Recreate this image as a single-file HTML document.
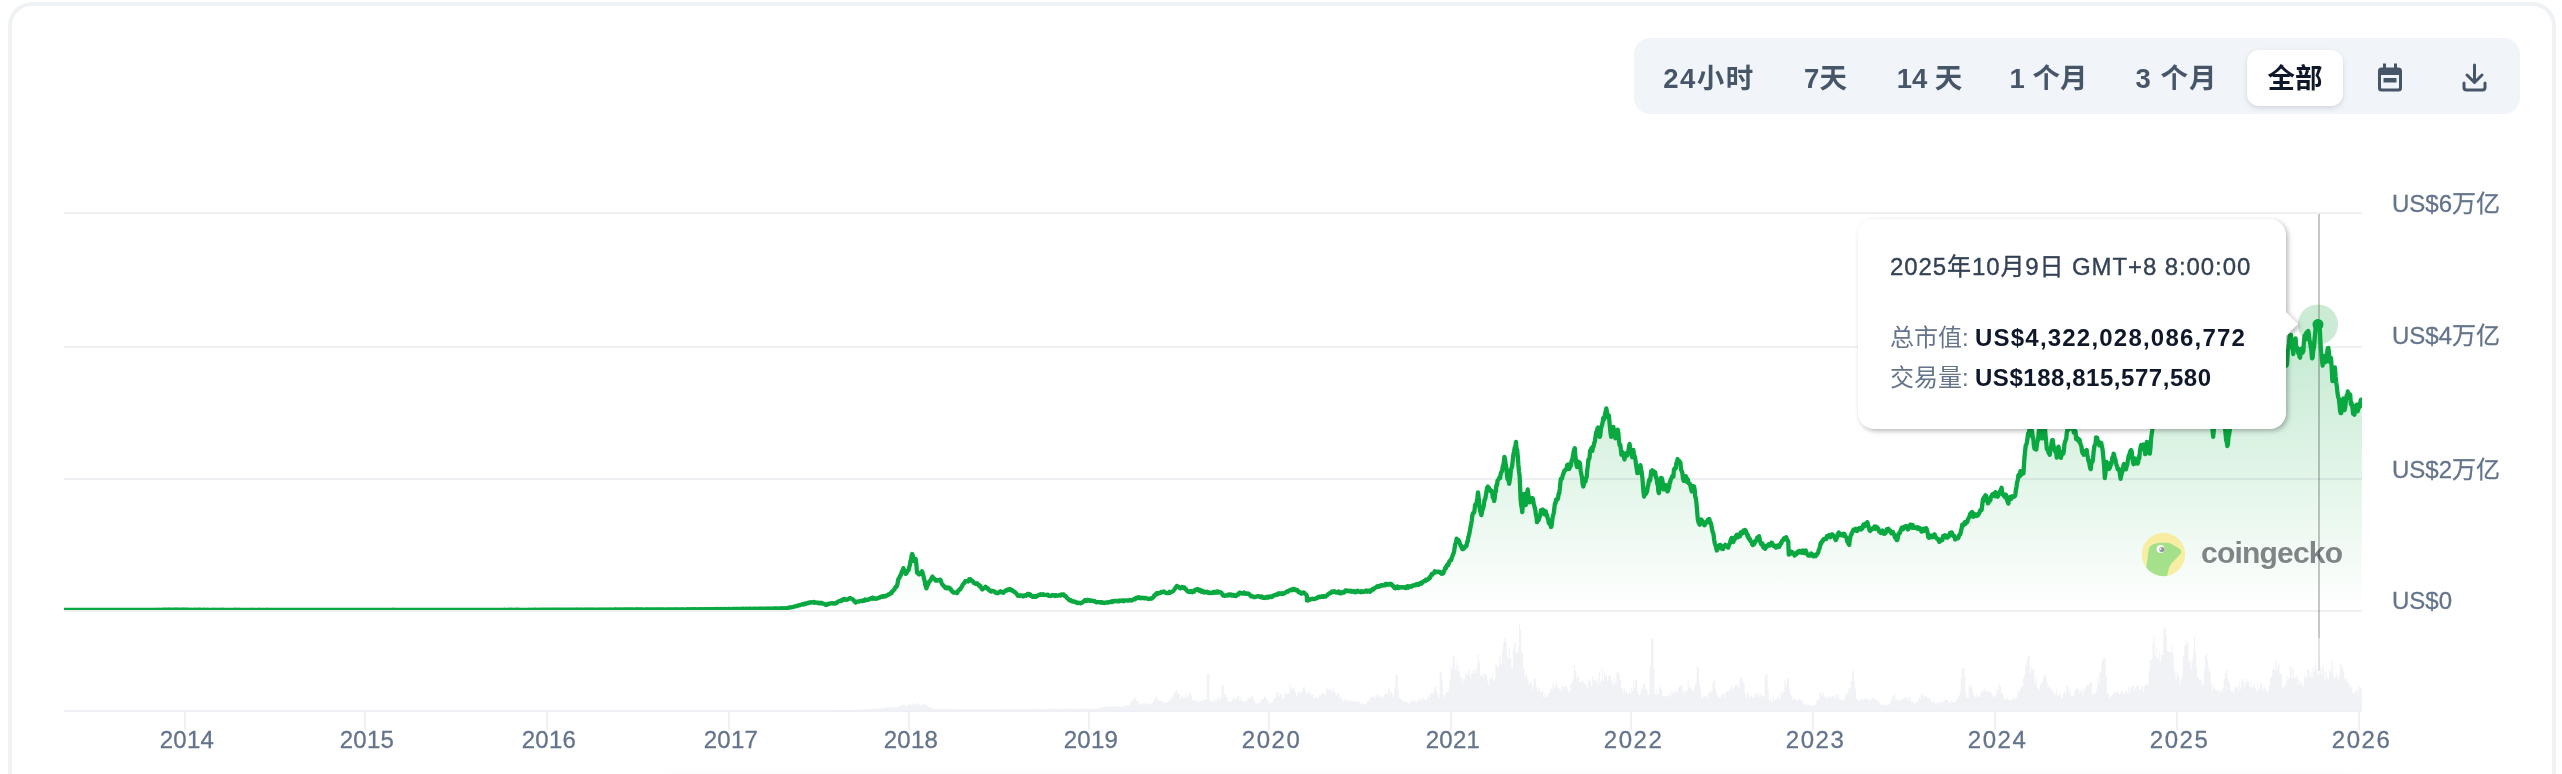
<!DOCTYPE html>
<html lang="zh-CN">
<head>
<meta charset="utf-8">
<title>加密货币总市值图表</title>
<style>
html,body{margin:0;padding:0;background:#fff;}
body{width:2562px;height:774px;overflow:hidden;position:relative;font-family:"Liberation Sans","Noto Sans CJK SC",sans-serif;color:#0f172a;}
.card{position:absolute;left:8px;top:2px;width:2540px;height:900px;border:4px solid #eff2f5;border-radius:24px;background:#fff;}
.tabs{position:absolute;left:1634px;top:38px;width:886px;height:76px;background:#f1f5f9;border-radius:16px;}
.tab{position:absolute;top:50px;height:56px;line-height:57px;font-size:27.500px;font-weight:700;color:#475569;white-space:nowrap;transform:translateX(-50%);text-align:center;}
.tab.on{color:#0f172a;}
.pill{position:absolute;left:2247px;top:50px;width:96px;height:56px;background:#fff;border-radius:12px;box-shadow:0 2px 6px rgba(15,23,42,.10),0 2px 4px -2px rgba(15,23,42,.10);}
#root{position:absolute;left:0;top:0;width:2562px;height:774px;overflow:hidden;will-change:transform;}
svg{position:absolute;left:0;top:0;}
.bshadow{position:absolute;left:660px;top:786px;width:1700px;height:40px;border-radius:10px;box-shadow:0 0 26px rgba(15,23,42,.07);}
.ylab{position:absolute;left:2392px;font-size:24px;line-height:28px;color:#64748b;white-space:nowrap;-webkit-text-stroke:.3px #64748b;}
.xlab{position:absolute;top:726px;font-size:24px;line-height:28px;color:#64748b;transform:translateX(-50%);white-space:nowrap;-webkit-text-stroke:.3px #64748b;}
.tip{position:absolute;left:1858px;top:219px;width:428px;height:210px;background:#fff;border-radius:16px;filter:drop-shadow(2px 2px 2.5px rgba(0,0,0,.28));}
.tip:after{content:"";position:absolute;left:427.5px;top:93px;border-left:12.5px solid #fff;border-top:12px solid transparent;border-bottom:12px solid transparent;}
.t1{position:absolute;left:32px;top:34px;font-size:24px;line-height:28px;color:#334155;white-space:nowrap;letter-spacing:.9px;-webkit-text-stroke:.35px #334155;}
.t2,.t3{position:absolute;left:32px;font-size:24px;line-height:28px;color:#64748b;white-space:nowrap;}
.t2{top:105px;} .t3{top:145px;}
.t2 b,.t3 b{color:#0f172a;font-weight:700;letter-spacing:1.21px;position:absolute;left:85px;top:0;}
.t3 b{letter-spacing:.54px;}
.wm{position:absolute;left:2201px;top:533px;font-size:30px;line-height:40px;font-weight:700;color:#7f8587;letter-spacing:-.8px;white-space:nowrap;}
</style>
</head>
<body>
<div id="root">
<div class="card"></div>
<div class="bshadow"></div>
<div class="tabs"></div>
<div class="pill"></div>
<div class="tab" style="left:1709px;letter-spacing:1.5px">24小时</div>
<div class="tab" style="left:1825.5px">7天</div>
<div class="tab" style="left:1929.5px">14 天</div>
<div class="tab" style="left:2048.5px">1 个月</div>
<div class="tab" style="left:2176.5px;letter-spacing:1px">3 个月</div>
<div class="tab on" style="left:2295px">全部</div>
<svg width="2562" height="774" viewBox="0 0 2562 774">
<defs>
<linearGradient id="ga" x1="0" y1="324" x2="0" y2="611" gradientUnits="userSpaceOnUse">
<stop offset="0" stop-color="#0aa840" stop-opacity=".25"/>
<stop offset="1" stop-color="#0aa840" stop-opacity="0"/>
</linearGradient>
<clipPath id="plot"><rect x="64" y="200" width="2298" height="410"/></clipPath>
</defs>
<!-- toolbar icons -->
<g fill="#475569">
<path d="M2383 63.5h3v4h8v-4h3v4h1.5a3.5 3.5 0 0 1 3.500 3.500v17a3.500 3.500 0 0 1 -3.500 3.500h-17a3.500 3.500 0 0 1 -3.500 -3.500v-17a3.500 3.500 0 0 1 3.500 -3.500h1.500zM2381 75v12.500a1 1 0 0 0 1 1h16a1 1 0 0 0 1 -1v-12.500zM2383.500 78h13v4.500h-13z" fill-rule="evenodd"/>
</g>
<g fill="none" stroke="#475569" stroke-width="3" stroke-linecap="round" stroke-linejoin="round">
<path d="M2474.500 65v17M2467 75l7.500 7.500l7.500 -7.500M2464 83v4.500a2.500 2.500 0 0 0 2.500 2.500h16a2.500 2.500 0 0 0 2.500 -2.500v-4.500"/>
</g>
<!-- grid -->
<rect x="64" y="212" width="2298" height="2" fill="#edeff3"/><rect x="64" y="346" width="2298" height="2" fill="#edeff3"/><rect x="64" y="478" width="2298" height="2" fill="#edeff3"/><rect x="64" y="610" width="2298" height="2" fill="#edeff3"/>
<!-- volume -->
<path d="M64 711 L64 710.5 L64 710.5 L64 710.5 L65 710.5 L65 710.5 L66 710.5 L66 710.5 L67 710.5 L67 710.5 L68 710.5 L68 710.5 L69 710.5 L69 710.5 L70 710.5 L70 710.5 L71 710.5 L71 710.5 L72 710.5 L72 710.5 L73 710.5 L73 710.5 L74 710.5 L74 710.5 L75 710.5 L75 710.5 L76 710.5 L76 710.5 L77 710.5 L77 710.5 L78 710.5 L78 710.5 L79 710.5 L79 710.5 L80 710.5 L80 710.5 L81 710.5 L81 710.5 L82 710.5 L82 710.5 L83 710.5 L83 710.5 L84 710.5 L84 710.5 L85 710.5 L85 710.5 L86 710.5 L86 710.5 L87 710.5 L87 710.5 L88 710.5 L88 710.5 L89 710.5 L89 710.5 L90 710.5 L90 710.5 L91 710.5 L91 710.5 L92 710.5 L92 710.5 L93 710.5 L93 710.5 L94 710.5 L94 710.5 L95 710.5 L95 710.5 L96 710.5 L96 710.5 L97 710.5 L97 710.5 L98 710.5 L98 710.5 L99 710.5 L99 710.5 L100 710.5 L100 710.5 L101 710.5 L101 710.5 L102 710.5 L102 710.5 L103 710.5 L103 710.5 L104 710.5 L104 710.5 L105 710.5 L105 710.5 L106 710.5 L106 710.5 L107 710.5 L107 710.5 L108 710.5 L108 710.5 L109 710.5 L109 710.5 L110 710.5 L110 710.5 L111 710.5 L111 710.5 L112 710.5 L112 710.5 L113 710.5 L113 710.5 L114 710.5 L114 710.5 L115 710.5 L115 710.5 L116 710.5 L116 710.5 L117 710.5 L117 710.5 L118 710.5 L118 710.5 L119 710.5 L119 710.5 L120 710.5 L120 710.5 L121 710.5 L121 710.5 L122 710.5 L122 710.5 L123 710.5 L123 710.5 L124 710.5 L124 710.5 L125 710.5 L125 710.5 L126 710.5 L126 710.5 L127 710.5 L127 710.5 L128 710.5 L128 710.5 L129 710.5 L129 710.5 L130 710.5 L130 710.5 L131 710.5 L131 710.5 L132 710.5 L132 710.5 L133 710.5 L133 710.5 L134 710.5 L134 710.5 L135 710.5 L135 710.5 L136 710.5 L136 710.5 L137 710.5 L137 710.5 L138 710.5 L138 710.5 L139 710.5 L139 710.5 L140 710.5 L140 710.5 L141 710.5 L141 710.5 L142 710.5 L142 710.5 L143 710.5 L143 710.5 L144 710.5 L144 710.5 L145 710.5 L145 710.5 L146 710.5 L146 710.5 L147 710.5 L147 710.5 L148 710.5 L148 710.5 L149 710.5 L149 710.5 L150 710.5 L150 710.5 L151 710.5 L151 710.5 L152 710.5 L152 710.5 L153 710.5 L153 710.5 L154 710.5 L154 710.5 L155 710.5 L155 710.5 L156 710.5 L156 710.5 L157 710.5 L157 710.5 L158 710.5 L158 710.5 L159 710.5 L159 710.5 L160 710.5 L160 710.5 L161 710.5 L161 710.5 L162 710.5 L162 710.5 L163 710.5 L163 710.5 L164 710.5 L164 710.5 L165 710.5 L165 710.5 L166 710.5 L166 710.5 L167 710.5 L167 710.5 L168 710.5 L168 710.5 L169 710.5 L169 710.5 L170 710.5 L170 710.5 L171 710.5 L171 710.5 L172 710.5 L172 710.5 L173 710.5 L173 710.5 L174 710.5 L174 710.5 L175 710.5 L175 710.5 L176 710.5 L176 710.5 L177 710.5 L177 710.5 L178 710.5 L178 710.5 L179 710.5 L179 710.5 L180 710.5 L180 710.5 L181 710.5 L181 710.5 L182 710.5 L182 710.5 L183 710.5 L183 710.5 L184 710.5 L184 710.5 L185 710.5 L185 710.5 L186 710.5 L186 710.5 L187 710.5 L187 710.5 L188 710.5 L188 710.5 L189 710.5 L189 710.5 L190 710.5 L190 710.5 L191 710.5 L191 710.5 L192 710.5 L192 710.5 L193 710.5 L193 710.5 L194 710.5 L194 710.5 L195 710.5 L195 710.5 L196 710.5 L196 710.5 L197 710.5 L197 710.5 L198 710.5 L198 710.5 L199 710.5 L199 710.5 L200 710.5 L200 710.5 L201 710.5 L201 710.5 L202 710.5 L202 710.5 L203 710.5 L203 710.5 L204 710.5 L204 710.5 L205 710.5 L205 710.5 L206 710.5 L206 710.5 L207 710.5 L207 710.5 L208 710.5 L208 710.5 L209 710.5 L209 710.5 L210 710.5 L210 710.5 L211 710.5 L211 710.5 L212 710.5 L212 710.5 L213 710.5 L213 710.5 L214 710.5 L214 710.5 L215 710.5 L215 710.5 L216 710.5 L216 710.5 L217 710.5 L217 710.5 L218 710.5 L218 710.4 L219 710.4 L219 710.5 L220 710.5 L220 710.4 L221 710.4 L221 710.5 L222 710.5 L222 710.5 L223 710.5 L223 710.4 L224 710.4 L224 710.4 L225 710.4 L225 710.5 L226 710.5 L226 710.5 L227 710.5 L227 710.5 L228 710.5 L228 710.5 L229 710.5 L229 710.5 L230 710.5 L230 710.4 L231 710.4 L231 710.4 L232 710.4 L232 710.5 L233 710.5 L233 710.5 L234 710.5 L234 710.4 L235 710.4 L235 710.4 L236 710.4 L236 710.4 L237 710.4 L237 710.5 L238 710.5 L238 710.5 L239 710.5 L239 710.5 L240 710.5 L240 710.4 L241 710.4 L241 710.5 L242 710.5 L242 710.5 L243 710.5 L243 710.4 L244 710.4 L244 710.4 L245 710.4 L245 710.4 L246 710.4 L246 710.4 L247 710.4 L247 710.5 L248 710.5 L248 710.5 L249 710.5 L249 710.4 L250 710.4 L250 710.4 L251 710.4 L251 710.4 L252 710.4 L252 710.4 L253 710.4 L253 710.4 L254 710.4 L254 710.4 L255 710.4 L255 710.4 L256 710.4 L256 710.4 L257 710.4 L257 710.4 L258 710.4 L258 710.4 L259 710.4 L259 710.4 L260 710.4 L260 710.4 L261 710.4 L261 710.4 L262 710.4 L262 710.4 L263 710.4 L263 710.5 L264 710.5 L264 710.4 L265 710.4 L265 710.4 L266 710.4 L266 710.4 L267 710.4 L267 710.5 L268 710.5 L268 710.4 L269 710.4 L269 710.4 L270 710.4 L270 710.4 L271 710.4 L271 710.4 L272 710.4 L272 710.4 L273 710.4 L273 710.4 L274 710.4 L274 710.5 L275 710.5 L275 710.4 L276 710.4 L276 710.4 L277 710.4 L277 710.4 L278 710.4 L278 710.4 L279 710.4 L279 710.4 L280 710.4 L280 710.4 L281 710.4 L281 710.4 L282 710.4 L282 710.4 L283 710.4 L283 710.4 L284 710.4 L284 710.4 L285 710.4 L285 710.4 L286 710.4 L286 710.4 L287 710.4 L287 710.4 L288 710.4 L288 710.4 L289 710.4 L289 710.4 L290 710.4 L290 710.4 L291 710.4 L291 710.4 L292 710.4 L292 710.4 L293 710.4 L293 710.4 L294 710.4 L294 710.4 L295 710.4 L295 710.4 L296 710.4 L296 710.4 L297 710.4 L297 710.4 L298 710.4 L298 710.4 L299 710.4 L299 710.4 L300 710.4 L300 710.4 L301 710.4 L301 710.4 L302 710.4 L302 710.4 L303 710.4 L303 710.4 L304 710.4 L304 710.4 L305 710.4 L305 710.4 L306 710.4 L306 710.4 L307 710.4 L307 710.4 L308 710.4 L308 710.4 L309 710.4 L309 710.4 L310 710.4 L310 710.4 L311 710.4 L311 710.4 L312 710.4 L312 710.4 L313 710.4 L313 710.4 L314 710.4 L314 710.4 L315 710.4 L315 710.4 L316 710.4 L316 710.4 L317 710.4 L317 710.4 L318 710.4 L318 710.4 L319 710.4 L319 710.4 L320 710.4 L320 710.4 L321 710.4 L321 710.4 L322 710.4 L322 710.4 L323 710.4 L323 710.4 L324 710.4 L324 710.4 L325 710.4 L325 710.4 L326 710.4 L326 710.4 L327 710.4 L327 710.4 L328 710.4 L328 710.4 L329 710.4 L329 710.4 L330 710.4 L330 710.4 L331 710.4 L331 710.4 L332 710.4 L332 710.4 L333 710.4 L333 710.4 L334 710.4 L334 710.4 L335 710.4 L335 710.4 L336 710.4 L336 710.4 L337 710.4 L337 710.4 L338 710.4 L338 710.4 L339 710.4 L339 710.4 L340 710.4 L340 710.4 L341 710.4 L341 710.4 L342 710.4 L342 710.4 L343 710.4 L343 710.4 L344 710.4 L344 710.4 L345 710.4 L345 710.4 L346 710.4 L346 710.4 L347 710.4 L347 710.4 L348 710.4 L348 710.4 L349 710.4 L349 710.4 L350 710.4 L350 710.4 L351 710.4 L351 710.4 L352 710.4 L352 710.4 L353 710.4 L353 710.4 L354 710.4 L354 710.4 L355 710.4 L355 710.4 L356 710.4 L356 710.4 L357 710.4 L357 710.4 L358 710.4 L358 710.4 L359 710.4 L359 710.4 L360 710.4 L360 710.4 L361 710.4 L361 710.4 L362 710.4 L362 710.4 L363 710.4 L363 710.4 L364 710.4 L364 710.4 L365 710.4 L365 710.4 L366 710.4 L366 710.4 L367 710.4 L367 710.4 L368 710.4 L368 710.4 L369 710.4 L369 710.4 L370 710.4 L370 710.4 L371 710.4 L371 710.4 L372 710.4 L372 710.4 L373 710.4 L373 710.4 L374 710.4 L374 710.4 L375 710.4 L375 710.4 L376 710.4 L376 710.4 L377 710.4 L377 710.4 L378 710.4 L378 710.4 L379 710.4 L379 710.4 L380 710.4 L380 710.4 L381 710.4 L381 710.4 L382 710.4 L382 710.4 L383 710.4 L383 710.4 L384 710.4 L384 710.4 L385 710.4 L385 710.4 L386 710.4 L386 710.4 L387 710.4 L387 710.4 L388 710.4 L388 710.4 L389 710.4 L389 710.4 L390 710.4 L390 710.4 L391 710.4 L391 710.4 L392 710.4 L392 710.4 L393 710.4 L393 710.4 L394 710.4 L394 710.4 L395 710.4 L395 710.4 L396 710.4 L396 710.4 L397 710.4 L397 710.4 L398 710.4 L398 710.4 L399 710.4 L399 710.4 L400 710.4 L400 710.4 L401 710.4 L401 710.4 L402 710.4 L402 710.4 L403 710.4 L403 710.4 L404 710.4 L404 710.4 L405 710.4 L405 710.4 L406 710.4 L406 710.4 L407 710.4 L407 710.4 L408 710.4 L408 710.4 L409 710.4 L409 710.4 L410 710.4 L410 710.4 L411 710.4 L411 710.4 L412 710.4 L412 710.4 L413 710.4 L413 710.4 L414 710.4 L414 710.4 L415 710.4 L415 710.4 L416 710.4 L416 710.4 L417 710.4 L417 710.4 L418 710.4 L418 710.4 L419 710.4 L419 710.4 L420 710.4 L420 710.4 L421 710.4 L421 710.4 L422 710.4 L422 710.4 L423 710.4 L423 710.4 L424 710.4 L424 710.4 L425 710.4 L425 710.4 L426 710.4 L426 710.4 L427 710.4 L427 710.4 L428 710.4 L428 710.4 L429 710.4 L429 710.4 L430 710.4 L430 710.4 L431 710.4 L431 710.4 L432 710.4 L432 710.4 L433 710.4 L433 710.4 L434 710.4 L434 710.4 L435 710.4 L435 710.4 L436 710.4 L436 710.4 L437 710.4 L437 710.4 L438 710.4 L438 710.4 L439 710.4 L439 710.4 L440 710.4 L440 710.4 L441 710.4 L441 710.4 L442 710.4 L442 710.4 L443 710.4 L443 710.4 L444 710.4 L444 710.4 L445 710.4 L445 710.4 L446 710.4 L446 710.4 L447 710.4 L447 710.4 L448 710.4 L448 710.4 L449 710.4 L449 710.4 L450 710.4 L450 710.4 L451 710.4 L451 710.4 L452 710.4 L452 710.4 L453 710.4 L453 710.4 L454 710.4 L454 710.4 L455 710.4 L455 710.4 L456 710.4 L456 710.4 L457 710.4 L457 710.4 L458 710.4 L458 710.4 L459 710.4 L459 710.4 L460 710.4 L460 710.4 L461 710.4 L461 710.4 L462 710.4 L462 710.4 L463 710.4 L463 710.4 L464 710.4 L464 710.4 L465 710.4 L465 710.4 L466 710.4 L466 710.4 L467 710.4 L467 710.4 L468 710.4 L468 710.4 L469 710.4 L469 710.4 L470 710.4 L470 710.4 L471 710.4 L471 710.4 L472 710.4 L472 710.4 L473 710.4 L473 710.4 L474 710.4 L474 710.4 L475 710.4 L475 710.4 L476 710.4 L476 710.4 L477 710.4 L477 710.4 L478 710.4 L478 710.4 L479 710.4 L479 710.4 L480 710.4 L480 710.4 L481 710.4 L481 710.4 L482 710.4 L482 710.4 L483 710.4 L483 710.4 L484 710.4 L484 710.4 L485 710.4 L485 710.4 L486 710.4 L486 710.4 L487 710.4 L487 710.4 L488 710.4 L488 710.4 L489 710.4 L489 710.4 L490 710.4 L490 710.4 L491 710.4 L491 710.4 L492 710.4 L492 710.3 L493 710.3 L493 710.4 L494 710.4 L494 710.4 L495 710.4 L495 710.4 L496 710.4 L496 710.4 L497 710.4 L497 710.4 L498 710.4 L498 710.4 L499 710.4 L499 710.3 L500 710.3 L500 710.3 L501 710.3 L501 710.4 L502 710.4 L502 710.3 L503 710.3 L503 710.4 L504 710.4 L504 710.4 L505 710.4 L505 710.4 L506 710.4 L506 710.4 L507 710.4 L507 710.4 L508 710.4 L508 710.4 L509 710.4 L509 710.4 L510 710.4 L510 710.4 L511 710.4 L511 710.4 L512 710.4 L512 710.3 L513 710.3 L513 710.4 L514 710.4 L514 710.4 L515 710.4 L515 710.4 L516 710.4 L516 710.4 L517 710.4 L517 710.4 L518 710.4 L518 710.4 L519 710.4 L519 710.4 L520 710.4 L520 710.4 L521 710.4 L521 710.4 L522 710.4 L522 710.4 L523 710.4 L523 710.4 L524 710.4 L524 710.4 L525 710.4 L525 710.3 L526 710.3 L526 710.4 L527 710.4 L527 710.4 L528 710.4 L528 710.3 L529 710.3 L529 710.4 L530 710.4 L530 710.4 L531 710.4 L531 710.3 L532 710.3 L532 710.4 L533 710.4 L533 710.4 L534 710.4 L534 710.4 L535 710.4 L535 710.4 L536 710.4 L536 710.4 L537 710.4 L537 710.4 L538 710.4 L538 710.4 L539 710.4 L539 710.3 L540 710.3 L540 710.3 L541 710.3 L541 710.4 L542 710.4 L542 710.3 L543 710.3 L543 710.4 L544 710.4 L544 710.4 L545 710.4 L545 710.4 L546 710.4 L546 710.3 L547 710.3 L547 710.4 L548 710.4 L548 710.4 L549 710.4 L549 710.4 L550 710.4 L550 710.3 L551 710.3 L551 710.4 L552 710.4 L552 710.4 L553 710.4 L553 710.4 L554 710.4 L554 710.4 L555 710.4 L555 710.3 L556 710.3 L556 710.4 L557 710.4 L557 710.3 L558 710.3 L558 710.4 L559 710.4 L559 710.4 L560 710.4 L560 710.4 L561 710.4 L561 710.4 L562 710.4 L562 710.3 L563 710.3 L563 710.3 L564 710.3 L564 710.4 L565 710.4 L565 710.4 L566 710.4 L566 710.4 L567 710.4 L567 710.3 L568 710.3 L568 710.3 L569 710.3 L569 710.3 L570 710.3 L570 710.3 L571 710.3 L571 710.4 L572 710.4 L572 710.4 L573 710.4 L573 710.4 L574 710.4 L574 710.3 L575 710.3 L575 710.3 L576 710.3 L576 710.4 L577 710.4 L577 710.4 L578 710.4 L578 710.3 L579 710.3 L579 710.4 L580 710.4 L580 710.3 L581 710.3 L581 710.3 L582 710.3 L582 710.3 L583 710.3 L583 710.4 L584 710.4 L584 710.3 L585 710.3 L585 710.3 L586 710.3 L586 710.3 L587 710.3 L587 710.3 L588 710.3 L588 710.3 L589 710.3 L589 710.4 L590 710.4 L590 710.3 L591 710.3 L591 710.3 L592 710.3 L592 710.3 L593 710.3 L593 710.3 L594 710.3 L594 710.4 L595 710.4 L595 710.3 L596 710.3 L596 710.3 L597 710.3 L597 710.3 L598 710.3 L598 710.3 L599 710.3 L599 710.3 L600 710.3 L600 710.4 L601 710.4 L601 710.3 L602 710.3 L602 710.4 L603 710.4 L603 710.3 L604 710.3 L604 710.3 L605 710.3 L605 710.3 L606 710.3 L606 710.3 L607 710.3 L607 710.3 L608 710.3 L608 710.3 L609 710.3 L609 710.4 L610 710.4 L610 710.3 L611 710.3 L611 710.3 L612 710.3 L612 710.4 L613 710.4 L613 710.3 L614 710.3 L614 710.4 L615 710.4 L615 710.4 L616 710.4 L616 710.3 L617 710.3 L617 710.3 L618 710.3 L618 710.3 L619 710.3 L619 710.3 L620 710.3 L620 710.3 L621 710.3 L621 710.4 L622 710.4 L622 710.3 L623 710.3 L623 710.3 L624 710.3 L624 710.3 L625 710.3 L625 710.3 L626 710.3 L626 710.3 L627 710.3 L627 710.3 L628 710.3 L628 710.3 L629 710.3 L629 710.3 L630 710.3 L630 710.3 L631 710.3 L631 710.3 L632 710.3 L632 710.3 L633 710.3 L633 710.3 L634 710.3 L634 710.4 L635 710.4 L635 710.4 L636 710.4 L636 710.4 L637 710.4 L637 710.4 L638 710.4 L638 710.4 L639 710.4 L639 710.3 L640 710.3 L640 710.3 L641 710.3 L641 710.3 L642 710.3 L642 710.3 L643 710.3 L643 710.3 L644 710.3 L644 710.3 L645 710.3 L645 710.3 L646 710.3 L646 710.3 L647 710.3 L647 710.3 L648 710.3 L648 710.4 L649 710.4 L649 710.3 L650 710.3 L650 710.3 L651 710.3 L651 710.3 L652 710.3 L652 710.3 L653 710.3 L653 710.3 L654 710.3 L654 710.3 L655 710.3 L655 710.3 L656 710.3 L656 710.4 L657 710.4 L657 710.3 L658 710.3 L658 710.3 L659 710.3 L659 710.4 L660 710.4 L660 710.3 L661 710.3 L661 710.3 L662 710.3 L662 710.3 L663 710.3 L663 710.3 L664 710.3 L664 710.3 L665 710.3 L665 710.3 L666 710.3 L666 710.4 L667 710.4 L667 710.4 L668 710.4 L668 710.3 L669 710.3 L669 710.3 L670 710.3 L670 710.4 L671 710.4 L671 710.4 L672 710.4 L672 710.3 L673 710.3 L673 710.3 L674 710.3 L674 710.3 L675 710.3 L675 710.4 L676 710.4 L676 710.3 L677 710.3 L677 710.3 L678 710.3 L678 710.4 L679 710.4 L679 710.3 L680 710.3 L680 710.3 L681 710.3 L681 710.3 L682 710.3 L682 710.3 L683 710.3 L683 710.3 L684 710.3 L684 710.3 L685 710.3 L685 710.3 L686 710.3 L686 710.3 L687 710.3 L687 710.4 L688 710.4 L688 710.3 L689 710.3 L689 710.3 L690 710.3 L690 710.3 L691 710.3 L691 710.3 L692 710.3 L692 710.3 L693 710.3 L693 710.3 L694 710.3 L694 710.3 L695 710.3 L695 710.3 L696 710.3 L696 710.3 L697 710.3 L697 710.3 L698 710.3 L698 710.3 L699 710.3 L699 710.3 L700 710.3 L700 710.3 L701 710.3 L701 710.3 L702 710.3 L702 710.3 L703 710.3 L703 710.3 L704 710.3 L704 710.3 L705 710.3 L705 710.3 L706 710.3 L706 710.3 L707 710.3 L707 710.3 L708 710.3 L708 710.3 L709 710.3 L709 710.3 L710 710.3 L710 710.3 L711 710.3 L711 710.2 L712 710.2 L712 710.3 L713 710.3 L713 710.2 L714 710.2 L714 710.3 L715 710.3 L715 710.2 L716 710.2 L716 710.2 L717 710.2 L717 710.2 L718 710.2 L718 710.3 L719 710.3 L719 710.3 L720 710.3 L720 710.2 L721 710.2 L721 710.2 L722 710.2 L722 710.3 L723 710.3 L723 710.3 L724 710.3 L724 710.2 L725 710.2 L725 710.3 L726 710.3 L726 710.2 L727 710.2 L727 710.2 L728 710.2 L728 710.2 L729 710.2 L729 710.2 L730 710.2 L730 710.3 L731 710.3 L731 710.2 L732 710.2 L732 710.2 L733 710.2 L733 710.2 L734 710.2 L734 710.2 L735 710.2 L735 710.2 L736 710.2 L736 710.2 L737 710.2 L737 710.2 L738 710.2 L738 710.2 L739 710.2 L739 710.2 L740 710.2 L740 710.2 L741 710.2 L741 710.2 L742 710.2 L742 710.2 L743 710.2 L743 710.2 L744 710.2 L744 710.2 L745 710.2 L745 710.1 L746 710.1 L746 710.2 L747 710.2 L747 710.2 L748 710.2 L748 710.2 L749 710.2 L749 710.1 L750 710.1 L750 710.2 L751 710.2 L751 710.2 L752 710.2 L752 710.1 L753 710.1 L753 710.1 L754 710.1 L754 710.2 L755 710.2 L755 710.2 L756 710.2 L756 710.1 L757 710.1 L757 710.1 L758 710.1 L758 710.1 L759 710.1 L759 710.1 L760 710.1 L760 710.1 L761 710.1 L761 710.1 L762 710.1 L762 710.1 L763 710.1 L763 710.2 L764 710.2 L764 710.1 L765 710.1 L765 710.2 L766 710.2 L766 710.1 L767 710.1 L767 710 L768 710 L768 710.2 L769 710.2 L769 710.1 L770 710.1 L770 710.2 L771 710.2 L771 710.2 L772 710.2 L772 710.1 L773 710.1 L773 710.1 L774 710.1 L774 710.2 L775 710.2 L775 710.1 L776 710.1 L776 710.1 L777 710.1 L777 710.1 L778 710.1 L778 710.2 L779 710.2 L779 710.1 L780 710.1 L780 710 L781 710 L781 710.1 L782 710.1 L782 710.1 L783 710.1 L783 710.1 L784 710.1 L784 710 L785 710 L785 710 L786 710 L786 710 L787 710 L787 710 L788 710 L788 710.1 L789 710.1 L789 710.1 L790 710.1 L790 710.1 L791 710.1 L791 710 L792 710 L792 710.1 L793 710.1 L793 710.1 L794 710.1 L794 709.9 L795 709.9 L795 710.1 L796 710.1 L796 709.9 L797 709.9 L797 710.1 L798 710.1 L798 710 L799 710 L799 710.1 L800 710.1 L800 709.9 L801 709.9 L801 710 L802 710 L802 710 L803 710 L803 710 L804 710 L804 709.9 L805 709.9 L805 710 L806 710 L806 710 L807 710 L807 710 L808 710 L808 710.1 L809 710.1 L809 709.9 L810 709.9 L810 710 L811 710 L811 709.9 L812 709.9 L812 710 L813 710 L813 710 L814 710 L814 710 L815 710 L815 709.9 L816 709.9 L816 710.1 L817 710.1 L817 710 L818 710 L818 710 L819 710 L819 710.1 L820 710.1 L820 709.9 L821 709.9 L821 709.9 L822 709.9 L822 710 L823 710 L823 709.9 L824 709.9 L824 709.9 L825 709.9 L825 710 L826 710 L826 710 L827 710 L827 709.8 L828 709.8 L828 710 L829 710 L829 709.9 L830 709.9 L830 710 L831 710 L831 710 L832 710 L832 710 L833 710 L833 709.8 L834 709.8 L834 709.9 L835 709.9 L835 709.8 L836 709.8 L836 709.8 L837 709.8 L837 709.9 L838 709.9 L838 709.8 L839 709.8 L839 709.9 L840 709.9 L840 709.9 L841 709.9 L841 709.8 L842 709.8 L842 709.8 L843 709.8 L843 709.8 L844 709.8 L844 709.9 L845 709.9 L845 709.8 L846 709.8 L846 709.9 L847 709.9 L847 709.7 L848 709.7 L848 709.8 L849 709.8 L849 709.9 L850 709.9 L850 709.8 L851 709.8 L851 710 L852 710 L852 710 L853 710 L853 709.8 L854 709.8 L854 709.9 L855 709.9 L855 709.8 L856 709.8 L856 709.8 L857 709.8 L857 710 L858 710 L858 709.8 L859 709.8 L859 709.8 L860 709.8 L860 709.8 L861 709.8 L861 709.7 L862 709.7 L862 709.7 L863 709.7 L863 709.4 L864 709.4 L864 709.3 L865 709.3 L865 709.5 L866 709.5 L866 709.5 L867 709.5 L867 709.3 L868 709.3 L868 709.2 L869 709.2 L869 709.3 L870 709.3 L870 709.2 L871 709.2 L871 708.7 L872 708.7 L872 708.7 L873 708.7 L873 708.4 L874 708.4 L874 708.3 L875 708.3 L875 708.3 L876 708.3 L876 708.6 L877 708.6 L877 708.7 L878 708.7 L878 708.5 L879 708.5 L879 708.3 L880.1 708.3 L880.1 708.2 L881.1 708.2 L881.1 708.1 L882.1 708.1 L882.1 708.2 L883.1 708.2 L883.1 707.6 L884.1 707.6 L884.1 708.1 L885.1 708.1 L885.1 707.8 L886.1 707.8 L886.1 707.2 L887.1 707.2 L887.1 707.2 L888.1 707.2 L888.1 707.8 L889.1 707.8 L889.1 707.8 L890.1 707.8 L890.1 707 L891.1 707 L891.1 708 L892.1 708 L892.1 707.7 L893.1 707.7 L893.1 707.1 L894.1 707.1 L894.1 707 L895.1 707 L895.1 707.5 L896.1 707.5 L896.1 707.6 L897.1 707.6 L897.1 706.6 L898.1 706.6 L898.1 707.1 L899.2 707.1 L899.2 705.9 L900.2 705.9 L900.2 706.2 L901.3 706.2 L901.3 704.9 L902.4 704.9 L902.4 705 L903.4 705 L903.4 704.3 L904.5 704.3 L904.5 706.2 L905.5 706.2 L905.5 705.6 L906.6 705.6 L906.6 705.8 L907.7 705.8 L907.7 704.5 L908.7 704.5 L908.7 703.7 L909.8 703.7 L909.8 704.5 L910.8 704.5 L910.8 705.2 L911.9 705.2 L911.9 703.7 L912.9 703.7 L912.9 704.9 L914 704.9 L914 704.2 L915 704.2 L915 704.4 L916.1 704.4 L916.1 703.1 L917.1 703.1 L917.1 702.9 L918.1 702.9 L918.1 704.1 L919.1 704.1 L919.1 704.8 L920.2 704.8 L920.2 705.5 L921.2 705.5 L921.2 704.7 L922.2 704.7 L922.2 704.4 L923.2 704.4 L923.2 704.4 L924.2 704.4 L924.2 704.1 L925.3 704.1 L925.3 704.5 L926.3 704.5 L926.3 705.1 L927.3 705.1 L927.3 706.6 L928.5 706.6 L928.5 707.4 L929.7 707.4 L929.7 707.2 L930.8 707.2 L930.8 708 L932 708 L932 708.9 L933.2 708.9 L933.2 709 L934.2 709 L934.2 708.8 L935.2 708.8 L935.2 709 L936.3 709 L936.3 709.2 L937.3 709.2 L937.3 709.2 L938.3 709.2 L938.3 709.3 L939.3 709.3 L939.3 709 L940.3 709 L940.3 708.8 L941.4 708.8 L941.4 708.8 L942.4 708.8 L942.4 709.1 L943.4 709.1 L943.4 709 L944.4 709 L944.4 708.8 L945.5 708.8 L945.5 708.9 L946.5 708.9 L946.5 709 L947.5 709 L947.5 709.1 L948.5 709.1 L948.5 709.1 L949.5 709.1 L949.5 709.3 L950.6 709.3 L950.6 709.3 L951.6 709.3 L951.6 709 L952.6 709 L952.6 708.8 L953.6 708.8 L953.6 709.1 L954.6 709.1 L954.6 709.2 L955.7 709.2 L955.7 709.2 L956.7 709.2 L956.7 709.2 L957.7 709.2 L957.7 709 L958.7 709 L958.7 709.2 L959.7 709.2 L959.7 708.9 L960.8 708.9 L960.8 709.4 L961.8 709.4 L961.8 709.3 L962.8 709.3 L962.8 709.2 L963.8 709.2 L963.8 709.2 L964.8 709.2 L964.8 709 L965.9 709 L965.9 709 L966.9 709 L966.9 709 L967.9 709 L967.9 709.2 L968.9 709.2 L968.9 709.5 L970 709.5 L970 709.2 L971 709.2 L971 709.2 L972 709.2 L972 709.3 L973 709.3 L973 709.4 L974 709.4 L974 709.2 L975.1 709.2 L975.1 709.1 L976.1 709.1 L976.1 709.2 L977.1 709.2 L977.1 709.5 L978.1 709.5 L978.1 709.2 L979.1 709.2 L979.1 709.3 L980.1 709.3 L980.1 709.3 L981.1 709.3 L981.1 709 L982.1 709 L982.1 709 L983.2 709 L983.2 709.2 L984.2 709.2 L984.2 709.4 L985.2 709.4 L985.2 709 L986.2 709 L986.2 709.4 L987.2 709.4 L987.2 709.3 L988.2 709.3 L988.2 709 L989.2 709 L989.2 709.3 L990.2 709.3 L990.2 709.3 L991.2 709.3 L991.2 709 L992.2 709 L992.2 709 L993.2 709 L993.2 709.3 L994.2 709.3 L994.2 709.3 L995.3 709.3 L995.3 709.3 L996.3 709.3 L996.3 709.4 L997.3 709.4 L997.3 709.3 L998.3 709.3 L998.3 708.9 L999.3 708.9 L999.3 709.4 L1000.3 709.4 L1000.3 709.3 L1001.3 709.3 L1001.3 709.3 L1002.3 709.3 L1002.3 709.4 L1003.3 709.4 L1003.3 709.1 L1004.3 709.1 L1004.3 709 L1005.3 709 L1005.3 708.9 L1006.3 708.9 L1006.3 709.1 L1007.4 709.1 L1007.4 708.9 L1008.4 708.9 L1008.4 709.4 L1009.4 709.4 L1009.4 709.2 L1010.4 709.2 L1010.4 708.8 L1011.4 708.8 L1011.4 709.4 L1012.4 709.4 L1012.4 709.2 L1013.4 709.2 L1013.4 709.1 L1014.4 709.1 L1014.4 709.2 L1015.4 709.2 L1015.4 709.1 L1016.4 709.1 L1016.4 709.4 L1017.4 709.4 L1017.4 709.2 L1018.5 709.2 L1018.5 708.8 L1019.5 708.8 L1019.5 709.3 L1020.5 709.3 L1020.5 708.8 L1021.5 708.8 L1021.5 709.3 L1022.5 709.3 L1022.5 708.8 L1023.5 708.8 L1023.5 708.9 L1024.5 708.9 L1024.5 709 L1025.5 709 L1025.5 709.3 L1026.5 709.3 L1026.5 709.3 L1027.5 709.3 L1027.5 708.9 L1028.5 708.9 L1028.5 709.2 L1029.5 709.2 L1029.5 709.2 L1030.6 709.2 L1030.6 708.8 L1031.6 708.8 L1031.6 708.8 L1032.6 708.8 L1032.6 709.3 L1033.6 709.3 L1033.6 708.7 L1034.6 708.7 L1034.6 708.9 L1035.6 708.9 L1035.6 709 L1036.6 709 L1036.6 709.1 L1037.6 709.1 L1037.6 709.2 L1038.6 709.2 L1038.6 709.1 L1039.6 709.1 L1039.6 708.7 L1040.7 708.7 L1040.7 709.1 L1041.7 709.1 L1041.7 709.2 L1042.7 709.2 L1042.7 709.2 L1043.7 709.2 L1043.7 709.2 L1044.7 709.2 L1044.7 709.1 L1045.7 709.1 L1045.7 708.7 L1046.7 708.7 L1046.7 709.2 L1047.7 709.2 L1047.7 709.2 L1048.7 709.2 L1048.7 708.7 L1049.7 708.7 L1049.7 708.6 L1050.8 708.6 L1050.8 708.6 L1051.8 708.6 L1051.8 709.1 L1052.8 709.1 L1052.8 709 L1053.8 709 L1053.8 708.6 L1054.8 708.6 L1054.8 708.9 L1055.8 708.9 L1055.8 708.8 L1056.8 708.8 L1056.8 709 L1057.8 709 L1057.8 709.2 L1058.8 709.2 L1058.8 709 L1059.8 709 L1059.8 708.7 L1060.9 708.7 L1060.9 708.7 L1061.9 708.7 L1061.9 708.9 L1062.9 708.9 L1062.9 708.9 L1063.9 708.9 L1063.9 708.9 L1064.9 708.9 L1064.9 708.9 L1065.9 708.9 L1065.9 708.9 L1066.9 708.9 L1066.9 708.7 L1067.9 708.7 L1067.9 709.1 L1068.9 709.1 L1068.9 708.8 L1070 708.8 L1070 708.6 L1071 708.6 L1071 708.6 L1072 708.6 L1072 709.1 L1073 709.1 L1073 708.6 L1074 708.6 L1074 708.6 L1075 708.6 L1075 709.1 L1076 709.1 L1076 709 L1077 709 L1077 709.1 L1078 709.1 L1078 709.2 L1079 709.2 L1079 708.5 L1080.1 708.5 L1080.1 708.9 L1081.1 708.9 L1081.1 708.6 L1082.1 708.6 L1082.1 709.1 L1083.1 709.1 L1083.1 709.2 L1084.1 709.2 L1084.1 708.6 L1085.1 708.6 L1085.1 708.6 L1086.1 708.6 L1086.1 708.5 L1087.1 708.5 L1087.1 708.7 L1088.1 708.7 L1088.1 708.8 L1089.1 708.8 L1089.1 708.6 L1090.2 708.6 L1090.2 709.1 L1091.2 709.1 L1091.2 708.8 L1092.2 708.8 L1092.2 708.9 L1093.2 708.9 L1093.2 708.7 L1094.2 708.7 L1094.2 708.9 L1095.2 708.9 L1095.2 708.4 L1096.3 708.4 L1096.3 708.5 L1097.3 708.5 L1097.3 708.2 L1098.3 708.2 L1098.3 708.2 L1099.4 708.2 L1099.4 708.1 L1100.4 708.1 L1100.4 707.9 L1101.4 707.9 L1101.4 707.5 L1102.5 707.5 L1102.5 706.8 L1103.5 706.8 L1103.5 706.7 L1104.6 706.7 L1104.6 706.7 L1105.6 706.7 L1105.6 706.5 L1106.6 706.5 L1106.6 707.2 L1107.7 707.2 L1107.7 706 L1108.7 706 L1108.7 707 L1109.7 707 L1109.7 707.1 L1110.8 707.1 L1110.8 706 L1111.8 706 L1111.8 706.3 L1112.9 706.3 L1112.9 706 L1113.9 706 L1113.9 706.7 L1115 706.7 L1115 706.2 L1116.1 706.2 L1116.1 706.9 L1117.1 706.9 L1117.1 705.8 L1118.2 705.8 L1118.2 706.7 L1119.2 706.7 L1119.2 706.7 L1120.3 706.7 L1120.3 706.7 L1121.4 706.7 L1121.4 706.2 L1122.4 706.2 L1122.4 706.6 L1123.5 706.6 L1123.5 705.6 L1124.5 705.6 L1124.5 706 L1125.6 706 L1125.6 705.8 L1126.6 705.8 L1126.6 705 L1127.7 705 L1127.7 705.9 L1128.7 705.9 L1128.7 704.7 L1129.8 704.7 L1129.8 703.7 L1130.8 703.7 L1130.8 701.4 L1131.9 701.4 L1131.9 699.9 L1133 699.9 L1133 701.6 L1134.1 701.6 L1134.1 697.2 L1135.2 697.2 L1135.2 697.9 L1136.3 697.9 L1136.3 701.5 L1137.4 701.5 L1137.4 701 L1138.5 701 L1138.5 703.7 L1139.6 703.7 L1139.6 704.4 L1140.6 704.4 L1140.6 704.8 L1141.6 704.8 L1141.6 703.8 L1142.6 703.8 L1142.6 702.9 L1143.6 702.9 L1143.6 704.1 L1144.6 704.1 L1144.6 702.8 L1145.6 702.8 L1145.6 703.2 L1146.7 703.2 L1146.7 704.2 L1147.7 704.2 L1147.7 704.3 L1148.7 704.3 L1148.7 703.7 L1149.7 703.7 L1149.7 703.9 L1150.7 703.9 L1150.7 704 L1151.7 704 L1151.7 703.1 L1152.7 703.1 L1152.7 701.4 L1153.8 701.4 L1153.8 698.8 L1154.9 698.8 L1154.9 698.4 L1156 698.4 L1156 696.4 L1157.1 696.4 L1157.1 700.1 L1158.2 700.1 L1158.2 700.6 L1159.3 700.6 L1159.3 700.8 L1160.4 700.8 L1160.4 700.7 L1161.5 700.7 L1161.5 700.8 L1162.6 700.8 L1162.6 702.7 L1163.7 702.7 L1163.7 702.9 L1164.8 702.9 L1164.8 702 L1165.9 702 L1165.9 702.1 L1167 702.1 L1167 703.1 L1168.1 703.1 L1168.1 701.1 L1169.2 701.1 L1169.2 700.7 L1170.3 700.7 L1170.3 698 L1171.3 698 L1171.3 698.4 L1172.4 698.4 L1172.4 695.8 L1173.4 695.8 L1173.4 693.8 L1174.5 693.8 L1174.5 692.1 L1175.5 692.1 L1175.5 690 L1176.6 690 L1176.6 690.5 L1177.6 690.5 L1177.6 693.8 L1178.7 693.8 L1178.7 693.9 L1179.8 693.9 L1179.8 699.1 L1180.9 699.1 L1180.9 697.8 L1182 697.8 L1182 696 L1183.1 696 L1183.1 698.2 L1184.2 698.2 L1184.2 697.2 L1185.3 697.2 L1185.3 694.2 L1186.4 694.2 L1186.4 697.3 L1187.5 697.3 L1187.5 697.4 L1188.6 697.4 L1188.6 692.8 L1189.7 692.8 L1189.7 693.4 L1190.8 693.4 L1190.8 695.1 L1192 695.1 L1192 699.4 L1193.2 699.4 L1193.2 700.7 L1194.3 700.7 L1194.3 700.2 L1195.5 700.2 L1195.5 700.2 L1196.7 700.2 L1196.7 702.8 L1197.7 702.8 L1197.7 699.3 L1198.7 699.3 L1198.7 701.9 L1199.8 701.9 L1199.8 701.4 L1200.8 701.4 L1200.8 700.9 L1201.8 700.9 L1201.8 700.3 L1202.8 700.3 L1202.8 700.5 L1203.8 700.5 L1203.8 699.6 L1204.9 699.6 L1204.9 699.3 L1205.9 699.3 L1205.9 699.3 L1206.9 699.3 L1206.9 673.8 L1208.4 673.8 L1208.4 673.8 L1209.5 673.8 L1209.5 700.7 L1211.3 700.7 L1211.3 701.3 L1212.3 701.3 L1212.3 702.4 L1213.3 702.4 L1213.3 698.4 L1214.4 698.4 L1214.4 699.4 L1215.4 699.4 L1215.4 701.8 L1216.4 701.8 L1216.4 699.9 L1217.4 699.9 L1217.4 698.2 L1218.4 698.2 L1218.4 696.7 L1219.5 696.7 L1219.5 701 L1220.5 701 L1220.5 697.8 L1221.5 697.8 L1221.5 685.5 L1222.4 685.5 L1222.4 685.5 L1223.6 685.5 L1223.6 694.4 L1224.7 694.4 L1224.7 693.4 L1225.7 693.4 L1225.7 696.9 L1226.8 696.9 L1226.8 697.7 L1227.8 697.7 L1227.8 702.2 L1228.9 702.2 L1228.9 700.7 L1229.9 700.7 L1229.9 701.8 L1231 701.8 L1231 700.8 L1232 700.8 L1232 699.3 L1233 699.3 L1233 697 L1234.1 697 L1234.1 699.7 L1235.1 699.7 L1235.1 698 L1236.1 698 L1236.1 699 L1237.2 699 L1237.2 694.9 L1238.2 694.9 L1238.2 696.2 L1239.3 696.2 L1239.3 700.7 L1240.3 700.7 L1240.3 697.4 L1241.4 697.4 L1241.4 700.5 L1242.4 700.5 L1242.4 701.3 L1243.5 701.3 L1243.5 701 L1244.5 701 L1244.5 702.4 L1245.5 702.4 L1245.5 701.3 L1246.6 701.3 L1246.6 699.7 L1247.6 699.7 L1247.6 697.2 L1248.6 697.2 L1248.6 698.2 L1249.7 698.2 L1249.7 699 L1250.7 699 L1250.7 696.4 L1251.7 696.4 L1251.7 695.9 L1252.8 695.9 L1252.8 698.8 L1253.8 698.8 L1253.8 700.6 L1254.9 700.6 L1254.9 702.9 L1256 702.9 L1256 703.6 L1257 703.6 L1257 703.7 L1258.1 703.7 L1258.1 701.7 L1259.2 701.7 L1259.2 703.2 L1260.4 703.2 L1260.4 700.5 L1261.5 700.5 L1261.5 699 L1262.6 699 L1262.6 699.1 L1263.8 699.1 L1263.8 696.4 L1264.9 696.4 L1264.9 697.6 L1266.1 697.6 L1266.1 699 L1267.3 699 L1267.3 701.2 L1268.6 701.2 L1268.6 703.7 L1269.8 703.7 L1269.8 701.9 L1270.9 701.9 L1270.9 702.5 L1272 702.5 L1272 702 L1273.1 702 L1273.1 698.9 L1274.2 698.9 L1274.2 698.3 L1275.3 698.3 L1275.3 697.8 L1276.4 697.8 L1276.4 692 L1277.5 692 L1277.5 692 L1278.6 692 L1278.6 696.4 L1279.7 696.4 L1279.7 693.8 L1280.8 693.8 L1280.8 694.7 L1281.9 694.7 L1281.9 697.8 L1283 697.8 L1283 699.1 L1284.1 699.1 L1284.1 692.6 L1285.3 692.6 L1285.3 694.3 L1286.4 694.3 L1286.4 694.2 L1287.5 694.2 L1287.5 693 L1288.6 693 L1288.6 692.9 L1289.8 692.9 L1289.8 685.5 L1290.9 685.5 L1290.9 688.2 L1292 688.2 L1292 690.5 L1293 690.5 L1293 687.7 L1294.1 687.7 L1294.1 689.3 L1295.1 689.3 L1295.1 692 L1296.2 692 L1296.2 695.9 L1297.3 695.9 L1297.3 692.6 L1298.4 692.6 L1298.4 692.1 L1299.5 692.1 L1299.5 693.3 L1300.6 693.3 L1300.6 692.2 L1301.7 692.2 L1301.7 691.5 L1302.8 691.5 L1302.8 687 L1303.9 687 L1303.9 686.7 L1305 686.7 L1305 690.5 L1306 690.5 L1306 693.3 L1307.1 693.3 L1307.1 693.2 L1308.1 693.2 L1308.1 692.2 L1309.2 692.2 L1309.2 692.1 L1310.2 692.1 L1310.2 695.4 L1311.3 695.4 L1311.3 693.4 L1312.3 693.4 L1312.3 694.2 L1313.4 694.2 L1313.4 698.2 L1314.5 698.2 L1314.5 696.6 L1315.6 696.6 L1315.6 697.8 L1316.7 697.8 L1316.7 697.3 L1317.7 697.3 L1317.7 699 L1318.7 699 L1318.7 695.1 L1319.7 695.1 L1319.7 696.5 L1320.7 696.5 L1320.7 694.9 L1321.7 694.9 L1321.7 693.9 L1322.7 693.9 L1322.7 692.9 L1323.8 692.9 L1323.8 693.6 L1324.8 693.6 L1324.8 695.9 L1325.8 695.9 L1325.8 689.6 L1326.8 689.6 L1326.8 688.2 L1327.8 688.2 L1327.8 690.6 L1328.8 690.6 L1328.8 688.5 L1329.8 688.5 L1329.8 689.8 L1331 689.8 L1331 693 L1332.2 693 L1332.2 688.6 L1333.3 688.6 L1333.3 691 L1334.5 691 L1334.5 692 L1335.7 692 L1335.7 696 L1336.7 696 L1336.7 693 L1337.8 693 L1337.8 693.1 L1338.8 693.1 L1338.8 697.9 L1339.9 697.9 L1339.9 695.4 L1340.9 695.4 L1340.9 699.1 L1342 699.1 L1342 699.3 L1343 699.3 L1343 701.5 L1344 701.5 L1344 699.3 L1345.1 699.3 L1345.1 701.1 L1346.2 701.1 L1346.2 699.5 L1347.2 699.5 L1347.2 700.3 L1348.2 700.3 L1348.2 702.4 L1349.3 702.4 L1349.3 700.8 L1350.3 700.8 L1350.3 699.6 L1351.4 699.6 L1351.4 701.3 L1352.5 701.3 L1352.5 701.2 L1353.5 701.2 L1353.5 700.1 L1354.5 700.1 L1354.5 701.8 L1355.6 701.8 L1355.6 701.7 L1356.7 701.7 L1356.7 701.3 L1357.7 701.3 L1357.7 701.8 L1358.8 701.8 L1358.8 701.3 L1359.9 701.3 L1359.9 703.7 L1361 703.7 L1361 704.3 L1362.1 704.3 L1362.1 702.5 L1363.1 702.5 L1363.1 703.4 L1364.2 703.4 L1364.2 704.4 L1365.3 704.4 L1365.3 703.7 L1366.4 703.7 L1366.4 701.8 L1367.5 701.8 L1367.5 700.7 L1368.6 700.7 L1368.6 700.8 L1369.7 700.8 L1369.7 697.8 L1370.8 697.8 L1370.8 697.3 L1371.9 697.3 L1371.9 696.6 L1373 696.6 L1373 698.1 L1374.1 698.1 L1374.1 694.9 L1375.2 694.9 L1375.2 699 L1376.3 699 L1376.3 695.1 L1377.4 695.1 L1377.4 695 L1378.5 695 L1378.5 697.4 L1379.6 697.4 L1379.6 696.8 L1380.7 696.8 L1380.7 696.5 L1381.8 696.5 L1381.8 698.5 L1382.9 698.5 L1382.9 696.4 L1384 696.4 L1384 694.5 L1385.1 694.5 L1385.1 693.8 L1386.1 693.8 L1386.1 693.7 L1387.2 693.7 L1387.2 694.5 L1388.2 694.5 L1388.2 688.5 L1389.3 688.5 L1389.3 690.6 L1390.3 690.6 L1390.3 693.6 L1391.3 693.6 L1391.3 691.8 L1392.3 691.8 L1392.3 696.8 L1393.3 696.8 L1393.3 694.9 L1394.3 694.9 L1394.3 687.6 L1395.4 687.6 L1395.4 675 L1396.6 675 L1396.6 675 L1397.8 675 L1397.8 690.8 L1398.9 690.8 L1398.9 697.8 L1400.1 697.8 L1400.1 699.4 L1401.1 699.4 L1401.1 699 L1402.2 699 L1402.2 701.6 L1403.2 701.6 L1403.2 702.2 L1404.2 702.2 L1404.2 700.7 L1405.2 700.7 L1405.2 702.2 L1406.3 702.2 L1406.3 701.4 L1407.3 701.4 L1407.3 703.1 L1408.3 703.1 L1408.3 703.7 L1409.4 703.7 L1409.4 702.2 L1410.4 702.2 L1410.4 702.2 L1411.5 702.2 L1411.5 700.5 L1412.6 700.5 L1412.6 700.3 L1413.7 700.3 L1413.7 701.3 L1414.8 701.3 L1414.8 701.4 L1415.8 701.4 L1415.8 702.5 L1416.9 702.5 L1416.9 701.3 L1418 701.3 L1418 699.3 L1419.1 699.3 L1419.1 700.6 L1420.2 700.6 L1420.2 697.6 L1421.3 697.6 L1421.3 701.2 L1422.4 701.2 L1422.4 697.1 L1423.5 697.1 L1423.5 699.2 L1424.6 699.2 L1424.6 699.2 L1425.7 699.2 L1425.7 699.9 L1426.8 699.9 L1426.8 697.8 L1427.9 697.8 L1427.9 694.4 L1428.9 694.4 L1428.9 697.6 L1430 697.6 L1430 693.6 L1431 693.6 L1431 692.5 L1432.1 692.5 L1432.1 693.6 L1433.1 693.6 L1433.1 692.1 L1434.2 692.1 L1434.2 686.7 L1435.2 686.7 L1435.2 686.7 L1436.3 686.7 L1436.3 691.2 L1437.4 691.2 L1437.4 694.5 L1438.5 694.5 L1438.5 697.8 L1439.6 697.8 L1439.6 672.1 L1440.5 672.1 L1440.5 672.1 L1441.7 672.1 L1441.7 680.8 L1442.8 680.8 L1442.8 694.9 L1444 694.9 L1444 697.8 L1445.1 697.8 L1445.1 693.1 L1446.2 693.1 L1446.2 692 L1447.3 692 L1447.3 692 L1448.4 692 L1448.4 689.2 L1449.5 689.2 L1449.5 680.2 L1450.5 680.2 L1450.5 665.4 L1451.6 665.4 L1451.6 669.5 L1452.6 669.5 L1452.6 656.3 L1453.7 656.3 L1453.7 655.8 L1454.7 655.8 L1454.7 669.8 L1455.7 669.8 L1455.7 661.5 L1456.7 661.5 L1456.7 670.9 L1457.7 670.9 L1457.7 665.6 L1458.7 665.6 L1458.7 672.3 L1459.8 672.3 L1459.8 678.4 L1460.8 678.4 L1460.8 676 L1461.9 676 L1461.9 683.2 L1463 683.2 L1463 679.1 L1464.1 679.1 L1464.1 679.3 L1465.2 679.3 L1465.2 673.9 L1466.3 673.9 L1466.3 671.5 L1467.4 671.5 L1467.4 675.2 L1468.6 675.2 L1468.6 669.7 L1469.8 669.7 L1469.8 678.3 L1470.9 678.3 L1470.9 674.2 L1472.1 674.2 L1472.1 672.9 L1473.3 672.9 L1473.3 670.2 L1474.4 670.2 L1474.4 670 L1475.4 670 L1475.4 673.3 L1476.5 673.3 L1476.5 667.8 L1477.5 667.8 L1477.5 653.9 L1478.6 653.9 L1478.6 661.4 L1479.8 661.4 L1479.8 675.9 L1480.9 675.9 L1480.9 675.9 L1482.1 675.9 L1482.1 674.7 L1483.1 674.7 L1483.1 678.5 L1484.1 678.5 L1484.1 672.7 L1485.2 672.7 L1485.2 674.4 L1486.2 674.4 L1486.2 676.3 L1487.2 676.3 L1487.2 681.3 L1488.2 681.3 L1488.2 685.8 L1489.2 685.8 L1489.2 679.4 L1490.3 679.4 L1490.3 677.3 L1491.3 677.3 L1491.3 678.8 L1492.3 678.8 L1492.3 672.8 L1493.3 672.8 L1493.3 680.7 L1494.4 680.7 L1494.4 679.5 L1495.4 679.5 L1495.4 664.2 L1496.5 664.2 L1496.5 665.8 L1497.5 665.8 L1497.5 668 L1498.6 668 L1498.6 662.7 L1499.6 662.7 L1499.6 655.9 L1500.8 655.9 L1500.8 664.3 L1502 664.3 L1502 650.4 L1503.1 650.4 L1503.1 642.3 L1504.3 642.3 L1504.3 637.8 L1505.5 637.8 L1505.5 641.7 L1506.6 641.7 L1506.6 656.2 L1507.7 656.2 L1507.7 658.9 L1508.8 658.9 L1508.8 648.1 L1509.9 648.1 L1509.9 658.8 L1511.3 658.8 L1511.3 668.5 L1512.8 668.5 L1512.8 650.2 L1514.2 650.2 L1514.2 642.2 L1515.7 642.2 L1515.7 652.6 L1516.8 652.6 L1516.8 653 L1517.9 653 L1517.9 647.2 L1519 647.2 L1519 624.1 L1520.1 624.1 L1520.1 629.9 L1521.1 629.9 L1521.1 650.9 L1522.1 650.9 L1522.1 653.9 L1523.1 653.9 L1523.1 668.4 L1524.5 668.4 L1524.5 675.9 L1526 675.9 L1526 672.8 L1527.2 672.8 L1527.2 679.3 L1528.3 679.3 L1528.3 685 L1529.5 685 L1529.5 681.2 L1530.6 681.2 L1530.6 683.2 L1531.8 683.2 L1531.8 689.5 L1532.9 689.5 L1532.9 685.3 L1534 685.3 L1534 679.3 L1535.1 679.3 L1535.1 678.8 L1536.2 678.8 L1536.2 687 L1537.4 687 L1537.4 690.6 L1538.6 690.6 L1538.6 688 L1539.7 688 L1539.7 692.1 L1540.9 692.1 L1540.9 692 L1542.1 692 L1542.1 690.6 L1543.3 690.6 L1543.3 697.4 L1544.4 697.4 L1544.4 693.7 L1545.6 693.7 L1545.6 697.1 L1546.7 697.1 L1546.7 696.4 L1547.9 696.4 L1547.9 692.7 L1549.1 692.7 L1549.1 692.7 L1550.3 692.7 L1550.3 688.3 L1551.4 688.3 L1551.4 689 L1552.6 689 L1552.6 683.2 L1553.8 683.2 L1553.8 688.1 L1554.9 688.1 L1554.9 686 L1556 686 L1556 682.7 L1557.1 682.7 L1557.1 687.8 L1558.2 687.8 L1558.2 689.3 L1559.3 689.3 L1559.3 687.7 L1560.4 687.7 L1560.4 691.2 L1561.5 691.2 L1561.5 686.1 L1562.6 686.1 L1562.6 689.2 L1563.7 689.2 L1563.7 686.5 L1564.8 686.5 L1564.8 686.6 L1565.9 686.6 L1565.9 685.9 L1567 685.9 L1567 688.8 L1568.1 688.8 L1568.1 691.4 L1569.2 691.4 L1569.2 691.2 L1570.3 691.2 L1570.3 684.6 L1571.4 684.6 L1571.4 682.1 L1572.7 682.1 L1572.7 678.6 L1573.9 678.6 L1573.9 665 L1575.2 665 L1575.2 670.5 L1576.4 670.5 L1576.4 679.1 L1577.7 679.1 L1577.7 676 L1578.9 676 L1578.9 681.7 L1580.1 681.7 L1580.1 682.1 L1581.2 682.1 L1581.2 681.2 L1582.3 681.2 L1582.3 680.2 L1583.4 680.2 L1583.4 682.5 L1584.5 682.5 L1584.5 683.5 L1585.6 683.5 L1585.6 684.7 L1586.7 684.7 L1586.7 687.5 L1587.8 687.5 L1587.8 680.3 L1588.9 680.3 L1588.9 678.4 L1590 678.4 L1590 681.8 L1591.1 681.8 L1591.1 686.5 L1592.2 686.5 L1592.2 676.1 L1593.3 676.1 L1593.3 680.2 L1594.4 680.2 L1594.4 679.5 L1595.5 679.5 L1595.5 681.7 L1596.6 681.7 L1596.6 678.8 L1597.7 678.8 L1597.7 684.7 L1598.7 684.7 L1598.7 672.2 L1599.8 672.2 L1599.8 682.6 L1600.8 682.6 L1600.8 679 L1601.9 679 L1601.9 668.9 L1602.9 668.9 L1602.9 681 L1604 681 L1604 672.1 L1605 672.1 L1605 675.3 L1606.1 675.3 L1606.1 676.5 L1607.2 676.5 L1607.2 680.7 L1608.3 680.7 L1608.3 675.9 L1609.4 675.9 L1609.4 674.7 L1610.7 674.7 L1610.7 680.6 L1612 680.6 L1612 682.1 L1613.1 682.1 L1613.1 686 L1614.2 686 L1614.2 678.5 L1615.3 678.5 L1615.3 683.9 L1616.4 683.9 L1616.4 672.2 L1617.5 672.2 L1617.5 671.6 L1618.6 671.6 L1618.6 674.2 L1619.9 674.2 L1619.9 679.7 L1621.2 679.7 L1621.2 688.1 L1622.5 688.1 L1622.5 693.8 L1623.6 693.8 L1623.6 688.8 L1624.7 688.8 L1624.7 692.3 L1625.8 692.3 L1625.8 691.3 L1626.8 691.3 L1626.8 693.1 L1627.9 693.1 L1627.9 693.5 L1629 693.5 L1629 691.2 L1630.1 691.2 L1630.1 693.7 L1631.1 693.7 L1631.1 687.6 L1632.1 687.6 L1632.1 691.1 L1633.1 691.1 L1633.1 680.1 L1634.1 680.1 L1634.1 688.6 L1635.1 688.6 L1635.1 679.7 L1636.1 679.7 L1636.1 679.9 L1637.2 679.9 L1637.2 691.3 L1638.3 691.3 L1638.3 695.1 L1639.5 695.1 L1639.5 694.2 L1640.6 694.2 L1640.6 689.9 L1641.9 689.9 L1641.9 688.2 L1643.2 688.2 L1643.2 683.6 L1644.5 683.6 L1644.5 684.5 L1645.5 684.5 L1645.5 689.1 L1646.5 689.1 L1646.5 690.1 L1647.6 690.1 L1647.6 696.3 L1648.6 696.3 L1648.6 694.2 L1649.6 694.2 L1649.6 666 L1650.9 666 L1650.9 638.6 L1652.3 638.6 L1652.3 638.6 L1653.5 638.6 L1653.5 668.8 L1654.5 668.8 L1654.5 694.2 L1655.6 694.2 L1655.6 689.6 L1656.7 689.6 L1656.7 695 L1657.8 695 L1657.8 692.8 L1659 692.8 L1659 685.1 L1660.1 685.1 L1660.1 687.9 L1661.2 687.9 L1661.2 689 L1662.3 689 L1662.3 695.7 L1663.5 695.7 L1663.5 697.2 L1664.6 697.2 L1664.6 696 L1665.7 696 L1665.7 696 L1666.7 696 L1666.7 696.3 L1667.8 696.3 L1667.8 695 L1668.9 695 L1668.9 693.3 L1670 693.3 L1670 696.6 L1671 696.6 L1671 691.2 L1672.1 691.2 L1672.1 693.4 L1673.1 693.4 L1673.1 689.5 L1674.1 689.5 L1674.1 692.9 L1675.1 692.9 L1675.1 690.7 L1676.1 690.7 L1676.1 692.1 L1677.2 692.1 L1677.2 690.7 L1678.2 690.7 L1678.2 687.6 L1679.2 687.6 L1679.2 686.2 L1680.2 686.2 L1680.2 686.6 L1681.2 686.6 L1681.2 685 L1682.3 685 L1682.3 690.4 L1683.5 690.4 L1683.5 693.7 L1684.6 693.7 L1684.6 691.2 L1685.7 691.2 L1685.7 690.5 L1686.7 690.5 L1686.7 690.4 L1687.7 690.4 L1687.7 680.6 L1688.7 680.6 L1688.7 687.7 L1689.8 687.7 L1689.8 686.5 L1691 686.5 L1691 688.9 L1692.1 688.9 L1692.1 691.2 L1693.2 691.2 L1693.2 689.3 L1694.3 689.3 L1694.3 685 L1695.5 685 L1695.5 681.4 L1696.6 681.4 L1696.6 667.1 L1697.7 667.1 L1697.7 667.1 L1698.9 667.1 L1698.9 683.4 L1700 683.4 L1700 688.6 L1701.1 688.6 L1701.1 697.2 L1702.2 697.2 L1702.2 698.9 L1703.2 698.9 L1703.2 694.9 L1704.2 694.9 L1704.2 696.2 L1705.2 696.2 L1705.2 697.1 L1706.2 697.1 L1706.2 696.1 L1707.2 696.1 L1707.2 698.2 L1708.2 698.2 L1708.2 693.1 L1709.2 693.1 L1709.2 692.5 L1710.2 692.5 L1710.2 692.7 L1711.2 692.7 L1711.2 690.7 L1712.4 690.7 L1712.4 682.8 L1713.6 682.8 L1713.6 679.1 L1714.8 679.1 L1714.8 688.5 L1716.1 688.5 L1716.1 693.7 L1717.4 693.7 L1717.4 695.7 L1718.7 695.7 L1718.7 697.8 L1719.8 697.8 L1719.8 697.7 L1720.8 697.7 L1720.8 694.7 L1721.9 694.7 L1721.9 694 L1723 694 L1723 693 L1724.1 693 L1724.1 696.9 L1725.1 696.9 L1725.1 692.7 L1726.2 692.7 L1726.2 690.5 L1727.2 690.5 L1727.2 691.6 L1728.2 691.6 L1728.2 691.2 L1729.2 691.2 L1729.2 689 L1730.3 689 L1730.3 688.5 L1731.3 688.5 L1731.3 685.1 L1732.3 685.1 L1732.3 689.9 L1733.3 689.9 L1733.3 688.1 L1734.3 688.1 L1734.3 685.9 L1735.3 685.9 L1735.3 685.5 L1736.3 685.5 L1736.3 683.8 L1737.3 683.8 L1737.3 686.6 L1738.3 686.6 L1738.3 689.1 L1739.4 689.1 L1739.4 679.4 L1740.5 679.4 L1740.5 678 L1741.7 678 L1741.7 677.6 L1742.8 677.6 L1742.8 681.9 L1743.8 681.9 L1743.8 684.7 L1744.8 684.7 L1744.8 692.7 L1745.8 692.7 L1745.8 696.9 L1746.9 696.9 L1746.9 693.1 L1747.9 693.1 L1747.9 693 L1749 693 L1749 698.5 L1750.1 698.5 L1750.1 696.2 L1751.2 696.2 L1751.2 694.9 L1752.2 694.9 L1752.2 697.2 L1753.3 697.2 L1753.3 698.5 L1754.3 698.5 L1754.3 694.5 L1755.3 694.5 L1755.3 693.4 L1756.3 693.4 L1756.3 695.6 L1757.3 695.6 L1757.3 696.9 L1758.3 696.9 L1758.3 692.7 L1759.3 692.7 L1759.3 696.3 L1760.4 696.3 L1760.4 692.7 L1761.5 692.7 L1761.5 696 L1762.5 696 L1762.5 697.2 L1763.6 697.2 L1763.6 695.7 L1764.7 695.7 L1764.7 674.6 L1766.5 674.6 L1766.5 674.6 L1767.7 674.6 L1767.7 689.3 L1768.8 689.3 L1768.8 700.2 L1769.8 700.2 L1769.8 698.8 L1770.9 698.8 L1770.9 701.5 L1771.9 701.5 L1771.9 702.3 L1773 702.3 L1773 698 L1774.1 698 L1774.1 700.6 L1775.2 700.6 L1775.2 700.1 L1776.2 700.1 L1776.2 698.7 L1777.3 698.7 L1777.3 695.7 L1778.3 695.7 L1778.3 698.3 L1779.3 698.3 L1779.3 698.5 L1780.3 698.5 L1780.3 692.1 L1781.3 692.1 L1781.3 695.4 L1782.3 695.4 L1782.3 691.2 L1783.3 691.2 L1783.3 691.5 L1784.5 691.5 L1784.5 680.9 L1785.6 680.9 L1785.6 685.4 L1786.8 685.4 L1786.8 676.7 L1787.9 676.7 L1787.9 678.9 L1789 678.9 L1789 689.9 L1790.2 689.9 L1790.2 694.6 L1791.3 694.6 L1791.3 697.2 L1792.4 697.2 L1792.4 699.8 L1793.4 699.8 L1793.4 698.4 L1794.4 698.4 L1794.4 698.6 L1795.4 698.6 L1795.4 699.7 L1796.4 699.7 L1796.4 699.5 L1797.4 699.5 L1797.4 700.8 L1798.4 700.8 L1798.4 698.7 L1799.4 698.7 L1799.4 698.7 L1800.4 698.7 L1800.4 700.2 L1801.4 700.2 L1801.4 700.5 L1802.4 700.5 L1802.4 700.9 L1803.4 700.9 L1803.4 704.1 L1804.4 704.1 L1804.4 704.1 L1805.4 704.1 L1805.4 704.8 L1806.4 704.8 L1806.4 705.4 L1807.4 705.4 L1807.4 704.1 L1808.4 704.1 L1808.4 705 L1809.4 705 L1809.4 706.2 L1810.4 706.2 L1810.4 705.2 L1811.4 705.2 L1811.4 705.4 L1812.4 705.4 L1812.4 705.9 L1813.4 705.9 L1813.4 704.8 L1814.4 704.8 L1814.4 705.3 L1815.4 705.3 L1815.4 703.2 L1816.4 703.2 L1816.4 700.1 L1817.5 700.1 L1817.5 700.8 L1818.6 700.8 L1818.6 698.9 L1819.6 698.9 L1819.6 692.9 L1820.7 692.9 L1820.7 692.7 L1821.8 692.7 L1821.8 696.5 L1822.9 696.5 L1822.9 692.4 L1824 692.4 L1824 697.1 L1825.1 697.1 L1825.1 695.6 L1826.2 695.6 L1826.2 699.5 L1827.3 699.5 L1827.3 697.2 L1828.4 697.2 L1828.4 695.5 L1829.4 695.5 L1829.4 697.9 L1830.4 697.9 L1830.4 697.9 L1831.4 697.9 L1831.4 695.8 L1832.4 695.8 L1832.4 695.9 L1833.5 695.9 L1833.5 697.6 L1834.5 697.6 L1834.5 698.2 L1835.5 698.2 L1835.5 695 L1836.5 695 L1836.5 694.2 L1837.5 694.2 L1837.5 699 L1838.5 699 L1838.5 694.9 L1839.5 694.9 L1839.5 698.8 L1840.5 698.8 L1840.5 700.6 L1841.5 700.6 L1841.5 700.7 L1842.5 700.7 L1842.5 700.2 L1843.5 700.2 L1843.5 700.8 L1844.5 700.8 L1844.5 698.1 L1845.5 698.1 L1845.5 694.8 L1846.5 694.8 L1846.5 693.9 L1847.5 693.9 L1847.5 692.7 L1848.5 692.7 L1848.5 688.1 L1849.5 688.1 L1849.5 687.5 L1850.6 687.5 L1850.6 681.2 L1851.8 681.2 L1851.8 672.8 L1852.9 672.8 L1852.9 670.1 L1854 670.1 L1854 682.3 L1855 682.3 L1855 688.2 L1856 688.2 L1856 698.7 L1857 698.7 L1857 699.5 L1858.1 699.5 L1858.1 701.2 L1859.1 701.2 L1859.1 701 L1860.2 701 L1860.2 697.8 L1861.3 697.8 L1861.3 699.5 L1862.4 699.5 L1862.4 700 L1863.4 700 L1863.4 698.7 L1864.5 698.7 L1864.5 699.2 L1865.5 699.2 L1865.5 697.5 L1866.6 697.5 L1866.6 699.6 L1867.7 699.6 L1867.7 699.5 L1868.7 699.5 L1868.7 699.4 L1869.8 699.4 L1869.8 701 L1870.8 701 L1870.8 698.2 L1871.8 698.2 L1871.8 698.4 L1872.9 698.4 L1872.9 698.2 L1874 698.2 L1874 697.2 L1875 697.2 L1875 699.2 L1876.1 699.2 L1876.1 700.1 L1877.1 700.1 L1877.1 700.2 L1878.2 700.2 L1878.2 703.2 L1879.3 703.2 L1879.3 701.5 L1880.4 701.5 L1880.4 705.1 L1881.4 705.1 L1881.4 704.7 L1882.5 704.7 L1882.5 704.1 L1883.6 704.1 L1883.6 705.6 L1884.7 705.6 L1884.7 704 L1885.8 704 L1885.8 705.2 L1886.8 705.2 L1886.8 705.5 L1887.9 705.5 L1887.9 704.2 L1889 704.2 L1889 703.8 L1890.1 703.8 L1890.1 701.1 L1891.2 701.1 L1891.2 698.9 L1892.3 698.9 L1892.3 696.6 L1893.5 696.6 L1893.5 695.7 L1894.6 695.7 L1894.6 694.6 L1895.6 694.6 L1895.6 700.4 L1896.6 700.4 L1896.6 699.3 L1897.6 699.3 L1897.6 701.3 L1898.6 701.3 L1898.6 699 L1899.6 699 L1899.6 700.2 L1900.6 700.2 L1900.6 700.7 L1901.6 700.7 L1901.6 699.1 L1902.6 699.1 L1902.6 698.5 L1903.6 698.5 L1903.6 697.2 L1904.6 697.2 L1904.6 698.4 L1905.6 698.4 L1905.6 697.1 L1906.6 697.1 L1906.6 698.4 L1907.6 698.4 L1907.6 700.5 L1908.6 700.5 L1908.6 697.2 L1909.6 697.2 L1909.6 697 L1910.6 697 L1910.6 701.7 L1911.6 701.7 L1911.6 702.5 L1912.6 702.5 L1912.6 700.5 L1913.6 700.5 L1913.6 703.4 L1914.6 703.4 L1914.6 703.2 L1915.6 703.2 L1915.6 701.7 L1916.6 701.7 L1916.6 702.8 L1917.6 702.8 L1917.6 700.8 L1918.6 700.8 L1918.6 696.9 L1919.6 696.9 L1919.6 699.3 L1920.6 699.3 L1920.6 694.2 L1921.6 694.2 L1921.6 695.6 L1922.6 695.6 L1922.6 693.4 L1923.6 693.4 L1923.6 698.3 L1924.6 698.3 L1924.6 695.9 L1925.6 695.9 L1925.6 696.2 L1926.6 696.2 L1926.6 697.2 L1927.6 697.2 L1927.6 698 L1928.6 698 L1928.6 698 L1929.6 698 L1929.6 699 L1930.6 699 L1930.6 702.6 L1931.6 702.6 L1931.6 702.4 L1932.6 702.4 L1932.6 701.6 L1933.6 701.6 L1933.6 700.8 L1934.6 700.8 L1934.6 703.9 L1935.6 703.9 L1935.6 703.2 L1936.6 703.2 L1936.6 703.1 L1937.6 703.1 L1937.6 704.2 L1938.6 704.2 L1938.6 701.5 L1939.6 701.5 L1939.6 702.6 L1940.6 702.6 L1940.6 702 L1941.7 702 L1941.7 701.1 L1942.7 701.1 L1942.7 702.8 L1943.7 702.8 L1943.7 700.2 L1944.7 700.2 L1944.7 700.2 L1945.7 700.2 L1945.7 699.7 L1946.8 699.7 L1946.8 699.7 L1947.8 699.7 L1947.8 702.1 L1948.9 702.1 L1948.9 702.4 L1949.9 702.4 L1949.9 702.8 L1951 702.8 L1951 700.2 L1952 700.2 L1952 702 L1953 702 L1953 702.3 L1954.1 702.3 L1954.1 702 L1955.2 702 L1955.2 701.7 L1956.2 701.7 L1956.2 698.9 L1957.3 698.9 L1957.3 698.3 L1958.5 698.3 L1958.5 695.9 L1959.6 695.9 L1959.6 691.2 L1960.7 691.2 L1960.7 678.5 L1961.9 678.5 L1961.9 668.6 L1963.1 668.6 L1963.1 668.6 L1964.3 668.6 L1964.3 676.5 L1965.3 676.5 L1965.3 690.9 L1966.3 690.9 L1966.3 697.2 L1967.3 697.2 L1967.3 697.2 L1968.6 697.2 L1968.6 686.8 L1969.9 686.8 L1969.9 685.1 L1971.2 685.1 L1971.2 687.4 L1972.3 687.4 L1972.3 691.6 L1973.5 691.6 L1973.5 695.8 L1974.6 695.8 L1974.6 697.2 L1975.7 697.2 L1975.7 694.4 L1976.8 694.4 L1976.8 696.4 L1977.8 696.4 L1977.8 696.8 L1978.9 696.8 L1978.9 696.8 L1980 696.8 L1980 694.1 L1981.1 694.1 L1981.1 691.2 L1982.1 691.2 L1982.1 689.7 L1983.2 689.7 L1983.2 692.3 L1984.3 692.3 L1984.3 687.7 L1985.3 687.7 L1985.3 690.3 L1986.4 690.3 L1986.4 692.1 L1987.5 692.1 L1987.5 690.7 L1988.6 690.7 L1988.6 691.4 L1989.6 691.4 L1989.6 691.2 L1990.7 691.2 L1990.7 692.9 L1991.8 692.9 L1991.8 695.2 L1993 695.2 L1993 696.5 L1994.2 696.5 L1994.2 697.2 L1995.3 697.2 L1995.3 694.9 L1996.4 694.9 L1996.4 688.9 L1997.5 688.9 L1997.5 691.3 L1998.7 691.3 L1998.7 683.6 L1999.8 683.6 L1999.8 685.7 L2000.9 685.7 L2000.9 693.2 L2002 693.2 L2002 692.5 L2003.2 692.5 L2003.2 697.2 L2004.3 697.2 L2004.3 700.4 L2005.3 700.4 L2005.3 698.4 L2006.3 698.4 L2006.3 698.8 L2007.3 698.8 L2007.3 697.6 L2008.3 697.6 L2008.3 700.3 L2009.3 700.3 L2009.3 700.1 L2010.3 700.1 L2010.3 700.9 L2011.3 700.9 L2011.3 699 L2012.3 699 L2012.3 698.7 L2013.3 698.7 L2013.3 697.8 L2014.4 697.8 L2014.4 699.9 L2015.4 699.9 L2015.4 697.8 L2016.5 697.8 L2016.5 696.6 L2017.6 696.6 L2017.6 690 L2018.7 690 L2018.7 692.5 L2019.7 692.5 L2019.7 689.7 L2020.8 689.7 L2020.8 686.8 L2021.9 686.8 L2021.9 686.2 L2023 686.2 L2023 678.3 L2024.2 678.3 L2024.2 674.6 L2025.3 674.6 L2025.3 665.5 L2026.4 665.5 L2026.4 661.6 L2027.5 661.6 L2027.5 655.7 L2028.6 655.7 L2028.6 655.7 L2029.8 655.7 L2029.8 672.6 L2030.9 672.6 L2030.9 666.9 L2032 666.9 L2032 669.3 L2033.2 669.3 L2033.2 670.1 L2034.3 670.1 L2034.3 683.3 L2035.4 683.3 L2035.4 677.3 L2036.5 677.3 L2036.5 687.2 L2037.7 687.2 L2037.7 688.1 L2038.8 688.1 L2038.8 689.5 L2039.9 689.5 L2039.9 684.2 L2040.9 684.2 L2040.9 682.7 L2042 682.7 L2042 681.8 L2043.1 681.8 L2043.1 675.1 L2044.2 675.1 L2044.2 677.6 L2045.2 677.6 L2045.2 673.7 L2046.3 673.7 L2046.3 681.4 L2047.5 681.4 L2047.5 687.8 L2048.6 687.8 L2048.6 685.5 L2049.8 685.5 L2049.8 688.1 L2050.9 688.1 L2050.9 690.9 L2051.9 690.9 L2051.9 689.6 L2052.9 689.6 L2052.9 691.5 L2053.9 691.5 L2053.9 694.7 L2054.9 694.7 L2054.9 694.6 L2055.9 694.6 L2055.9 689.7 L2056.9 689.7 L2056.9 694.8 L2057.9 694.8 L2057.9 696.3 L2058.9 696.3 L2058.9 692.1 L2059.9 692.1 L2059.9 695.1 L2060.9 695.1 L2060.9 698.3 L2061.9 698.3 L2061.9 697.2 L2062.9 697.2 L2062.9 693.8 L2064 693.8 L2064 691.3 L2065.2 691.3 L2065.2 693.4 L2066.3 693.4 L2066.3 685.1 L2067.4 685.1 L2067.4 685.9 L2068.4 685.9 L2068.4 692.3 L2069.4 692.3 L2069.4 687.6 L2070.4 687.6 L2070.4 695.9 L2071.4 695.9 L2071.4 696.3 L2072.4 696.3 L2072.4 695.7 L2073.4 695.7 L2073.4 696.5 L2074.5 696.5 L2074.5 690.3 L2075.7 690.3 L2075.7 688.6 L2076.8 688.6 L2076.8 688.1 L2077.9 688.1 L2077.9 689.2 L2079 689.2 L2079 693.3 L2080 693.3 L2080 691.3 L2081.1 691.3 L2081.1 689.4 L2082.2 689.4 L2082.2 695.1 L2083.3 695.1 L2083.3 688.6 L2084.3 688.6 L2084.3 691.2 L2085.4 691.2 L2085.4 687.8 L2086.4 687.8 L2086.4 685 L2087.4 685 L2087.4 685.3 L2088.5 685.3 L2088.5 684.3 L2089.5 684.3 L2089.5 682.1 L2090.5 682.1 L2090.5 683 L2091.8 683 L2091.8 693.3 L2093.1 693.3 L2093.1 694.2 L2094.4 694.2 L2094.4 693.3 L2095.4 693.3 L2095.4 691.9 L2096.4 691.9 L2096.4 688.5 L2097.4 688.5 L2097.4 677.9 L2098.4 677.9 L2098.4 683.8 L2099.4 683.8 L2099.4 671.1 L2100.4 671.1 L2100.4 673.1 L2101.4 673.1 L2101.4 661.2 L2102.4 661.2 L2102.4 659.6 L2103.4 659.6 L2103.4 658.1 L2104.4 658.1 L2104.4 658.1 L2105.6 658.1 L2105.6 675.6 L2106.8 675.6 L2106.8 694.2 L2108 694.2 L2108 692.7 L2109 692.7 L2109 697.9 L2110 697.9 L2110 696.3 L2111 696.3 L2111 695.4 L2112 695.4 L2112 694.9 L2113 694.9 L2113 693.1 L2114 693.1 L2114 691.4 L2115 691.4 L2115 692.2 L2116 692.2 L2116 692.7 L2117 692.7 L2117 690.5 L2118 690.5 L2118 692 L2119 692 L2119 694.3 L2120 694.3 L2120 693.1 L2121 693.1 L2121 691.1 L2122 691.1 L2122 690.5 L2123 690.5 L2123 693.7 L2124 693.7 L2124 693.6 L2125 693.6 L2125 691.2 L2126 691.2 L2126 690.6 L2127.1 690.6 L2127.1 693 L2128.1 693 L2128.1 686.5 L2129.2 686.5 L2129.2 693.6 L2130.3 693.6 L2130.3 686.9 L2131.4 686.9 L2131.4 687.6 L2132.4 687.6 L2132.4 685.1 L2133.5 685.1 L2133.5 690.3 L2134.6 690.3 L2134.6 687.2 L2135.6 687.2 L2135.6 688.7 L2136.7 688.7 L2136.7 684.9 L2137.8 684.9 L2137.8 686.3 L2138.9 686.3 L2138.9 689.6 L2139.9 689.6 L2139.9 689.7 L2141 689.7 L2141 687.1 L2142.1 687.1 L2142.1 686.3 L2143.1 686.3 L2143.1 692.1 L2144.2 692.1 L2144.2 685.4 L2145.3 685.4 L2145.3 684.6 L2146.4 684.6 L2146.4 682.4 L2147.4 682.4 L2147.4 685.1 L2148.5 685.1 L2148.5 670.7 L2149.6 670.7 L2149.6 659.6 L2150.6 659.6 L2150.6 659.8 L2151.6 659.8 L2151.6 659.4 L2152.6 659.4 L2152.6 642.6 L2153.6 642.6 L2153.6 637.1 L2154.6 637.1 L2154.6 655.8 L2155.6 655.8 L2155.6 648.6 L2156.6 648.6 L2156.6 658.1 L2157.6 658.1 L2157.6 659 L2158.7 659 L2158.7 652.8 L2159.8 652.8 L2159.8 662.3 L2161 662.3 L2161 655.1 L2162.1 655.1 L2162.1 654.8 L2163.3 654.8 L2163.3 629.1 L2164.5 629.1 L2164.5 627.4 L2165.7 627.4 L2165.7 635.3 L2167 635.3 L2167 651.1 L2168.3 651.1 L2168.3 652.1 L2169.6 652.1 L2169.6 651.8 L2170.6 651.8 L2170.6 652.5 L2171.6 652.5 L2171.6 644.6 L2172.6 644.6 L2172.6 654.3 L2173.6 654.3 L2173.6 666.1 L2174.6 666.1 L2174.6 673.1 L2175.6 673.1 L2175.6 679.6 L2176.6 679.6 L2176.6 671 L2177.6 671 L2177.6 673.7 L2178.6 673.7 L2178.6 676.7 L2179.6 676.7 L2179.6 684 L2180.6 684 L2180.6 680.6 L2181.6 680.6 L2181.6 676.6 L2182.9 676.6 L2182.9 655.9 L2184.2 655.9 L2184.2 646.1 L2185.5 646.1 L2185.5 640.6 L2186.5 640.6 L2186.5 644 L2187.5 644 L2187.5 643.1 L2188.5 643.1 L2188.5 662.3 L2189.5 662.3 L2189.5 659.7 L2190.5 659.7 L2190.5 670.1 L2191.5 670.1 L2191.5 661.7 L2192.7 661.7 L2192.7 655 L2193.9 655 L2193.9 637.1 L2195.1 637.1 L2195.1 651.6 L2196.1 651.6 L2196.1 666.9 L2197.1 666.9 L2197.1 676.1 L2198.1 676.1 L2198.1 678.4 L2199.2 678.4 L2199.2 679.4 L2200.3 679.4 L2200.3 679.2 L2201.5 679.2 L2201.5 685.1 L2202.6 685.1 L2202.6 684.4 L2203.8 684.4 L2203.8 670.6 L2204.9 670.6 L2204.9 655.7 L2206 655.7 L2206 653.6 L2207.2 653.6 L2207.2 660.6 L2208.3 660.6 L2208.3 669.1 L2209.4 669.1 L2209.4 672.1 L2210.6 672.1 L2210.6 682.1 L2211.7 682.1 L2211.7 690.6 L2212.8 690.6 L2212.8 684.5 L2213.9 684.5 L2213.9 688 L2215.1 688 L2215.1 689.7 L2216.2 689.7 L2216.2 690 L2217.3 690 L2217.3 692.1 L2218.3 692.1 L2218.3 689.3 L2219.4 689.3 L2219.4 693.3 L2220.5 693.3 L2220.5 689.6 L2221.6 689.6 L2221.6 691.8 L2222.6 691.8 L2222.6 688.1 L2223.7 688.1 L2223.7 678.9 L2224.9 678.9 L2224.9 674 L2226.1 674 L2226.1 670.1 L2227.3 670.1 L2227.3 679 L2228.6 679 L2228.6 682 L2229.9 682 L2229.9 689.7 L2231.2 689.7 L2231.2 691.7 L2232.2 691.7 L2232.2 690.2 L2233.2 690.2 L2233.2 693.1 L2234.2 693.1 L2234.2 686.8 L2235.2 686.8 L2235.2 687.4 L2236.2 687.4 L2236.2 688.1 L2237.2 688.1 L2237.2 685.5 L2238.2 685.5 L2238.2 690.9 L2239.2 690.9 L2239.2 681.8 L2240.2 681.8 L2240.2 689.3 L2241.2 689.3 L2241.2 681.6 L2242.2 681.6 L2242.2 679.1 L2243.2 679.1 L2243.2 681.6 L2244.2 681.6 L2244.2 687.3 L2245.2 687.3 L2245.2 683.3 L2246.2 683.3 L2246.2 678.3 L2247.2 678.3 L2247.2 681.9 L2248.2 681.9 L2248.2 682.1 L2249.2 682.1 L2249.2 686.9 L2250.3 686.9 L2250.3 682.6 L2251.4 682.6 L2251.4 688.4 L2252.6 688.4 L2252.6 686.6 L2253.7 686.6 L2253.7 683.8 L2254.8 683.8 L2254.8 688.2 L2255.9 688.2 L2255.9 691.1 L2257 691.1 L2257 681.6 L2258 681.6 L2258 690.5 L2259.1 690.5 L2259.1 688.2 L2260.2 688.2 L2260.2 683.6 L2261.3 683.6 L2261.3 683.4 L2262.4 683.4 L2262.4 691.1 L2263.4 691.1 L2263.4 687.9 L2264.5 687.9 L2264.5 686.1 L2265.6 686.1 L2265.6 689.5 L2266.7 689.5 L2266.7 692.6 L2267.7 692.6 L2267.7 691.2 L2268.8 691.2 L2268.8 684.9 L2269.9 684.9 L2269.9 678.6 L2271.1 678.6 L2271.1 676.4 L2272.2 676.4 L2272.2 670.1 L2273.3 670.1 L2273.3 667.5 L2274.5 667.5 L2274.5 670.2 L2275.7 670.2 L2275.7 661.1 L2276.9 661.1 L2276.9 670 L2278.2 670 L2278.2 664.6 L2279.5 664.6 L2279.5 674.6 L2280.8 674.6 L2280.8 672.9 L2281.9 672.9 L2281.9 687.8 L2283.1 687.8 L2283.1 687.6 L2284.2 687.6 L2284.2 685.1 L2285.3 685.1 L2285.3 686.3 L2286.4 686.3 L2286.4 675.8 L2287.5 675.8 L2287.5 680.5 L2288.5 680.5 L2288.5 678 L2289.6 678 L2289.6 666.5 L2290.7 666.5 L2290.7 666.8 L2291.7 666.8 L2291.7 678.6 L2292.7 678.6 L2292.7 668.3 L2293.8 668.3 L2293.8 678.1 L2294.8 678.1 L2294.8 677.6 L2295.8 677.6 L2295.8 675.2 L2296.8 675.2 L2296.8 677 L2297.8 677 L2297.8 685.3 L2298.8 685.3 L2298.8 679 L2299.8 679 L2299.8 684.1 L2300.8 684.1 L2300.8 682.1 L2301.8 682.1 L2301.8 685.5 L2302.9 685.5 L2302.9 686.4 L2303.9 686.4 L2303.9 676.2 L2305 676.2 L2305 676.5 L2306.1 676.5 L2306.1 678.7 L2307.2 678.7 L2307.2 669 L2308.2 669 L2308.2 670.1 L2309.3 670.1 L2309.3 676.8 L2310.5 676.8 L2310.5 672 L2311.6 672 L2311.6 677.5 L2312.8 677.5 L2312.8 667.1 L2313.9 667.1 L2313.9 672 L2314.9 672 L2314.9 662.4 L2315.9 662.4 L2315.9 668.9 L2317 668.9 L2317 674.8 L2318 674.8 L2318 665.6 L2319 665.6 L2319 673.8 L2320.1 673.8 L2320.1 667.5 L2321.2 667.5 L2321.2 674.6 L2322.2 674.6 L2322.2 665.3 L2323.3 665.3 L2323.3 670.1 L2324.4 670.1 L2324.4 681.3 L2325.5 681.3 L2325.5 671.5 L2326.7 671.5 L2326.7 677.2 L2327.8 677.2 L2327.8 679.1 L2328.9 679.1 L2328.9 670.5 L2330.2 670.5 L2330.2 672.2 L2331.5 672.2 L2331.5 661.1 L2332.8 661.1 L2332.8 676.4 L2334 676.4 L2334 678.6 L2335.2 678.6 L2335.2 676.1 L2336.4 676.1 L2336.4 673.3 L2337.5 673.3 L2337.5 680 L2338.7 680 L2338.7 676.1 L2339.8 676.1 L2339.8 663.5 L2340.9 663.5 L2340.9 665.1 L2342 665.1 L2342 667.7 L2343.2 667.7 L2343.2 672.3 L2344.3 672.3 L2344.3 679.1 L2345.4 679.1 L2345.4 678.1 L2346.4 678.1 L2346.4 682.7 L2347.4 682.7 L2347.4 680.4 L2348.4 680.4 L2348.4 683.6 L2349.4 683.6 L2349.4 686.3 L2350.4 686.3 L2350.4 686.6 L2351.4 686.6 L2351.4 689.2 L2352.4 689.2 L2352.4 693.4 L2353.4 693.4 L2353.4 693.2 L2354.4 693.2 L2354.4 692.2 L2355.4 692.2 L2355.4 690.8 L2356.4 690.8 L2356.4 689.7 L2357.4 689.7 L2357.4 693.8 L2358.5 693.8 L2358.5 686.1 L2359.7 686.1 L2359.7 689.1 L2360.8 689.1 L2360.8 688.1 L2361.9 688.1 L2362 711 Z" fill="#f0f2f6"/>
<rect x="64" y="710" width="2298" height="2" fill="#eef0f5"/>
<rect x="184" y="711" width="2" height="19" fill="#eef0f5"/><rect x="364" y="711" width="2" height="19" fill="#eef0f5"/><rect x="546" y="711" width="2" height="19" fill="#eef0f5"/><rect x="728" y="711" width="2" height="19" fill="#eef0f5"/><rect x="908" y="711" width="2" height="19" fill="#eef0f5"/><rect x="1088" y="711" width="2" height="19" fill="#eef0f5"/><rect x="1268" y="711" width="2" height="19" fill="#eef0f5"/><rect x="1450" y="711" width="2" height="19" fill="#eef0f5"/><rect x="1630" y="711" width="2" height="19" fill="#eef0f5"/><rect x="1812" y="711" width="2" height="19" fill="#eef0f5"/><rect x="1994" y="711" width="2" height="19" fill="#eef0f5"/><rect x="2176" y="711" width="2" height="19" fill="#eef0f5"/><rect x="2358" y="711" width="2" height="19" fill="#eef0f5"/>
<!-- area + line -->
<path d="M64 609.95 L64.6 609.9 L65.1 609.9 L65.7 609.9 L66.2 609.9 L66.8 609.9 L67.3 609.9 L67.9 609.9 L68.4 609.9 L69 609.9 L69.5 609.9 L70.1 609.9 L70.6 609.9 L71.2 609.9 L71.7 609.9 L72.3 609.9 L72.8 609.9 L73.4 609.9 L73.9 609.9 L74.5 609.9 L75 609.9 L75.6 609.9 L76.1 609.9 L76.7 609.9 L77.2 609.9 L77.8 609.9 L78.3 609.9 L78.9 609.9 L79.4 609.9 L80 609.9 L80.5 609.9 L81.1 609.9 L81.6 609.9 L82.2 609.9 L82.7 609.9 L83.3 609.9 L83.8 609.9 L84.4 609.9 L84.9 609.9 L85.5 609.9 L86.1 609.9 L86.6 609.8 L87.2 609.9 L87.7 609.8 L88.3 609.9 L88.8 609.9 L89.4 609.9 L89.9 609.9 L90.5 609.9 L91 609.9 L91.6 609.9 L92.1 609.9 L92.7 609.9 L93.2 609.9 L93.8 609.9 L94.3 609.9 L94.9 609.9 L95.4 609.9 L96 609.9 L96.5 609.9 L97.1 609.9 L97.6 609.9 L98.2 609.9 L98.7 609.8 L99.3 609.8 L99.8 609.8 L100.4 609.8 L100.9 609.8 L101.5 609.9 L102 609.8 L102.6 609.9 L103.1 609.8 L103.7 609.9 L104.2 609.9 L104.8 609.8 L105.3 609.9 L105.9 609.9 L106.4 609.9 L107 609.9 L107.6 609.8 L108.1 609.9 L108.7 609.9 L109.2 609.9 L109.8 609.9 L110.3 609.9 L110.9 609.9 L111.4 609.9 L112 609.9 L112.5 609.9 L113.1 609.9 L113.6 609.8 L114.2 609.9 L114.7 609.9 L115.3 609.9 L115.8 609.9 L116.4 609.9 L116.9 609.9 L117.5 609.9 L118 609.9 L118.6 609.9 L119.1 609.9 L119.7 609.9 L120.2 609.9 L120.8 609.9 L121.3 609.9 L121.9 609.9 L122.4 609.9 L123 609.9 L123.5 609.9 L124.1 609.9 L124.6 609.9 L125.2 609.9 L125.7 609.9 L126.3 609.9 L126.8 609.8 L127.4 609.9 L127.9 609.9 L128.5 609.9 L129.1 609.9 L129.6 609.9 L130.2 609.9 L130.7 609.9 L131.3 609.9 L131.8 609.9 L132.4 609.9 L132.9 609.9 L133.5 609.9 L134 609.9 L134.6 609.9 L135.1 609.9 L135.7 609.9 L136.2 609.9 L136.8 609.9 L137.3 609.9 L137.9 609.9 L138.4 609.9 L139 609.9 L139.5 609.9 L140.1 609.9 L140.6 609.9 L141.2 609.9 L141.7 609.9 L142.3 609.9 L142.8 609.9 L143.4 609.9 L143.9 609.9 L144.5 609.9 L145 609.9 L145.6 609.9 L146.1 609.9 L146.7 609.9 L147.2 609.9 L147.8 609.9 L148.3 609.9 L148.9 609.9 L149.4 609.9 L150 609.95 L150.6 609.9 L151.1 609.9 L151.7 609.9 L152.2 609.9 L152.8 609.8 L153.3 609.9 L153.8 609.8 L154.4 609.9 L154.9 609.9 L155.5 609.9 L156.1 609.8 L156.6 609.8 L157.2 609.7 L157.7 609.9 L158.2 609.8 L158.8 609.9 L159.3 609.8 L159.9 609.7 L160.4 609.8 L161 609.8 L161.6 609.8 L162.1 609.8 L162.7 609.7 L163.2 609.7 L163.8 609.8 L164.3 609.6 L164.8 609.6 L165.4 609.6 L165.9 609.6 L166.5 609.6 L167.1 609.6 L167.6 609.6 L168.2 609.6 L168.7 609.5 L169.2 609.7 L169.8 609.6 L170.3 609.6 L170.9 609.6 L171.4 609.7 L172 609.6 L172.6 609.6 L173.1 609.7 L173.7 609.7 L174.2 609.6 L174.8 609.6 L175.4 609.5 L175.9 609.6 L176.5 609.5 L177 609.7 L177.6 609.7 L178.2 609.6 L178.7 609.6 L179.3 609.6 L179.8 609.7 L180.4 609.7 L181 609.7 L181.5 609.6 L182.1 609.6 L182.6 609.6 L183.2 609.6 L183.8 609.5 L184.3 609.6 L184.9 609.5 L185.4 609.6 L186 609.7 L186.6 609.7 L187.1 609.8 L187.7 609.7 L188.2 609.7 L188.8 609.8 L189.4 609.8 L189.9 609.8 L190.5 609.8 L191 609.7 L191.6 609.8 L192.2 609.8 L192.7 609.8 L193.3 609.8 L193.8 609.7 L194.4 609.7 L195 609.8 L195.5 609.8 L196.1 609.8 L196.6 609.7 L197.2 609.8 L197.8 609.8 L198.3 609.7 L198.9 609.7 L199.4 609.7 L200 609.8 L200.6 609.7 L201.1 609.9 L201.7 609.8 L202.2 609.8 L202.8 609.8 L203.3 609.7 L203.9 609.8 L204.4 609.8 L205 609.7 L205.5 609.8 L206.1 609.8 L206.6 609.8 L207.2 609.8 L207.7 609.7 L208.3 609.8 L208.8 609.9 L209.4 609.8 L209.9 609.9 L210.5 609.8 L211 609.9 L211.6 609.8 L212.2 609.8 L212.7 609.7 L213.3 609.8 L213.8 609.9 L214.4 609.9 L214.9 609.7 L215.5 609.8 L216 609.8 L216.6 609.8 L217.1 609.9 L217.7 609.8 L218.2 609.7 L218.8 609.9 L219.3 609.8 L219.9 609.8 L220.4 609.9 L221 609.8 L221.5 609.7 L222.1 609.9 L222.7 609.9 L223.2 609.7 L223.8 609.7 L224.3 609.9 L224.9 609.9 L225.4 609.9 L226 609.9 L226.5 609.8 L227.1 609.9 L227.6 609.9 L228.2 609.8 L228.7 609.8 L229.3 609.8 L229.8 609.9 L230.4 609.8 L230.9 609.8 L231.5 609.8 L232 609.8 L232.6 609.9 L233.1 609.8 L233.7 609.9 L234.3 609.8 L234.8 609.7 L235.4 609.7 L235.9 609.7 L236.5 609.9 L237 609.8 L237.6 609.8 L238.1 609.8 L238.7 609.7 L239.2 609.8 L239.8 609.9 L240.3 609.8 L240.9 609.8 L241.4 609.8 L242 609.9 L242.5 609.8 L243.1 609.9 L243.6 609.9 L244.2 609.8 L244.8 609.9 L245.3 609.9 L245.9 609.9 L246.4 609.8 L247 609.9 L247.5 609.9 L248.1 609.9 L248.6 609.9 L249.2 609.9 L249.7 609.9 L250.3 609.8 L250.8 609.8 L251.4 609.9 L251.9 609.7 L252.5 609.8 L253 609.8 L253.6 609.8 L254.1 609.8 L254.7 609.9 L255.2 609.9 L255.8 609.8 L256.4 609.9 L256.9 609.8 L257.5 609.9 L258 609.8 L258.6 609.9 L259.1 609.7 L259.7 609.8 L260.2 609.8 L260.8 609.9 L261.3 609.8 L261.9 609.9 L262.4 609.9 L263 609.9 L263.5 609.9 L264.1 609.8 L264.6 609.8 L265.2 609.9 L265.7 609.8 L266.3 609.9 L266.9 609.7 L267.4 609.8 L268 609.9 L268.5 609.9 L269.1 609.9 L269.6 609.9 L270.2 609.8 L270.7 609.9 L271.3 609.8 L271.8 609.8 L272.4 609.8 L272.9 609.8 L273.5 609.9 L274 609.9 L274.6 609.9 L275.1 609.9 L275.7 609.9 L276.2 609.8 L276.8 609.8 L277.3 609.9 L277.9 609.8 L278.5 609.8 L279 609.8 L279.6 609.9 L280.1 609.8 L280.7 609.9 L281.2 609.9 L281.8 609.8 L282.3 609.9 L282.9 609.9 L283.4 609.8 L284 609.9 L284.5 609.9 L285.1 609.8 L285.6 609.9 L286.2 609.8 L286.7 609.9 L287.3 609.9 L287.8 609.9 L288.4 609.9 L289 609.8 L289.5 609.9 L290.1 609.8 L290.6 609.9 L291.2 609.9 L291.7 609.9 L292.3 609.8 L292.8 609.9 L293.4 609.9 L293.9 609.9 L294.5 609.9 L295 609.9 L295.6 609.8 L296.1 609.9 L296.7 609.9 L297.2 609.8 L297.8 609.8 L298.3 609.9 L298.9 609.9 L299.4 609.9 L300 609.9 L300.6 609.8 L301.1 609.9 L301.7 609.8 L302.2 609.9 L302.8 609.9 L303.3 609.9 L303.9 609.8 L304.4 609.9 L305 609.9 L305.5 609.9 L306.1 609.9 L306.6 609.8 L307.2 609.9 L307.7 609.9 L308.3 609.8 L308.8 609.9 L309.4 609.8 L309.9 609.9 L310.5 609.8 L311 609.8 L311.6 609.9 L312.1 609.8 L312.7 609.9 L313.2 609.8 L313.8 609.9 L314.3 609.9 L314.9 609.9 L315.4 609.9 L316 609.9 L316.5 609.9 L317.1 609.8 L317.6 609.8 L318.2 609.9 L318.7 609.9 L319.3 609.9 L319.8 609.8 L320.4 609.9 L320.9 609.9 L321.5 609.9 L322 609.9 L322.6 609.8 L323.1 609.9 L323.7 609.9 L324.2 609.9 L324.8 609.8 L325.3 609.9 L325.9 609.8 L326.4 609.9 L327 609.9 L327.5 609.9 L328.1 609.9 L328.6 609.9 L329.2 609.9 L329.7 609.9 L330.3 609.9 L330.8 609.8 L331.4 609.9 L331.9 609.9 L332.5 609.8 L333 609.8 L333.6 609.9 L334.1 609.9 L334.7 609.9 L335.2 609.9 L335.8 609.9 L336.3 609.9 L336.9 609.8 L337.4 609.9 L338 609.8 L338.5 609.8 L339.1 609.9 L339.6 609.8 L340.2 609.8 L340.7 609.8 L341.3 609.9 L341.8 609.8 L342.4 609.9 L342.9 609.9 L343.5 609.9 L344 609.9 L344.6 609.9 L345.1 609.9 L345.7 609.9 L346.2 609.9 L346.8 609.9 L347.3 609.8 L347.9 609.9 L348.4 609.9 L349 609.9 L349.5 609.8 L350.1 609.9 L350.6 609.8 L351.2 609.9 L351.7 609.9 L352.3 609.9 L352.8 609.8 L353.4 609.9 L353.9 609.9 L354.5 609.9 L355 609.9 L355.6 609.9 L356.1 609.9 L356.7 609.9 L357.2 609.9 L357.8 609.8 L358.3 609.8 L358.9 609.9 L359.4 609.9 L360 609.9 L360.6 609.8 L361.1 609.8 L361.7 609.9 L362.2 609.9 L362.8 609.8 L363.3 609.8 L363.9 609.8 L364.4 609.8 L365 609.8 L365.5 609.8 L366.1 609.9 L366.6 609.9 L367.2 609.8 L367.7 609.9 L368.3 609.9 L368.8 609.8 L369.4 609.9 L369.9 609.8 L370.5 609.9 L371 609.9 L371.6 609.9 L372.1 609.9 L372.7 609.8 L373.2 609.9 L373.8 609.8 L374.3 609.8 L374.9 609.9 L375.4 609.9 L376 609.9 L376.5 609.9 L377.1 609.9 L377.6 609.9 L378.2 609.9 L378.7 609.9 L379.3 609.9 L379.8 609.8 L380.4 609.8 L380.9 609.9 L381.5 609.9 L382 609.9 L382.6 609.9 L383.1 609.9 L383.7 609.9 L384.2 609.9 L384.8 609.9 L385.3 609.9 L385.9 609.9 L386.4 609.9 L387 609.9 L387.5 609.9 L388.1 609.9 L388.6 609.9 L389.2 609.9 L389.7 609.9 L390.3 609.9 L390.8 609.9 L391.4 609.9 L391.9 609.9 L392.5 609.7 L393 609.9 L393.6 609.8 L394.1 609.7 L394.7 609.9 L395.2 609.9 L395.8 609.9 L396.3 609.9 L396.9 609.9 L397.4 609.9 L398 609.9 L398.5 609.8 L399.1 609.8 L399.6 609.9 L400.2 609.9 L400.7 609.9 L401.3 609.8 L401.8 609.9 L402.4 609.9 L402.9 609.8 L403.5 609.9 L404 609.8 L404.6 609.9 L405.1 609.9 L405.7 609.9 L406.2 609.9 L406.8 609.9 L407.3 609.8 L407.9 609.9 L408.4 609.9 L409 609.8 L409.5 609.9 L410.1 609.9 L410.6 609.9 L411.2 609.9 L411.7 609.9 L412.3 609.9 L412.8 609.8 L413.4 609.9 L413.9 609.9 L414.5 609.9 L415 609.9 L415.6 609.9 L416.1 609.9 L416.7 609.9 L417.2 609.9 L417.8 609.9 L418.3 609.9 L418.9 609.9 L419.4 609.9 L420 609.9 L420.6 609.9 L421.1 609.9 L421.7 609.9 L422.2 609.9 L422.8 609.9 L423.3 609.9 L423.9 609.9 L424.4 609.9 L425 609.8 L425.5 609.9 L426.1 609.8 L426.6 609.8 L427.2 609.8 L427.7 609.8 L428.3 609.9 L428.8 609.9 L429.4 609.8 L429.9 609.9 L430.5 609.9 L431 609.9 L431.6 609.8 L432.1 609.8 L432.7 609.9 L433.2 609.9 L433.8 609.9 L434.3 609.9 L434.9 609.9 L435.4 609.9 L436 609.9 L436.5 609.9 L437.1 609.9 L437.6 609.9 L438.2 609.9 L438.7 609.9 L439.3 609.9 L439.8 609.9 L440.4 609.9 L440.9 609.9 L441.5 609.9 L442 609.9 L442.6 609.9 L443.1 609.9 L443.7 609.9 L444.2 609.9 L444.8 609.9 L445.3 609.9 L445.9 609.9 L446.4 609.9 L447 609.9 L447.5 609.9 L448.1 609.9 L448.6 609.9 L449.2 609.9 L449.7 609.9 L450.3 609.9 L450.8 609.8 L451.4 609.9 L451.9 609.8 L452.5 609.9 L453 609.8 L453.6 609.9 L454.1 609.9 L454.7 609.9 L455.2 609.8 L455.8 609.9 L456.3 609.9 L456.9 609.9 L457.4 609.9 L458 609.9 L458.5 609.9 L459.1 609.9 L459.6 609.8 L460.2 609.9 L460.7 609.9 L461.3 609.9 L461.8 609.8 L462.4 609.9 L462.9 609.8 L463.5 609.9 L464 609.9 L464.6 609.9 L465.1 609.9 L465.7 609.9 L466.2 609.9 L466.8 609.9 L467.3 609.8 L467.9 609.9 L468.4 609.8 L469 609.8 L469.5 609.9 L470.1 609.8 L470.6 609.9 L471.2 609.9 L471.7 609.9 L472.3 609.9 L472.8 609.9 L473.4 609.9 L473.9 609.9 L474.5 609.9 L475 609.9 L475.6 609.8 L476.1 609.8 L476.7 609.8 L477.2 609.9 L477.8 609.9 L478.3 609.9 L478.9 609.9 L479.4 609.9 L480 609.9 L480.6 609.9 L481.1 609.8 L481.7 609.9 L482.2 609.9 L482.8 609.9 L483.3 609.9 L483.9 609.9 L484.4 609.8 L485 609.9 L485.5 609.9 L486.1 609.9 L486.6 609.9 L487.2 609.9 L487.7 609.9 L488.3 609.8 L488.8 609.9 L489.4 609.8 L489.9 609.9 L490.5 609.9 L491 609.8 L491.6 609.9 L492.1 609.9 L492.7 609.9 L493.2 609.9 L493.8 609.8 L494.3 609.8 L494.9 609.9 L495.4 609.9 L496 609.9 L496.5 609.9 L497.1 609.9 L497.6 609.8 L498.2 609.9 L498.8 609.8 L499.3 609.8 L499.9 609.9 L500.4 609.8 L501 609.9 L501.5 609.8 L502.1 609.8 L502.6 609.8 L503.2 609.9 L503.7 609.8 L504.3 609.7 L504.8 609.8 L505.4 609.8 L505.9 609.8 L506.5 609.9 L507 609.8 L507.6 609.8 L508.1 609.8 L508.7 609.7 L509.2 609.8 L509.8 609.9 L510.3 609.8 L510.9 609.7 L511.4 609.7 L512 609.8 L512.5 609.8 L513.1 609.9 L513.6 609.7 L514.2 609.9 L514.7 609.9 L515.3 609.9 L515.8 609.7 L516.4 609.8 L516.9 609.7 L517.5 609.8 L518.1 609.8 L518.6 609.7 L519.2 609.8 L519.7 609.8 L520.3 609.8 L520.8 609.8 L521.4 609.8 L521.9 609.8 L522.5 609.9 L523 609.8 L523.6 609.9 L524.1 609.8 L524.7 609.8 L525.2 609.9 L525.8 609.8 L526.3 609.9 L526.9 609.8 L527.4 609.9 L528 609.8 L528.5 609.7 L529.1 609.8 L529.6 609.9 L530.2 609.8 L530.7 609.8 L531.3 609.7 L531.8 609.9 L532.4 609.9 L532.9 609.7 L533.5 609.8 L534 609.8 L534.6 609.7 L535.1 609.8 L535.7 609.7 L536.2 609.8 L536.8 609.8 L537.4 609.8 L537.9 609.7 L538.5 609.8 L539 609.8 L539.6 609.8 L540.1 609.7 L540.7 609.7 L541.2 609.7 L541.8 609.7 L542.3 609.6 L542.9 609.7 L543.4 609.7 L544 609.7 L544.5 609.7 L545.1 609.6 L545.6 609.8 L546.2 609.7 L546.7 609.7 L547.3 609.7 L547.8 609.8 L548.4 609.9 L548.9 609.6 L549.5 609.6 L550 609.6 L550.6 609.8 L551.1 609.8 L551.7 609.7 L552.2 609.7 L552.8 609.8 L553.3 609.7 L553.9 609.8 L554.4 609.7 L555 609.6 L555.6 609.8 L556.1 609.6 L556.7 609.6 L557.2 609.8 L557.8 609.7 L558.3 609.8 L558.9 609.8 L559.4 609.6 L560 609.8 L560.5 609.7 L561.1 609.8 L561.6 609.6 L562.2 609.6 L562.7 609.6 L563.3 609.6 L563.8 609.6 L564.4 609.6 L564.9 609.7 L565.5 609.7 L566 609.8 L566.6 609.6 L567.1 609.7 L567.7 609.7 L568.2 609.6 L568.8 609.7 L569.3 609.6 L569.9 609.6 L570.4 609.7 L571 609.7 L571.5 609.6 L572.1 609.5 L572.6 609.6 L573.2 609.6 L573.8 609.7 L574.3 609.7 L574.9 609.6 L575.4 609.6 L576 609.6 L576.5 609.5 L577.1 609.7 L577.6 609.8 L578.2 609.6 L578.7 609.6 L579.3 609.6 L579.8 609.6 L580.4 609.7 L580.9 609.5 L581.5 609.7 L582 609.6 L582.6 609.6 L583.1 609.6 L583.7 609.7 L584.2 609.6 L584.8 609.5 L585.3 609.6 L585.9 609.5 L586.4 609.7 L587 609.7 L587.5 609.5 L588.1 609.6 L588.6 609.5 L589.2 609.6 L589.7 609.7 L590.3 609.5 L590.8 609.7 L591.4 609.6 L591.9 609.7 L592.5 609.5 L593.1 609.6 L593.6 609.6 L594.2 609.6 L594.7 609.6 L595.3 609.7 L595.8 609.6 L596.4 609.6 L596.9 609.6 L597.5 609.6 L598 609.6 L598.6 609.5 L599.1 609.6 L599.7 609.5 L600.2 609.6 L600.8 609.5 L601.3 609.5 L601.9 609.6 L602.4 609.6 L603 609.5 L603.5 609.6 L604.1 609.5 L604.6 609.6 L605.2 609.5 L605.7 609.5 L606.3 609.6 L606.8 609.6 L607.4 609.5 L607.9 609.7 L608.5 609.5 L609 609.6 L609.6 609.7 L610.1 609.5 L610.7 609.5 L611.2 609.6 L611.8 609.6 L612.4 609.6 L612.9 609.5 L613.5 609.6 L614 609.5 L614.6 609.5 L615.1 609.5 L615.7 609.5 L616.2 609.4 L616.8 609.6 L617.3 609.6 L617.9 609.6 L618.4 609.5 L619 609.5 L619.5 609.5 L620.1 609.6 L620.6 609.5 L621.2 609.5 L621.7 609.5 L622.3 609.6 L622.8 609.5 L623.4 609.5 L623.9 609.5 L624.5 609.4 L625 609.4 L625.6 609.5 L626.1 609.5 L626.7 609.5 L627.2 609.5 L627.8 609.5 L628.3 609.5 L628.9 609.5 L629.4 609.5 L630 609.5 L630.6 609.4 L631.1 609.5 L631.7 609.5 L632.2 609.5 L632.8 609.4 L633.3 609.5 L633.9 609.6 L634.4 609.5 L635 609.4 L635.5 609.5 L636.1 609.4 L636.6 609.5 L637.2 609.4 L637.7 609.5 L638.3 609.4 L638.8 609.5 L639.4 609.5 L639.9 609.5 L640.5 609.5 L641 609.5 L641.6 609.5 L642.1 609.4 L642.7 609.4 L643.2 609.5 L643.8 609.6 L644.3 609.5 L644.9 609.6 L645.4 609.5 L646 609.5 L646.5 609.4 L647.1 609.5 L647.6 609.4 L648.2 609.5 L648.7 609.4 L649.3 609.4 L649.8 609.4 L650.4 609.3 L650.9 609.4 L651.5 609.6 L652 609.5 L652.6 609.6 L653.1 609.3 L653.7 609.4 L654.3 609.5 L654.8 609.6 L655.4 609.4 L655.9 609.4 L656.5 609.4 L657 609.5 L657.6 609.4 L658.1 609.4 L658.7 609.4 L659.2 609.5 L659.8 609.5 L660.3 609.5 L660.9 609.4 L661.4 609.5 L662 609.4 L662.5 609.5 L663.1 609.4 L663.6 609.5 L664.2 609.6 L664.7 609.5 L665.3 609.4 L665.8 609.4 L666.4 609.3 L666.9 609.4 L667.5 609.5 L668 609.3 L668.6 609.4 L669.1 609.4 L669.7 609.3 L670.2 609.4 L670.8 609.3 L671.3 609.4 L671.9 609.4 L672.4 609.5 L673 609.4 L673.5 609.3 L674.1 609.3 L674.6 609.3 L675.2 609.4 L675.7 609.4 L676.3 609.2 L676.9 609.3 L677.4 609.4 L678 609.3 L678.5 609.4 L679.1 609.3 L679.6 609.3 L680.2 609.4 L680.7 609.4 L681.3 609.4 L681.8 609.2 L682.4 609.4 L682.9 609.4 L683.5 609.3 L684 609.5 L684.6 609.5 L685.1 609.3 L685.7 609.3 L686.2 609.4 L686.8 609.4 L687.3 609.2 L687.9 609.2 L688.4 609.3 L689 609.3 L689.5 609.3 L690.1 609.2 L690.6 609.4 L691.2 609.3 L691.7 609.3 L692.3 609.2 L692.8 609.3 L693.4 609.3 L693.9 609.2 L694.5 609.2 L695 609.4 L695.6 609.2 L696.1 609.4 L696.7 609.4 L697.2 609.4 L697.8 609.2 L698.3 609.2 L698.9 609.3 L699.4 609.3 L700 609.3 L700.6 609.2 L701.1 609.2 L701.7 609.2 L702.2 609.3 L702.8 609.3 L703.3 609.3 L703.9 609.2 L704.4 609.2 L705 609.3 L705.5 609.3 L706.1 609.2 L706.6 609.2 L707.2 609.1 L707.7 609.1 L708.3 609.2 L708.8 609.2 L709.4 609.3 L709.9 609.3 L710.5 609.1 L711 609.2 L711.6 609.1 L712.1 609.2 L712.7 609.1 L713.2 609.2 L713.8 609.1 L714.3 609.2 L714.9 609.2 L715.4 609 L716 609 L716.5 609.1 L717.1 609 L717.6 609 L718.2 609.1 L718.7 609.1 L719.3 609.2 L719.8 609 L720.4 609.2 L720.9 609 L721.5 609.1 L722 609 L722.6 609.1 L723.1 609.1 L723.7 609 L724.2 609 L724.8 609.2 L725.3 609 L725.9 609.1 L726.4 609.2 L727 609.2 L727.5 609.1 L728.1 609 L728.6 609 L729.2 609 L729.7 609 L730.3 609.1 L730.8 609 L731.4 609.1 L731.9 609 L732.5 608.9 L733 608.9 L733.6 608.8 L734.1 609 L734.7 608.9 L735.2 608.9 L735.8 609 L736.3 609 L736.9 608.9 L737.4 609 L738 609 L738.5 608.9 L739.1 608.9 L739.6 609 L740.2 608.8 L740.7 608.8 L741.3 608.8 L741.8 608.9 L742.4 608.7 L742.9 608.8 L743.5 608.8 L744 608.7 L744.6 608.9 L745.1 608.9 L745.7 608.9 L746.2 608.8 L746.8 608.7 L747.3 608.7 L747.9 608.9 L748.4 608.9 L749 608.8 L749.5 608.7 L750.1 608.8 L750.6 608.7 L751.2 608.8 L751.7 608.9 L752.3 608.8 L752.8 608.8 L753.4 608.7 L753.9 608.7 L754.5 608.8 L755 608.8 L755.6 608.6 L756.1 608.8 L756.7 608.8 L757.2 608.8 L757.8 608.7 L758.3 608.7 L758.9 608.6 L759.4 608.6 L760 608.7 L760.6 608.8 L761.1 608.6 L761.7 608.6 L762.2 608.6 L762.8 608.8 L763.3 608.7 L763.9 608.7 L764.4 608.6 L765 608.6 L765.5 608.7 L766.1 608.6 L766.6 608.6 L767.2 608.6 L767.7 608.5 L768.3 608.5 L768.9 608.7 L769.4 608.7 L770 608.7 L770.5 608.5 L771.1 608.6 L771.6 608.6 L772.2 608.6 L772.7 608.5 L773.3 608.6 L773.8 608.4 L774.4 608.5 L774.9 608.4 L775.5 608.4 L776 608.4 L776.6 608.4 L777.1 608.3 L777.7 608.5 L778.3 608.5 L778.8 608.3 L779.4 608.3 L779.9 608.4 L780.5 608.4 L781 608.3 L781.6 608.2 L782.1 608.2 L782.7 608.4 L783.2 608.4 L783.8 608.2 L784.3 608.4 L784.9 608.4 L785.4 608.2 L786 608.3 L786.6 608.2 L787.1 608 L787.7 607.9 L788.2 607.8 L788.8 607.7 L789.3 607.5 L789.9 607.5 L790.5 607.5 L791 607.4 L791.6 607.4 L792.1 607.1 L792.7 607 L793.2 606.9 L793.8 606.7 L794.3 606.7 L794.9 606.5 L795.5 606.2 L796.1 606.1 L796.6 606.1 L797.2 605.9 L797.8 605.6 L798.4 605.4 L799 605.4 L799.6 605 L800.1 605.1 L800.7 604.8 L801.3 604.7 L801.9 604.7 L802.4 604.1 L803 604.4 L803.6 604.5 L804.1 603.8 L804.7 603.7 L805.3 604 L805.8 603.4 L806.4 603.6 L807 603.2 L807.6 602.9 L808.1 603 L808.7 603.1 L809.3 602.5 L809.8 602.8 L810.4 602.4 L811 602.1 L811.6 602.3 L812.1 602.5 L812.7 602.3 L813.3 602.3 L813.9 601.9 L814.4 602.8 L815 602.2 L815.6 602.6 L816.2 602.5 L816.8 602.6 L817.3 602.7 L817.9 603 L818.5 602.6 L819.1 603.2 L819.7 603.3 L820.3 603.2 L820.8 602.8 L821.4 603.3 L822 603 L822.6 603.5 L823.1 603.7 L823.7 603.8 L824.2 604 L824.8 604.2 L825.4 604.2 L825.9 605 L826.5 604.9 L827.2 604.5 L827.8 604.1 L828.5 603.7 L829.1 604 L829.8 603.6 L830.4 603.5 L830.9 603.4 L831.5 603.1 L832.1 603.2 L832.6 603.5 L833.2 603.5 L833.8 603.7 L834.3 603.2 L834.9 603.4 L835.5 603.5 L836.1 603.1 L836.6 602.9 L837.2 602.1 L837.8 602 L838.4 601.4 L838.9 601.3 L839.5 601.1 L840.1 601.1 L840.7 600.5 L841.2 600.9 L841.8 600.1 L842.3 600.5 L842.9 599.4 L843.4 599.8 L844 599.1 L844.6 598.9 L845.3 599.3 L846 599.8 L846.6 599.8 L847.2 599.3 L847.9 599.4 L848.5 598.8 L849.2 598.4 L849.8 598.1 L850.4 598.2 L851.1 598.5 L851.7 598.8 L852.4 599.2 L853 599.8 L853.6 599.9 L854.2 601.2 L854.7 601.4 L855.3 602.4 L855.9 602.6 L856.5 602 L857.1 601.6 L857.7 601.5 L858.3 601.7 L858.9 601.5 L859.5 601.1 L860.1 601.1 L860.6 600.8 L861.2 600.7 L861.7 601.1 L862.3 600.6 L862.8 601 L863.4 600.4 L864 600.1 L864.5 600.7 L865.1 599.6 L865.7 600.1 L866.2 600 L866.8 600 L867.4 599.8 L867.9 599.5 L868.5 599.8 L869.2 599.3 L869.8 598.7 L870.5 598.8 L871.1 598.1 L871.8 598.1 L872.4 598.6 L872.9 597.7 L873.5 598.1 L874.1 598.6 L874.6 598.4 L875.2 598.6 L875.8 598.9 L876.3 598.6 L876.9 598.5 L877.5 598.3 L878 598.3 L878.6 597.6 L879.1 597.8 L879.7 597.6 L880.3 596.9 L880.8 596.9 L881.4 596.8 L882 596.3 L882.5 596.8 L883.1 596.9 L883.7 596.2 L884.3 596.3 L884.9 595.9 L885.4 596.4 L886 595.9 L886.6 595.4 L887.1 595.6 L887.7 594.9 L888.2 594.5 L888.8 594.7 L889.4 594.2 L889.9 593.9 L890.5 593.3 L891.1 592.5 L891.6 593.1 L892.2 591.2 L892.7 591.4 L893.3 590.7 L893.8 590 L894.4 589.4 L895 587.8 L895.7 586.9 L896.4 587 L897 585.6 L897.6 583.4 L898.2 579.7 L898.9 578.1 L899.5 578 L900.1 575.7 L900.8 575.2 L901.4 572.9 L902.1 570.9 L902.8 570.4 L903.4 568.1 L904 570.1 L904.5 570.5 L905.1 571.8 L905.7 573.9 L906.3 573.3 L906.9 572.3 L907.4 570.6 L908 570.6 L908.6 570.1 L909.2 567.2 L909.9 565 L910.5 561 L911.1 559.6 L911.6 555.5 L912.2 553.9 L913 556.1 L913.7 561 L914.4 559.9 L915 559.5 L915.7 559.1 L916.4 564.7 L917 572.6 L917.6 573.2 L918.3 573.4 L918.9 574.5 L919.6 574.3 L920.2 573.9 L920.8 572.6 L921.5 572.9 L922.1 571.3 L922.8 573.6 L923.4 575.8 L924.1 579.1 L924.7 581 L925.2 584.7 L925.8 586.2 L926.4 588.4 L927 586.6 L927.5 584.9 L928 584.8 L928.6 583 L929.2 581.5 L929.7 581.2 L930.3 580.6 L930.8 580.1 L931.4 578.4 L931.9 577.5 L932.5 576.5 L933.1 578.2 L933.8 578.2 L934.4 578.9 L935.1 579.8 L935.7 580.6 L936.3 580.7 L936.8 580.2 L937.4 580.5 L938 580.2 L938.5 580.4 L939.1 580.1 L939.6 579.7 L940.2 579.7 L940.9 580.5 L941.5 583 L942.2 584.3 L942.8 585 L943.5 585.4 L944.1 586.5 L944.7 586.9 L945.4 588.1 L946 588.1 L946.6 587.5 L947.3 588.3 L948 587.4 L948.6 587.5 L949.2 587.7 L949.8 588.2 L950.3 589.2 L950.9 589.2 L951.5 590.9 L952.1 591 L952.6 591.9 L953.2 591.8 L953.8 592.7 L954.4 592.7 L955.1 592.6 L955.7 592.7 L956.4 592.3 L957 593 L957.6 592.3 L958.1 590.9 L958.7 590.5 L959.2 589.7 L959.8 589.1 L960.3 589.3 L960.9 588.1 L961.5 587 L962 586.5 L962.6 584.8 L963.1 584.3 L963.7 583.5 L964.3 583 L964.8 581.8 L965.4 581 L966.1 581.2 L966.7 581.1 L967.4 581.4 L968 581.5 L968.6 580.9 L969.1 579.3 L969.7 579.5 L970.3 579.1 L970.9 579.7 L971.5 580.9 L972.1 580.7 L972.7 581.1 L973.3 581.9 L973.9 583.1 L974.5 583 L975.1 583.2 L975.8 583.9 L976.4 584.1 L977 583.2 L977.7 584.2 L978.3 584.3 L978.9 585.5 L979.4 585.2 L980 586.5 L980.5 586.1 L981.1 587.9 L981.6 588.7 L982.2 589.4 L982.9 588.9 L983.5 588.4 L984.2 587.8 L984.8 587.9 L985.5 586.8 L986.1 587 L986.6 587.9 L987.2 588.7 L987.8 588.2 L988.3 588.8 L988.9 590.1 L989.4 590.4 L990 591 L990.6 590.7 L991.1 591.5 L991.7 591.2 L992.2 590.7 L992.8 591.1 L993.3 591.3 L993.9 591.4 L994.5 591.6 L995.1 591.9 L995.7 592.8 L996.3 592.4 L996.9 592.9 L997.5 593.3 L998.1 592.7 L998.6 592.8 L999.2 592.2 L999.7 591.9 L1000.3 591.4 L1000.9 592.2 L1001.6 592.3 L1002.2 591.8 L1002.9 591.9 L1003.5 592.7 L1004.1 591.7 L1004.8 591.2 L1005.5 591.1 L1006.1 590.1 L1006.7 590.1 L1007.2 590.3 L1007.8 589.5 L1008.4 589.6 L1008.9 589.7 L1009.5 589.1 L1010 590.1 L1010.6 589.4 L1011.2 590 L1011.8 590.6 L1012.3 590.2 L1012.9 591 L1013.5 591.4 L1014.1 591.3 L1014.6 592 L1015.2 592.7 L1015.8 592.9 L1016.5 593.8 L1017.1 594.3 L1017.7 595.7 L1018.4 595 L1019 595.9 L1019.6 596 L1020.2 595.8 L1020.8 595.5 L1021.4 595.6 L1022 595.4 L1022.5 595.5 L1023.1 596.5 L1023.7 596 L1024.3 595.5 L1024.9 595.6 L1025.5 595.5 L1026 595 L1026.6 595.6 L1027.2 595 L1027.7 594.1 L1028.3 594.7 L1028.8 593.9 L1029.4 594 L1030 594.2 L1030.7 595.9 L1031.3 596.2 L1032 595.9 L1032.6 596.9 L1033.2 596.8 L1033.7 596.9 L1034.3 596.7 L1034.8 596 L1035.4 596.1 L1035.9 596.8 L1036.5 596.5 L1037.1 596.1 L1037.8 595.5 L1038.4 595.2 L1039.1 594.8 L1039.7 594.6 L1040.3 594.5 L1040.8 594.3 L1041.4 595 L1042 594.9 L1042.5 594.9 L1043.1 594.3 L1043.6 594.5 L1044.2 594.9 L1044.8 595 L1045.4 594.9 L1045.9 594.9 L1046.5 594.9 L1047.1 594.9 L1047.7 594.7 L1048.2 595.6 L1048.8 595.9 L1049.4 595.6 L1050 596 L1050.5 595.8 L1051.1 595.8 L1051.6 595.7 L1052.2 595.1 L1052.7 595 L1053.3 595.1 L1053.9 595.2 L1054.4 595.4 L1055 596 L1055.5 595.3 L1056.1 595.7 L1056.6 595.2 L1057.2 595.6 L1057.8 595.7 L1058.4 595.4 L1058.9 595.5 L1059.5 595.1 L1060.1 595.5 L1060.7 594.8 L1061.3 595.2 L1061.8 594.5 L1062.4 594.3 L1063 594.6 L1063.7 594.5 L1064.3 595.5 L1064.9 596 L1065.6 595.9 L1066.2 596.6 L1066.9 597.9 L1067.5 598.4 L1068.1 598.9 L1068.8 599.8 L1069.4 600.2 L1070 600.5 L1070.6 600.1 L1071.1 600.9 L1071.7 600.7 L1072.3 601.6 L1072.8 601.6 L1073.4 601.6 L1074 601.4 L1074.6 601.5 L1075.1 602.1 L1075.7 602 L1076.3 602.5 L1076.8 602.4 L1077.4 603.1 L1078 603 L1078.5 602.6 L1079.1 603 L1079.9 602.9 L1080.7 603.3 L1081.3 603.2 L1082 602.6 L1082.6 602.1 L1083.2 601.7 L1083.9 601.4 L1084.5 600.5 L1085.1 600.1 L1085.6 600.8 L1086.2 600.6 L1086.7 600.9 L1087.3 600.4 L1087.8 599.9 L1088.4 600.5 L1089 600.6 L1089.5 600.3 L1090.1 600.9 L1090.6 600.5 L1091.2 600.4 L1091.7 600.6 L1092.3 600.7 L1092.9 601.2 L1093.4 601.1 L1094 601.2 L1094.5 600.9 L1095.1 601.5 L1095.6 602.1 L1096.2 602 L1096.8 602.4 L1097.3 602.1 L1097.9 602.2 L1098.5 602.2 L1099 602.2 L1099.6 602.1 L1100.1 602.7 L1100.7 602.6 L1101.3 602.1 L1101.8 602.2 L1102.4 602.5 L1103 602.8 L1103.5 602.8 L1104.1 602.7 L1104.6 603 L1105.2 602.7 L1105.8 602.7 L1106.4 602.4 L1106.9 602.6 L1107.5 602.4 L1108.1 602.7 L1108.7 602.3 L1109.2 602.1 L1109.8 602.1 L1110.4 602.2 L1111 601.6 L1111.6 601.4 L1112.1 602.1 L1112.7 601.5 L1113.3 601 L1113.9 601.5 L1114.4 601 L1115 600.9 L1115.6 601 L1116.2 600.9 L1116.7 601.2 L1117.3 601.3 L1117.8 601.4 L1118.4 601.2 L1119 600.6 L1119.5 601.2 L1120.1 600.9 L1120.7 600.8 L1121.2 600.6 L1121.8 600.7 L1122.3 600.4 L1122.9 600.6 L1123.5 601.2 L1124 600.5 L1124.6 600.7 L1125.2 600.4 L1125.7 600.6 L1126.3 600.3 L1126.8 600.3 L1127.4 600.4 L1127.9 600.7 L1128.5 600.6 L1129.1 600.6 L1129.6 599.9 L1130.2 600.3 L1130.7 600.4 L1131.3 600.1 L1131.8 600.5 L1132.4 600.1 L1133 599.6 L1133.5 599.4 L1134.1 599 L1134.7 599.3 L1135.2 599.2 L1135.8 598.1 L1136.4 597.9 L1136.9 598 L1137.5 597.5 L1138.1 597.8 L1138.7 597.2 L1139.3 598 L1139.9 597.8 L1140.5 597.7 L1141 598.2 L1141.6 597.7 L1142.2 597.8 L1142.8 598.1 L1143.4 597.8 L1144 597.8 L1144.6 598.3 L1145.1 597.8 L1145.7 597.8 L1146.3 598.4 L1146.8 598.4 L1147.4 598.5 L1148 598.8 L1148.5 599 L1149.1 598.8 L1149.7 598.7 L1150.2 598.4 L1150.8 598.8 L1151.3 598.6 L1151.9 598.4 L1152.4 597.9 L1153 597.5 L1153.7 596.9 L1154.3 595.4 L1155 595.5 L1155.6 594 L1156.3 593.6 L1156.9 593 L1157.6 594 L1158.2 593.4 L1158.9 592.9 L1159.5 593.2 L1160.1 592.9 L1160.6 592.8 L1161.2 592 L1161.7 591.8 L1162.3 592.3 L1162.8 592.1 L1163.4 591.7 L1164 591.5 L1164.7 592 L1165.3 592.4 L1165.9 592.8 L1166.6 593.2 L1167.2 593.2 L1167.8 593.2 L1168.3 593.1 L1168.9 592.4 L1169.4 591.9 L1170 592.7 L1170.5 592.3 L1171.1 592.3 L1171.7 591.9 L1172.4 591.5 L1173 591.3 L1173.7 590.3 L1174.3 589.7 L1175 588.5 L1175.6 587.5 L1176.2 587.2 L1176.9 585.9 L1177.6 586.4 L1178.2 586.5 L1178.9 587 L1179.5 588 L1180.2 588.4 L1180.8 588.1 L1181.5 588.1 L1182.1 587.1 L1182.7 587.7 L1183.4 587.9 L1184 587.2 L1184.6 588.5 L1185.1 589 L1185.7 588.7 L1186.2 589.8 L1186.8 590.5 L1187.3 590.8 L1187.9 591.7 L1188.5 591.8 L1189.1 591.6 L1189.6 591.2 L1190.2 592 L1190.8 591.7 L1191.4 591.1 L1191.9 591.8 L1192.5 592.2 L1193.1 591.7 L1193.7 591.8 L1194.2 591.5 L1194.8 590.1 L1195.3 590.4 L1195.9 589.6 L1196.5 589.9 L1197 589.9 L1197.6 589.1 L1198.2 589.5 L1198.7 589.9 L1199.3 590.9 L1199.8 589.8 L1200.4 590.7 L1201 590.3 L1201.5 591.8 L1202.1 591.7 L1202.7 591.3 L1203.2 592 L1203.8 591.7 L1204.3 592.5 L1204.9 592.3 L1205.4 591.8 L1206 592.4 L1206.6 592.4 L1207.1 591.9 L1207.7 592.5 L1208.2 592.9 L1208.8 592.3 L1209.3 592.4 L1209.9 593 L1210.5 592.8 L1211 593.1 L1211.6 592.8 L1212.2 592.6 L1212.7 592.8 L1213.3 591.9 L1213.9 592.7 L1214.4 592 L1215 592.1 L1215.6 592.5 L1216.2 592.5 L1216.7 591.5 L1217.3 592.6 L1217.9 591.4 L1218.5 592.4 L1219 592.1 L1219.6 592.3 L1220.2 592.1 L1220.8 592.7 L1221.5 592.9 L1222.1 593.9 L1222.8 595.3 L1223.4 595.6 L1224 595.8 L1224.6 595.3 L1225.2 595.4 L1225.8 595.8 L1226.4 595.4 L1227 595.4 L1227.5 595.2 L1228.1 595.5 L1228.7 594.4 L1229.3 594.7 L1229.9 594.4 L1230.5 594.9 L1231.1 594.5 L1231.7 595.6 L1232.3 594.9 L1232.9 595.1 L1233.5 595 L1234 595.8 L1234.6 595.2 L1235.2 596.1 L1235.8 595.4 L1236.4 595.8 L1237 594.9 L1237.7 594.2 L1238.3 594.5 L1238.9 593.2 L1239.5 592.7 L1240.1 592.6 L1240.7 593.3 L1241.3 593.1 L1241.8 593.2 L1242.4 593.6 L1243 593.5 L1243.6 593.6 L1244.2 592.6 L1244.8 593 L1245.4 593.6 L1245.9 593.8 L1246.5 593.8 L1247 593.7 L1247.6 593.4 L1248.2 593.6 L1248.7 593.9 L1249.3 594.3 L1249.9 594.9 L1250.4 595.6 L1251 596.3 L1251.5 595.9 L1252.1 596.1 L1252.6 596.1 L1253.2 596.8 L1253.8 597.2 L1254.4 597 L1254.9 597.2 L1255.5 596.9 L1256.1 596.8 L1256.7 596.4 L1257.3 596.3 L1257.8 596.1 L1258.4 596.4 L1259 596.2 L1259.6 596.8 L1260.1 596.9 L1260.7 597.3 L1261.3 596.4 L1261.8 597.3 L1262.4 596.7 L1263 597.8 L1263.5 597.5 L1264.1 597.8 L1264.7 597.9 L1265.2 598 L1265.8 597.3 L1266.3 597.5 L1266.9 596.9 L1267.4 597.6 L1268 597.5 L1268.6 597.5 L1269.1 596.7 L1269.7 596.4 L1270.2 596.5 L1270.8 596.8 L1271.3 597.1 L1271.9 596.8 L1272.5 596.7 L1273.1 595.7 L1273.6 595.6 L1274.2 595.5 L1274.8 595 L1275.4 595.2 L1276 594.6 L1276.6 594.5 L1277.1 594.8 L1277.7 593.8 L1278.3 593.6 L1278.9 593.2 L1279.5 593.4 L1280 594 L1280.6 593.6 L1281.2 593.3 L1281.8 593.9 L1282.3 594.1 L1282.9 594 L1283.5 593.2 L1284 593.5 L1284.6 593.2 L1285.2 592.7 L1285.7 592.5 L1286.3 591.8 L1286.8 591.4 L1287.4 591.7 L1288 591.7 L1288.6 590.9 L1289.1 590.6 L1289.7 590.2 L1290.3 590.1 L1290.9 590.1 L1291.4 589.5 L1292 590.2 L1292.6 589.4 L1293.2 588.9 L1293.9 589.1 L1294.5 590 L1295.1 589.3 L1295.8 589.7 L1296.4 590.4 L1297 590.6 L1297.5 590.3 L1298.1 591.2 L1298.6 592.1 L1299.2 591.8 L1299.7 592.7 L1300.3 593 L1300.9 593.6 L1301.4 592.8 L1302 593.4 L1302.5 592.6 L1303.1 592.7 L1303.6 592.4 L1304.2 592.7 L1304.8 593.6 L1305.5 594 L1306.2 594.8 L1306.8 595.6 L1307 600.7 L1307.6 600.5 L1308.2 599.8 L1308.8 600.1 L1309.5 599.2 L1310.1 599.6 L1310.7 599.1 L1311.3 599.1 L1311.9 598.8 L1312.6 598.7 L1313.2 598.9 L1313.9 598.9 L1314.5 599.1 L1315.2 598.8 L1315.8 598.5 L1316.3 598.2 L1316.9 598.2 L1317.5 597.6 L1318 597.1 L1318.6 596.9 L1319.1 597.2 L1319.7 596.8 L1320.3 597.2 L1320.9 596.9 L1321.4 596.9 L1322 596.3 L1322.6 596.8 L1323.2 596.9 L1323.8 596.1 L1324.4 596.2 L1324.9 596.5 L1325.5 596.7 L1326.1 596.2 L1326.7 595.6 L1327.2 595.3 L1327.8 594.3 L1328.3 594.3 L1328.9 593.6 L1329.4 593.2 L1330 593 L1330.6 593.1 L1331.1 592.2 L1331.7 592.6 L1332.2 591.4 L1332.8 592 L1333.3 591.4 L1333.9 591.7 L1334.5 591.3 L1335 591.8 L1335.6 592.3 L1336.1 592.5 L1336.7 592.1 L1337.2 592.3 L1337.8 592.3 L1338.4 592.8 L1338.9 591.6 L1339.5 592 L1340 593.2 L1340.6 592.8 L1341.1 593.3 L1341.7 593 L1342.3 592.8 L1342.8 592 L1343.4 592.2 L1344 592.5 L1344.5 591.5 L1345.1 591.7 L1345.6 590.5 L1346.2 590.6 L1346.8 590.4 L1347.4 590.5 L1348 591 L1348.6 590.9 L1349.2 590.8 L1349.8 591.4 L1350.3 590.8 L1350.9 591.3 L1351.5 590.9 L1352.1 591.8 L1352.7 591.3 L1353.3 591.4 L1353.8 591.2 L1354.4 592.1 L1355 591.4 L1355.5 591.7 L1356 592.2 L1356.6 591.2 L1357.2 591.2 L1357.7 590.8 L1358.2 591.3 L1358.8 591.5 L1359.3 591.9 L1359.9 592 L1360.5 591.5 L1361 591.9 L1361.6 591.2 L1362.1 591.3 L1362.7 592 L1363.2 591.9 L1363.8 591.6 L1364.3 591.8 L1364.9 591 L1365.5 591.2 L1366 590.5 L1366.6 591.1 L1367.2 591.6 L1367.7 590.7 L1368.3 590.8 L1368.8 590.6 L1369.4 590.8 L1370 591.8 L1370.6 590.7 L1371.1 590.9 L1371.7 589.7 L1372.3 589.9 L1372.8 589.1 L1373.4 589.5 L1374 588.5 L1374.6 588.4 L1375.1 587.8 L1375.7 587.5 L1376.3 587 L1376.9 586.4 L1377.5 586.1 L1378.1 586.8 L1378.7 586.7 L1379.2 586.1 L1379.8 585.7 L1380.4 586.3 L1381 585.2 L1381.6 585.5 L1382.2 585.1 L1382.8 585.2 L1383.4 585.6 L1383.9 585.1 L1384.5 585.1 L1385.1 585.3 L1385.6 584.1 L1386.2 584.9 L1386.8 584 L1387.3 584 L1387.9 584.2 L1388.5 584.2 L1389 584.7 L1389.6 584.4 L1390.2 583.8 L1390.7 584.4 L1391.3 584.1 L1391.9 585.4 L1392.4 585 L1393 585.8 L1393.5 586.3 L1394.1 587.5 L1394.7 588 L1395.2 588.2 L1395.8 587.4 L1396.3 587.9 L1396.9 587.4 L1397.4 586.5 L1398 586.8 L1398.5 588.1 L1399.1 587.2 L1399.7 587.3 L1400.2 587.2 L1400.8 587.6 L1401.3 587.2 L1401.9 587.2 L1402.4 587.1 L1403 587.2 L1403.5 587.5 L1404.1 587.5 L1404.7 587.8 L1405.2 587.2 L1405.8 588 L1406.4 586.8 L1406.9 587.3 L1407.5 586.2 L1408.1 587.7 L1408.6 586.6 L1409.2 586.4 L1409.8 586.6 L1410.3 586.4 L1410.9 586.1 L1411.5 586.7 L1412 585.8 L1412.6 586.1 L1413.2 585.5 L1413.7 585.1 L1414.3 585.3 L1414.9 584.9 L1415.4 585.3 L1416 584.5 L1416.6 584 L1417.1 584.1 L1417.7 584.6 L1418.3 585 L1418.8 584.7 L1419.4 583.6 L1420 583.9 L1420.5 582.9 L1421.1 583.2 L1421.7 583.5 L1422.3 582.7 L1422.9 581.5 L1423.5 581.4 L1424.1 581 L1424.7 581.2 L1425.2 581.1 L1425.8 579.8 L1426.4 580.4 L1427 579.9 L1427.6 579.7 L1428.2 579 L1428.8 579 L1429.4 577.6 L1430 577.9 L1430.6 576.1 L1431.2 575.2 L1431.8 574 L1432.4 574.5 L1433 573.4 L1433.6 573.3 L1434.2 572.7 L1434.8 571.3 L1435.4 572.4 L1436 572.2 L1436.6 571.6 L1437.2 571.9 L1437.8 571.6 L1438.4 571.8 L1439 571.8 L1439.6 571.9 L1440.2 572.9 L1440.8 572.2 L1441.4 573.8 L1442.1 573.7 L1442.7 573.7 L1443.3 573.3 L1444 571.4 L1444.6 569.9 L1445.3 567.6 L1445.9 568.1 L1446.4 566.2 L1447 565.1 L1447.5 564.5 L1448.1 565.3 L1448.7 563.6 L1449.3 561.5 L1449.9 560.8 L1450.6 559.9 L1451.2 560.1 L1451.8 557.8 L1452.4 556.2 L1453 554.4 L1453.6 553.4 L1454.1 551 L1454.7 547.7 L1455.3 543.7 L1456 542.8 L1456.6 538.6 L1457.2 539.3 L1457.8 541 L1458.3 540 L1458.9 540.9 L1459.5 542 L1460.1 544.4 L1460.6 545.8 L1461.2 545.7 L1461.7 547.9 L1462.3 549.1 L1462.9 547.5 L1463.5 549 L1464.2 547.7 L1464.8 547.7 L1465.4 546.2 L1466 546.3 L1466.6 545.8 L1467.1 541.9 L1467.7 541.7 L1468.3 537 L1468.8 536.1 L1469.4 533.5 L1470 530 L1470.5 527.1 L1471.1 524.2 L1471.7 520.8 L1472.2 516.2 L1472.8 513.6 L1473.4 512.6 L1474 512.7 L1474.5 510.5 L1475.1 504.6 L1475.7 505.1 L1476.3 503.6 L1476.8 501.6 L1477.4 497.8 L1478 492.3 L1478.7 498 L1479.4 506.5 L1480.1 510.8 L1480.7 512.6 L1481.4 515.1 L1482.1 510.9 L1482.9 509 L1483.6 506.5 L1484.2 501.9 L1484.8 499 L1485.3 498.9 L1485.9 495.2 L1486.6 490.7 L1487.2 487.7 L1487.9 486.6 L1488.5 489.3 L1489.1 487.9 L1489.8 490.1 L1490.4 491 L1491 491.6 L1491.6 490.9 L1492.2 492.2 L1492.8 497.4 L1493.5 496.6 L1494.1 500.9 L1494.7 498.3 L1495.2 492.4 L1495.8 491.5 L1496.4 485.2 L1497 485.1 L1497.6 480.5 L1498.2 479.7 L1498.9 479 L1499.5 477.2 L1500.1 478.1 L1500.8 473.2 L1501.4 472.3 L1502.1 471 L1502.7 466.7 L1503.2 465.7 L1503.8 462.5 L1504.4 456.8 L1505 459.3 L1505.7 463.7 L1506.3 466.8 L1506.9 473.9 L1507.5 479.1 L1508.1 478.2 L1508.6 480.5 L1509.2 483.8 L1509.8 479.7 L1510.3 477.2 L1510.9 469.4 L1511.5 468.2 L1512.2 465.7 L1512.8 459.6 L1513.5 454 L1514.1 451.4 L1514.8 447.4 L1515.4 446.4 L1516 442 L1516.6 449.9 L1517.1 449.5 L1517.7 455.4 L1518.4 465 L1519 471.3 L1519.7 476.7 L1520.6 499.4 L1521.2 505.2 L1521.7 507.5 L1522.3 512.2 L1522.9 503.9 L1523.4 501.6 L1524 493.8 L1524.6 495.8 L1525.1 500.7 L1525.7 505.1 L1526.4 501.3 L1527 494.3 L1527.7 489.5 L1528.4 495.3 L1529 497.8 L1529.7 502.3 L1530.3 501.7 L1530.8 500.1 L1531.4 499.2 L1531.9 500.4 L1532.5 498 L1533.1 499.6 L1533.7 504 L1534.2 505.6 L1534.8 508 L1535.3 509.6 L1535.9 514.7 L1536.5 516.5 L1537 522.2 L1537.6 519.3 L1538.2 520.1 L1538.7 520.1 L1539.3 516.5 L1539.9 516.6 L1540.4 514.2 L1541 510.1 L1541.6 510.2 L1542.2 512.3 L1542.8 509.5 L1543.5 513.2 L1544.1 514.1 L1544.7 512.2 L1545.3 511.1 L1545.9 511.4 L1546.4 515.7 L1547 514.9 L1547.6 517.9 L1548.2 519.5 L1548.7 522.6 L1549.3 523.8 L1549.9 523.3 L1550.4 524.3 L1551 527 L1551.5 526.4 L1552.1 520.9 L1552.7 516.8 L1553.2 515.1 L1553.8 512.7 L1554.4 507.8 L1554.9 503.5 L1555.5 503.6 L1556.1 499.4 L1556.8 498.9 L1557.4 499.8 L1558.1 498 L1558.6 493.7 L1559.2 493.4 L1559.8 488.8 L1560.3 483.8 L1560.8 479 L1561.4 479.4 L1562 478.5 L1562.6 476 L1563.1 474.2 L1563.7 473.2 L1564.3 470.9 L1564.9 470.5 L1565.4 469.9 L1566 469.7 L1566.5 469.4 L1567.1 465.2 L1567.7 464.7 L1568.2 464.4 L1568.8 468.7 L1569.3 469 L1569.9 466.6 L1570.5 466.5 L1571.1 464.4 L1571.6 460.8 L1572.2 459.9 L1572.8 456.7 L1573.5 452.5 L1574.1 449.8 L1574.8 448.2 L1575.4 456.6 L1575.9 460.7 L1576.5 465.2 L1577.1 467 L1577.6 464.1 L1578.2 462.8 L1578.7 461.8 L1579.3 462.4 L1580 463.5 L1580.6 470.3 L1581.3 473.8 L1582 477.4 L1582.6 483.9 L1583.3 486.5 L1583.9 484.1 L1584.4 481.7 L1585 480.7 L1585.5 481.7 L1586.1 478 L1586.7 476.8 L1587.2 469.7 L1587.8 466.5 L1588.4 459.5 L1589 459.3 L1589.6 457.4 L1590.1 450.7 L1590.7 451 L1591.3 448.5 L1591.8 447.7 L1592.4 450.9 L1592.9 446.7 L1593.5 446.8 L1594.2 443.1 L1594.8 441.6 L1595.5 436.8 L1596.2 432.4 L1596.8 431.2 L1597.5 428.3 L1598.1 427.5 L1598.6 431.6 L1599.2 435.2 L1599.7 436.9 L1600.3 435.4 L1600.9 429 L1601.4 426.9 L1602 425.2 L1602.6 422.6 L1603.3 417.8 L1603.9 419.7 L1604.6 416.9 L1605.2 413.3 L1605.7 411.3 L1606.3 408.4 L1607 412.2 L1607.6 416.8 L1608.2 415.6 L1608.9 415.5 L1609.6 423.4 L1610.4 431.8 L1611.1 436.8 L1611.7 436.3 L1612.2 431.7 L1612.8 432.1 L1613.4 426.9 L1614.1 434.9 L1614.7 435.4 L1615.4 438.2 L1616 435.6 L1616.6 430.5 L1617.1 431.2 L1617.7 429.7 L1618.4 433.3 L1619 441.5 L1619.7 445.3 L1620.3 444.9 L1620.8 448.8 L1621.4 454.7 L1621.9 451.6 L1622.5 452.4 L1623.2 455.4 L1623.8 457 L1624.5 459.5 L1625.1 455.5 L1625.7 453.4 L1626.4 454.8 L1627 455.5 L1627.6 452.4 L1628.3 451.8 L1628.9 447.1 L1629.6 443.9 L1630.3 449.8 L1630.9 452.3 L1631.6 455.3 L1632.2 457.2 L1632.8 456.1 L1633.3 449.9 L1633.9 453.9 L1634.6 456.1 L1635.4 459.4 L1636.1 465.2 L1636.8 469.3 L1637.4 473.2 L1638.1 472.3 L1638.7 472.5 L1639.2 467.6 L1639.8 466.3 L1640.4 465.2 L1641.1 469.7 L1641.7 472.1 L1642.4 478 L1643 485.9 L1643.5 491.9 L1644.1 496.5 L1644.7 493.3 L1645.3 494.3 L1646 493.8 L1646.6 492.2 L1647.2 491 L1647.8 485.9 L1648.3 485.1 L1648.9 480.6 L1649.5 479.4 L1650.1 480.5 L1650.6 476.5 L1651.2 471.2 L1651.7 472.4 L1652.3 470.3 L1652.9 474.1 L1653.5 473.9 L1654 471.4 L1654.6 473.2 L1655.2 472.3 L1655.9 477.8 L1656.5 477.3 L1657.2 483.7 L1657.8 484.4 L1658.3 491.1 L1658.9 493.1 L1659.5 489.6 L1660 487 L1660.6 483.8 L1661.1 477.9 L1661.7 478 L1662.4 480.3 L1663 484.9 L1663.7 489.4 L1664.4 487.5 L1665 485.9 L1665.7 485.1 L1666.3 485.5 L1666.8 487.2 L1667.4 491.4 L1668 490.8 L1668.5 488.6 L1669.1 488.1 L1669.7 482.2 L1670.2 482.3 L1670.8 479.2 L1671.5 478.3 L1672.2 476.1 L1672.8 476.6 L1673.4 476.7 L1673.9 469.8 L1674.5 468.6 L1675.1 468.1 L1675.7 468.4 L1676.4 462.9 L1677 462.4 L1677.6 459 L1678.2 462.8 L1678.7 461.4 L1679.3 461 L1679.9 462.6 L1680.4 462.5 L1681 469.5 L1681.6 470.9 L1682.3 472.6 L1682.9 477.7 L1683.6 480.9 L1684.2 478.6 L1684.7 478.6 L1685.3 478.7 L1685.8 476.1 L1686.4 478 L1687 481.9 L1687.6 479 L1688.1 480.4 L1688.7 483.4 L1689.3 483.7 L1689.9 483.8 L1690.6 486.6 L1691.2 489.4 L1691.8 491.5 L1692.4 488 L1692.9 486 L1693.5 487.3 L1694.1 486.5 L1694.7 490 L1695.2 496.8 L1695.8 497.9 L1696.5 503.5 L1697.1 510.6 L1697.8 519.2 L1698.5 522.4 L1699.2 523.5 L1699.8 524.7 L1700.3 522.3 L1700.9 520.5 L1701.4 519.4 L1702 520.6 L1702.6 522.3 L1703.2 522.8 L1703.7 523.6 L1704.3 525.3 L1704.9 524.9 L1705.5 522.1 L1706 522.8 L1706.6 522.5 L1707.1 521.8 L1707.7 519.8 L1708.3 519.3 L1708.8 521.7 L1709.4 519.1 L1710 522.8 L1710.5 522.5 L1711.1 523.5 L1711.7 527.5 L1712.2 529.9 L1712.8 532.5 L1713.4 533.4 L1714.1 539.3 L1714.8 543.4 L1715.5 545.4 L1716.1 547.4 L1716.8 550.5 L1717.4 549.3 L1718 547.5 L1718.5 546.8 L1719.1 545.6 L1719.7 544.8 L1720.3 544.9 L1720.8 546.1 L1721.4 548.4 L1721.9 548.6 L1722.5 549 L1723.1 549.1 L1723.6 546.8 L1724.2 545.8 L1724.7 546.5 L1725.3 544.8 L1725.9 546 L1726.5 545.4 L1727 545.5 L1727.6 547.4 L1728.2 547.6 L1728.8 545.3 L1729.3 544.8 L1729.9 543.1 L1730.4 541.5 L1731 539.1 L1731.6 537.9 L1732.2 537.9 L1732.7 540.5 L1733.3 541.9 L1733.9 540.5 L1734.5 538.9 L1735 537.1 L1735.6 538.3 L1736.1 535.7 L1736.7 534.8 L1737.3 534.7 L1737.8 536.5 L1738.4 537.1 L1738.9 535.5 L1739.5 535.7 L1740.1 536.2 L1740.7 532.4 L1741.2 534 L1741.8 532.3 L1742.4 532 L1743 533.2 L1743.5 530.5 L1744.1 531 L1744.6 531.5 L1745.2 530 L1745.8 531.1 L1746.3 532.4 L1746.9 533.8 L1747.5 536.2 L1748.1 535.5 L1748.6 538.4 L1749.2 538.9 L1749.7 538.7 L1750.3 540.5 L1751 541.6 L1751.6 541.9 L1752.2 544.4 L1752.9 545 L1753.5 543.9 L1754.1 544.1 L1754.6 541.4 L1755.2 542.1 L1755.8 541.1 L1756.5 540.2 L1757.1 537.8 L1757.8 537.3 L1758.4 538 L1759.1 536.2 L1759.9 540.4 L1760.7 543 L1761.3 544.6 L1762 544.3 L1762.6 543.6 L1763.2 547.2 L1763.9 547.7 L1764.5 547.9 L1765.1 548.7 L1765.7 545.9 L1766.2 545.9 L1766.8 546.7 L1767.4 545.3 L1768 544.8 L1768.6 544.2 L1769.1 545.2 L1769.7 545.5 L1770.3 544 L1770.9 543.9 L1771.4 542.6 L1772 542.8 L1772.5 544.3 L1773.1 544.7 L1773.6 546 L1774.2 546.3 L1774.8 545.8 L1775.4 546.8 L1776 547.6 L1776.7 547.2 L1777.3 545.8 L1777.9 546.9 L1778.5 545.6 L1779.1 546.9 L1779.7 545.8 L1780.3 544.8 L1780.8 542.9 L1781.4 543.1 L1782 541.1 L1782.6 540.2 L1783.2 540 L1783.8 538.6 L1784.4 539.7 L1785 538.1 L1785.6 538.5 L1786.2 537.2 L1786.9 539.4 L1787.5 540.3 L1788.2 541.1 L1788.8 554.7 L1789.4 553 L1790 554.2 L1790.5 553.3 L1791.1 551.7 L1791.7 551.7 L1792.3 552.6 L1792.9 552.7 L1793.4 553.3 L1794 554.2 L1794.6 555.6 L1795.2 554.6 L1795.8 553.6 L1796.4 554.1 L1797 552.2 L1797.6 552.7 L1798.2 552.8 L1798.8 550.8 L1799.4 550.8 L1800 551.7 L1800.5 551.7 L1801.1 550.9 L1801.6 552.7 L1802.2 550.9 L1802.7 550.6 L1803.3 551.7 L1803.9 553 L1804.5 551.2 L1805.2 550.5 L1805.8 550.4 L1806.4 552.3 L1807 553.9 L1807.6 554.7 L1808.2 555.6 L1808.8 555.1 L1809.3 554.7 L1809.9 555.5 L1810.5 554.6 L1811.1 553.5 L1811.7 554.2 L1812.3 554.4 L1812.8 556.1 L1813.4 556.4 L1814 555.6 L1814.6 555.3 L1815.2 554.9 L1815.8 556.1 L1816.4 554.2 L1817 554.6 L1817.6 553.4 L1818.2 552.7 L1818.8 549.7 L1819.5 548.4 L1820.1 545.9 L1820.7 543 L1821.3 543.5 L1821.8 542.1 L1822.4 540.7 L1822.9 540.9 L1823.5 539.2 L1824 539.5 L1824.6 539.1 L1825.2 538.7 L1825.7 538.4 L1826.3 538.9 L1826.8 536.3 L1827.4 537.4 L1827.9 536.3 L1828.5 536.2 L1829.1 535.1 L1829.7 536.4 L1830.3 537.2 L1830.9 536.2 L1831.5 536.2 L1832.1 534.2 L1832.7 535.2 L1833.3 535.3 L1833.9 536.6 L1834.5 536.9 L1835.1 538.9 L1835.7 540.1 L1836.3 539.3 L1836.9 537.2 L1837.6 534.4 L1838.2 533.6 L1838.8 532.4 L1839.5 534.3 L1840.1 535.2 L1840.8 535 L1841.4 534.3 L1842.1 535.3 L1842.7 534.6 L1843.3 533.8 L1843.8 535.7 L1844.4 533.9 L1845 535.3 L1845.6 536.6 L1846.2 537.1 L1846.7 538.8 L1847.3 541.6 L1847.9 542.1 L1848.6 544 L1849.2 545 L1850 538.3 L1850.8 535.3 L1851.4 534.6 L1852 532.4 L1852.5 531.9 L1853.1 530.3 L1853.7 529.5 L1854.3 530.2 L1854.8 529.6 L1855.4 529.5 L1855.9 528.7 L1856.5 530.9 L1857 531 L1857.6 530.4 L1858.2 529 L1858.8 528.5 L1859.4 527.9 L1860 528.3 L1860.6 528.6 L1861.2 529.5 L1861.8 527.5 L1862.4 528.5 L1863 525.5 L1863.6 524.6 L1864.1 526.5 L1864.7 524.6 L1865.3 523.7 L1866 523.9 L1866.6 524 L1867.2 522.1 L1867.8 523.4 L1868.4 526.8 L1869 527.8 L1869.6 530.4 L1870.1 530.9 L1870.7 530 L1871.2 528.8 L1871.8 529.2 L1872.3 529.4 L1872.9 528.7 L1873.5 527.9 L1874 527.5 L1874.6 526.4 L1875.2 528.8 L1875.7 526.6 L1876.3 528.1 L1876.9 527.1 L1877.6 528.4 L1878.2 528.3 L1878.9 531.2 L1879.5 531.6 L1880.2 532.4 L1880.8 533 L1881.3 531.8 L1881.9 532.1 L1882.4 530.5 L1883 531.6 L1883.5 532.2 L1884 533.7 L1884.6 532.9 L1885.2 533.5 L1885.7 532.4 L1886.3 531.9 L1886.8 529.3 L1887.4 530 L1888 529.8 L1888.5 528.8 L1889.1 529.8 L1889.7 531.2 L1890.2 530.6 L1890.8 531.8 L1891.3 533.4 L1891.9 533 L1892.4 532.4 L1893 532.1 L1893.6 533.6 L1894.2 534.8 L1894.9 537.5 L1895.5 536.5 L1896.1 538.7 L1896.7 540.1 L1897.3 540.1 L1898 536.9 L1898.6 533.5 L1899.2 533.3 L1899.9 533.1 L1900.5 530.4 L1901.2 529.1 L1901.8 527.6 L1902.5 528.2 L1903.1 529.3 L1903.7 527 L1904.4 527.1 L1905 527.5 L1905.6 526.2 L1906.2 525.9 L1906.7 526.4 L1907.3 527.4 L1907.9 529.5 L1908.5 528.6 L1909.1 526.6 L1909.7 525.6 L1910.3 524.7 L1910.9 524.6 L1911.5 525.4 L1912.1 527.8 L1912.6 524.8 L1913.2 527.6 L1913.8 527.9 L1914.4 527.4 L1915 527.2 L1915.6 527.4 L1916.2 527.7 L1916.8 528.5 L1917.4 528.7 L1918 527.3 L1918.6 528.5 L1919.2 528.4 L1919.7 529.3 L1920.3 528.3 L1920.8 528.9 L1921.4 531.6 L1921.9 531.7 L1922.5 529.8 L1923.1 530.5 L1923.7 528.6 L1924.3 530.8 L1924.9 530.7 L1925.5 530.4 L1926.1 528.1 L1926.7 529.1 L1927.5 532.4 L1928.3 537.2 L1928.9 537.8 L1929.4 537.1 L1930 536.1 L1930.5 537.4 L1931.1 535.5 L1931.6 536.9 L1932.2 537.2 L1932.8 536 L1933.3 536.7 L1933.9 535 L1934.5 534.3 L1935.1 535.4 L1935.8 537.2 L1936.4 538.4 L1937 538.2 L1937.6 538.8 L1938.1 539 L1938.7 540.9 L1939.2 541.9 L1939.8 540.4 L1940.3 540.8 L1940.9 540.7 L1941.5 539.2 L1942.1 540.2 L1942.6 539.2 L1943.2 536 L1943.8 536.2 L1944.4 535.6 L1944.9 535.2 L1945.5 536.8 L1946 537.2 L1946.6 537.6 L1947.1 536.3 L1947.7 537.6 L1948.3 535.4 L1948.9 535.7 L1949.5 535.8 L1950 532.8 L1950.6 533.7 L1951.2 533.7 L1951.8 532.5 L1952.3 534.6 L1952.9 535.3 L1953.5 536.2 L1954.1 535.7 L1954.7 536.9 L1955.2 539.5 L1955.8 538.6 L1956.4 538.1 L1957 538.2 L1957.7 538.3 L1958.3 538 L1959 535.6 L1959.6 534.4 L1960.3 534.3 L1960.9 531.3 L1961.6 528.6 L1962.2 524.6 L1962.8 524.6 L1963.3 525.6 L1963.9 523.5 L1964.4 523.7 L1965 521.9 L1965.5 523.8 L1966.1 521.7 L1966.7 521.7 L1967.3 522.1 L1967.8 519.7 L1968.4 518.4 L1969 517.8 L1969.6 515.9 L1970.3 513.8 L1970.9 513 L1971.5 515.1 L1972.1 511.8 L1972.6 513.2 L1973.2 516.8 L1973.8 514.9 L1974.4 516.1 L1975 514.3 L1975.5 515.3 L1976.1 515.4 L1976.7 515.9 L1977.3 514.5 L1977.9 515.3 L1978.5 514.3 L1979.1 513.2 L1979.7 512 L1980.3 510.1 L1981 510 L1981.6 510.1 L1982.2 505.1 L1982.9 499.4 L1983.6 498.5 L1984.2 497 L1984.9 496.5 L1985.5 495.3 L1986.2 495.8 L1986.8 501 L1987.4 501.4 L1988 503.4 L1988.6 502.4 L1989.1 499.5 L1989.7 499.7 L1990.3 500.4 L1990.9 496.8 L1991.6 496.2 L1992.2 494.6 L1992.8 494 L1993.3 494.6 L1993.9 494.8 L1994.4 493.6 L1995 496.4 L1995.5 492.1 L1996.1 493.6 L1996.7 495.1 L1997.3 495.9 L1997.8 496.7 L1998.4 494.7 L1999 494.6 L1999.7 491.8 L2000.3 492.2 L2000.9 489.6 L2001.6 487.8 L2002.2 492.6 L2002.9 494.6 L2003.5 495.5 L2004.1 494.3 L2004.6 495.8 L2005.2 497.4 L2005.8 494.6 L2006.5 497.3 L2007.1 500.3 L2007.8 502.3 L2008.4 503.5 L2009 498.8 L2009.5 497.9 L2010.1 497 L2010.7 497.5 L2011.3 498.8 L2012 496.3 L2012.6 497 L2013.2 496.9 L2013.9 496.7 L2014.5 496.5 L2015.2 495.5 L2015.8 490.5 L2016.5 486.8 L2017.1 482.4 L2017.8 480.2 L2018.4 475.2 L2019.1 474.4 L2019.7 476.5 L2020.4 471.1 L2021 474.8 L2021.7 472.4 L2022.3 473.7 L2022.8 472.6 L2023.4 473.5 L2024 464.5 L2024.6 456.2 L2025.2 450.1 L2025.8 445.1 L2026.3 444.7 L2026.9 442.2 L2027.5 438.4 L2028.1 433.4 L2028.7 436 L2029.3 430.2 L2030 428 L2030.7 422 L2031.6 430.2 L2032.2 432.1 L2032.8 437.8 L2033.3 437.6 L2033.9 445.5 L2034.5 448.5 L2035.1 449 L2035.7 447.1 L2036.3 449.6 L2036.9 444.4 L2037.5 440.8 L2038.1 440.1 L2038.6 432.8 L2039.2 430.2 L2039.8 427.8 L2040.4 426.7 L2041 431.8 L2041.6 433.4 L2042.2 438.4 L2042.8 438.3 L2043.4 436 L2043.9 432.6 L2044.5 429.7 L2045.1 430.2 L2045.7 437.1 L2046.2 442.1 L2046.8 449 L2047.4 448.5 L2048 449.8 L2048.6 452.9 L2049.2 453.4 L2049.8 454.8 L2050.4 448.7 L2050.9 449.5 L2051.5 443.2 L2052.1 440.2 L2052.7 440 L2053.2 443.9 L2053.8 447.4 L2054.4 447.8 L2055 451.5 L2055.6 450.9 L2056.2 453 L2056.8 457.7 L2057.4 453 L2057.9 448.9 L2058.5 446.6 L2059.1 451.2 L2059.7 451.9 L2060.3 454.8 L2060.9 457.9 L2061.5 455.3 L2062 454.2 L2062.6 451.6 L2063.2 453.6 L2063.8 451.3 L2064.4 444.4 L2065 441.9 L2065.6 440.1 L2066.2 438.9 L2066.7 433.6 L2067.3 430.2 L2067.9 428.6 L2068.5 429.8 L2069.1 424.6 L2069.7 422.5 L2070.3 422 L2070.9 422.8 L2071.4 428.6 L2072 427.1 L2072.6 426.7 L2073.2 426.7 L2073.8 432.6 L2074.3 431.7 L2074.9 431.4 L2075.5 431.2 L2076.1 439 L2076.7 439 L2077.3 437.8 L2077.9 440.1 L2078.5 439 L2079.1 441.7 L2079.6 439.9 L2080.2 442.8 L2080.8 444.9 L2081.4 446.1 L2082 451.2 L2082.5 453 L2083.1 450.8 L2083.7 454.8 L2084.3 453.1 L2084.9 452.1 L2085.5 452.7 L2086.1 450.7 L2086.7 450.1 L2087.3 455.3 L2087.8 457.1 L2088.4 460.7 L2089 461.7 L2089.6 465.1 L2090.2 468.3 L2090.8 469.1 L2091.3 463.6 L2091.9 460.6 L2092.5 461.8 L2093.1 457.9 L2093.7 451 L2094.3 446.6 L2094.9 445 L2095.5 444 L2096 437.5 L2096.6 440.7 L2097.2 437.8 L2097.8 442 L2098.3 441.2 L2098.9 443.1 L2099.5 445.4 L2100.1 443.4 L2100.7 442.7 L2101.3 443.1 L2101.9 446.7 L2102.4 448.3 L2103 453.6 L2103.6 460.2 L2104.2 467.4 L2104.8 478.2 L2105.4 473.3 L2106 467.5 L2106.6 461.8 L2107.2 464.2 L2107.8 464.8 L2108.3 464.8 L2108.9 469 L2109.5 468.3 L2110.1 467.5 L2110.7 463 L2111.2 464.2 L2111.8 461.8 L2112.4 457.4 L2113 458.2 L2113.6 453.6 L2114.2 455 L2114.7 458.3 L2115.3 459.5 L2115.9 462.5 L2116.5 464.9 L2117.1 466.5 L2117.7 469.2 L2118.3 468.8 L2118.9 468.9 L2119.5 470.9 L2120 474.8 L2120.6 478.8 L2121.2 475.6 L2121.8 473.3 L2122.3 471.9 L2122.9 469.4 L2123.5 465.4 L2124.1 463.9 L2124.7 466.7 L2125.3 466 L2125.9 469.4 L2126.5 467 L2127.1 465 L2127.6 462.4 L2128.2 458.3 L2128.8 455.3 L2129.4 456 L2129.9 452.6 L2130.5 450.8 L2131.1 450.1 L2131.7 451.8 L2132.3 457.6 L2132.9 461.2 L2133.5 464.2 L2134.1 463.9 L2134.7 458.4 L2135.2 460.3 L2135.8 460.7 L2136.4 463.2 L2137 462.2 L2137.6 463.6 L2138.2 462.2 L2138.8 456.7 L2139.3 458.3 L2139.9 451.3 L2140.5 447.7 L2141.1 445 L2141.7 448.4 L2142.3 445.4 L2142.9 448.2 L2143.5 444.5 L2144 449.7 L2144.6 449.8 L2145.2 454.2 L2145.8 447.5 L2146.4 443.3 L2147 441.9 L2147.6 444.1 L2148.2 446.3 L2148.7 450.8 L2149.3 453.6 L2149.9 453.6 L2150.5 447.4 L2151.1 438.4 L2152.2 430.2 L2152.8 422.2 L2153.4 418 L2154 406.8 L2154.6 403.3 L2155.2 401.7 L2155.8 392.2 L2156.3 384.8 L2156.9 379.9 L2157.5 377.1 L2158.1 377.4 L2158.7 373 L2159.2 373.9 L2159.8 368.9 L2160.4 365.8 L2161 364.1 L2161.6 362.7 L2162.2 365.3 L2162.7 368.1 L2163.3 376.1 L2163.9 374 L2164.5 367.8 L2165.1 368.1 L2165.7 366.1 L2166.2 367.1 L2166.8 363.5 L2167.4 356.5 L2168 353.6 L2168.6 359.4 L2169.2 355 L2169.8 354.7 L2170.4 347.4 L2171 349.4 L2171.6 348.5 L2172.2 357.1 L2172.8 356.6 L2173.3 358 L2173.9 360 L2174.5 358.8 L2175.1 363.2 L2175.7 365 L2176.2 363.8 L2176.8 363.8 L2177.4 369.7 L2178 370.5 L2178.6 371.4 L2179.2 378.6 L2179.8 374 L2180.3 380.4 L2180.9 374.6 L2181.5 379.5 L2182.1 382.3 L2182.7 379.9 L2183.3 375.2 L2183.9 378.1 L2184.5 374.3 L2185.1 381.7 L2185.6 374.3 L2186.2 379.8 L2186.8 374.3 L2187.4 376.4 L2188 381.1 L2188.6 376.2 L2189.1 380.7 L2189.7 380.8 L2190.3 383.4 L2190.8 383.1 L2191.4 383.9 L2192 385.7 L2192.6 386.2 L2193.2 385.1 L2193.8 389.9 L2194.3 387.8 L2194.9 391.9 L2195.5 395.1 L2196.1 393 L2196.7 393.9 L2197.3 393.7 L2197.9 394.3 L2198.5 393.3 L2199.1 393.9 L2199.6 400.7 L2200.2 404.1 L2200.8 405 L2201.4 403.3 L2202 405.7 L2202.6 404.5 L2203.2 407.8 L2203.8 404.5 L2204.3 410.9 L2204.9 408.2 L2205.5 407.7 L2206.1 411.5 L2206.7 413.8 L2207.3 414.8 L2207.9 413.2 L2208.4 415.4 L2209 414.5 L2209.6 414.9 L2210.2 412.7 L2210.8 414 L2211.5 420 L2212.1 424.8 L2212.6 431.2 L2213.2 436.8 L2213.8 430 L2214.4 424.2 L2215 420 L2215.8 415.3 L2216.6 412.7 L2217.2 412.9 L2217.8 410.1 L2218.3 409.9 L2218.9 406.4 L2219.5 414.2 L2220.1 410.3 L2220.7 410.2 L2221.3 407.3 L2221.9 415.6 L2222.5 411 L2223.1 413.8 L2223.8 422.2 L2224.5 425 L2225.1 428.4 L2225.6 434.3 L2226.2 440.5 L2226.7 441.8 L2227.3 446 L2227.9 444.6 L2228.5 436.7 L2229.1 434.9 L2229.7 430.2 L2230.3 427.5 L2230.9 422.9 L2231.5 420 L2232.2 422.3 L2232.8 414.9 L2233.5 414.8 L2234.2 412.7 L2234.8 414.1 L2235.4 407.9 L2235.9 407.1 L2236.5 406.5 L2237.1 408.9 L2237.7 405.6 L2238.3 404.2 L2238.9 403 L2239.4 398.3 L2240 394.2 L2240.6 395 L2241.2 391.6 L2241.8 388.1 L2242.4 382 L2242.9 380.5 L2243.5 381.3 L2244.1 379.6 L2244.7 376.4 L2245.3 375.2 L2245.9 374.6 L2246.5 367.4 L2247.1 372.1 L2247.6 363.8 L2248.2 362.6 L2248.8 364 L2249.4 364.6 L2250 362.9 L2250.6 361.5 L2251.2 365.9 L2251.8 363.8 L2252.3 361.6 L2252.9 358.1 L2253.5 353 L2254.1 354.1 L2254.7 357.5 L2255.3 355.9 L2255.8 355.4 L2256.4 352.3 L2257 358.6 L2257.6 358.8 L2258.2 352.8 L2258.8 356.1 L2259.3 350.4 L2259.9 353.4 L2260.5 348.8 L2261.1 349.4 L2261.7 345.8 L2262.3 344.2 L2262.9 349 L2263.4 349.7 L2264 341.4 L2264.6 338.2 L2265.2 340.7 L2265.8 340.1 L2266.4 342.6 L2267 339.7 L2267.6 347.8 L2268.1 339.7 L2268.7 343.2 L2269.3 344.7 L2269.9 340.6 L2270.5 342.4 L2271.1 342.3 L2271.7 337 L2272.2 344.9 L2272.8 340.7 L2273.4 334.3 L2274 335.4 L2274.6 338.2 L2275.2 331.6 L2275.8 326.8 L2276.3 334.6 L2276.9 326.8 L2277.5 330.7 L2278.1 334.8 L2278.7 332.1 L2279.3 334.7 L2279.9 338.9 L2280.5 338.4 L2281.1 343 L2281.7 348.1 L2282.3 350 L2282.9 352.9 L2283.5 348.6 L2284.1 353.4 L2284.7 354.4 L2285.3 363.1 L2285.9 359.7 L2286.5 365.6 L2287.1 363.2 L2287.8 350.9 L2288.4 348.1 L2289 343.3 L2289.7 335.9 L2290.3 336.5 L2291 335 L2291.6 341.4 L2292.3 344.3 L2293.3 354 L2293.9 349.4 L2294.4 344.1 L2295 346.5 L2295.6 338.4 L2296.2 347.4 L2296.9 347.4 L2297.5 348.1 L2298.2 353 L2298.8 350.8 L2299.5 356.9 L2300.1 357.6 L2300.8 351.4 L2301.4 348.8 L2302 352 L2302.6 352.5 L2303.3 351.1 L2303.9 342.3 L2304.6 335.5 L2305.2 339.8 L2305.9 334.6 L2306.5 332.4 L2307.1 335.2 L2307.6 335.5 L2308.2 330.9 L2308.8 333.6 L2309.4 340.2 L2310.1 342.4 L2310.7 346.2 L2311.3 350 L2312 358.4 L2312.6 357.8 L2313.3 350.3 L2313.9 347.6 L2314.6 338.4 L2315.2 333.1 L2315.9 324.5 L2316.5 323.9 L2317.3 321.4 L2318.1 322.9 L2318.7 326.7 L2319.2 328.4 L2319.8 328.8 L2320.8 348.1 L2321.4 354.1 L2322.1 361.5 L2322.7 365.6 L2323.4 357.4 L2324 360.1 L2324.7 355.9 L2325.4 362.1 L2326.2 361.7 L2327 353 L2327.8 348.1 L2328.4 348 L2329.1 354 L2329.7 361.7 L2330.3 362.3 L2331 357.8 L2331.7 368 L2332.4 381.1 L2333 381.1 L2333.7 374.8 L2334.3 374.4 L2334.9 367.5 L2335.6 376.7 L2336.2 382.2 L2336.9 386.9 L2337.5 393.1 L2338.2 397.1 L2338.8 398.5 L2339.4 403.7 L2340.1 411.1 L2340.7 413.1 L2341.3 412.9 L2342 406.8 L2342.7 401.9 L2343.3 398.5 L2343.9 403.2 L2344.6 410.2 L2345.3 406.3 L2345.9 400.3 L2346.6 395.6 L2347.2 398.1 L2347.8 391.5 L2348.5 393.9 L2349.1 394.7 L2349.7 394.2 L2350.2 394.6 L2350.8 404 L2351.4 402.4 L2352 405.1 L2352.6 408.3 L2353.1 413.8 L2353.7 414 L2354.4 414.7 L2355 407.9 L2355.7 406.3 L2356.3 404.8 L2356.9 404.7 L2357.6 411.3 L2358.2 409.2 L2358.8 407.8 L2359.5 403.7 L2360.1 406.3 L2360.7 399.9 L2361.3 399.9 L2361.9 399.5 L2362 611 L64 611 Z" fill="url(#ga)" clip-path="url(#plot)"/>
<text x="2201" y="563" font-family="Liberation Sans, sans-serif" font-weight="700" font-size="30" letter-spacing="-.8" fill="#7f8587">coingecko</text>
<rect x="2318" y="214" width="2" height="424" fill="#000" fill-opacity=".22"/>
<rect x="2318" y="638" width="2" height="33" fill="#dfe2e6"/>
<circle cx="2318" cy="324.500" r="20" fill="#089f3a" fill-opacity=".21"/>
<path clip-path="url(#plot)" d="M64 609.95 L64.6 609.9 L65.1 609.9 L65.7 609.9 L66.2 609.9 L66.8 609.9 L67.3 609.9 L67.9 609.9 L68.4 609.9 L69 609.9 L69.5 609.9 L70.1 609.9 L70.6 609.9 L71.2 609.9 L71.7 609.9 L72.3 609.9 L72.8 609.9 L73.4 609.9 L73.9 609.9 L74.5 609.9 L75 609.9 L75.6 609.9 L76.1 609.9 L76.7 609.9 L77.2 609.9 L77.8 609.9 L78.3 609.9 L78.9 609.9 L79.4 609.9 L80 609.9 L80.5 609.9 L81.1 609.9 L81.6 609.9 L82.2 609.9 L82.7 609.9 L83.3 609.9 L83.8 609.9 L84.4 609.9 L84.9 609.9 L85.5 609.9 L86.1 609.9 L86.6 609.8 L87.2 609.9 L87.7 609.8 L88.3 609.9 L88.8 609.9 L89.4 609.9 L89.9 609.9 L90.5 609.9 L91 609.9 L91.6 609.9 L92.1 609.9 L92.7 609.9 L93.2 609.9 L93.8 609.9 L94.3 609.9 L94.9 609.9 L95.4 609.9 L96 609.9 L96.5 609.9 L97.1 609.9 L97.6 609.9 L98.2 609.9 L98.7 609.8 L99.3 609.8 L99.8 609.8 L100.4 609.8 L100.9 609.8 L101.5 609.9 L102 609.8 L102.6 609.9 L103.1 609.8 L103.7 609.9 L104.2 609.9 L104.8 609.8 L105.3 609.9 L105.9 609.9 L106.4 609.9 L107 609.9 L107.6 609.8 L108.1 609.9 L108.7 609.9 L109.2 609.9 L109.8 609.9 L110.3 609.9 L110.9 609.9 L111.4 609.9 L112 609.9 L112.5 609.9 L113.1 609.9 L113.6 609.8 L114.2 609.9 L114.7 609.9 L115.3 609.9 L115.8 609.9 L116.4 609.9 L116.9 609.9 L117.5 609.9 L118 609.9 L118.6 609.9 L119.1 609.9 L119.7 609.9 L120.2 609.9 L120.8 609.9 L121.3 609.9 L121.9 609.9 L122.4 609.9 L123 609.9 L123.5 609.9 L124.1 609.9 L124.6 609.9 L125.2 609.9 L125.7 609.9 L126.3 609.9 L126.8 609.8 L127.4 609.9 L127.9 609.9 L128.5 609.9 L129.1 609.9 L129.6 609.9 L130.2 609.9 L130.7 609.9 L131.3 609.9 L131.8 609.9 L132.4 609.9 L132.9 609.9 L133.5 609.9 L134 609.9 L134.6 609.9 L135.1 609.9 L135.7 609.9 L136.2 609.9 L136.8 609.9 L137.3 609.9 L137.9 609.9 L138.4 609.9 L139 609.9 L139.5 609.9 L140.1 609.9 L140.6 609.9 L141.2 609.9 L141.7 609.9 L142.3 609.9 L142.8 609.9 L143.4 609.9 L143.9 609.9 L144.5 609.9 L145 609.9 L145.6 609.9 L146.1 609.9 L146.7 609.9 L147.2 609.9 L147.8 609.9 L148.3 609.9 L148.9 609.9 L149.4 609.9 L150 609.95 L150.6 609.9 L151.1 609.9 L151.7 609.9 L152.2 609.9 L152.8 609.8 L153.3 609.9 L153.8 609.8 L154.4 609.9 L154.9 609.9 L155.5 609.9 L156.1 609.8 L156.6 609.8 L157.2 609.7 L157.7 609.9 L158.2 609.8 L158.8 609.9 L159.3 609.8 L159.9 609.7 L160.4 609.8 L161 609.8 L161.6 609.8 L162.1 609.8 L162.7 609.7 L163.2 609.7 L163.8 609.8 L164.3 609.6 L164.8 609.6 L165.4 609.6 L165.9 609.6 L166.5 609.6 L167.1 609.6 L167.6 609.6 L168.2 609.6 L168.7 609.5 L169.2 609.7 L169.8 609.6 L170.3 609.6 L170.9 609.6 L171.4 609.7 L172 609.6 L172.6 609.6 L173.1 609.7 L173.7 609.7 L174.2 609.6 L174.8 609.6 L175.4 609.5 L175.9 609.6 L176.5 609.5 L177 609.7 L177.6 609.7 L178.2 609.6 L178.7 609.6 L179.3 609.6 L179.8 609.7 L180.4 609.7 L181 609.7 L181.5 609.6 L182.1 609.6 L182.6 609.6 L183.2 609.6 L183.8 609.5 L184.3 609.6 L184.9 609.5 L185.4 609.6 L186 609.7 L186.6 609.7 L187.1 609.8 L187.7 609.7 L188.2 609.7 L188.8 609.8 L189.4 609.8 L189.9 609.8 L190.5 609.8 L191 609.7 L191.6 609.8 L192.2 609.8 L192.7 609.8 L193.3 609.8 L193.8 609.7 L194.4 609.7 L195 609.8 L195.5 609.8 L196.1 609.8 L196.6 609.7 L197.2 609.8 L197.8 609.8 L198.3 609.7 L198.9 609.7 L199.4 609.7 L200 609.8 L200.6 609.7 L201.1 609.9 L201.7 609.8 L202.2 609.8 L202.8 609.8 L203.3 609.7 L203.9 609.8 L204.4 609.8 L205 609.7 L205.5 609.8 L206.1 609.8 L206.6 609.8 L207.2 609.8 L207.7 609.7 L208.3 609.8 L208.8 609.9 L209.4 609.8 L209.9 609.9 L210.5 609.8 L211 609.9 L211.6 609.8 L212.2 609.8 L212.7 609.7 L213.3 609.8 L213.8 609.9 L214.4 609.9 L214.9 609.7 L215.5 609.8 L216 609.8 L216.6 609.8 L217.1 609.9 L217.7 609.8 L218.2 609.7 L218.8 609.9 L219.3 609.8 L219.9 609.8 L220.4 609.9 L221 609.8 L221.5 609.7 L222.1 609.9 L222.7 609.9 L223.2 609.7 L223.8 609.7 L224.3 609.9 L224.9 609.9 L225.4 609.9 L226 609.9 L226.5 609.8 L227.1 609.9 L227.6 609.9 L228.2 609.8 L228.7 609.8 L229.3 609.8 L229.8 609.9 L230.4 609.8 L230.9 609.8 L231.5 609.8 L232 609.8 L232.6 609.9 L233.1 609.8 L233.7 609.9 L234.3 609.8 L234.8 609.7 L235.4 609.7 L235.9 609.7 L236.5 609.9 L237 609.8 L237.6 609.8 L238.1 609.8 L238.7 609.7 L239.2 609.8 L239.8 609.9 L240.3 609.8 L240.9 609.8 L241.4 609.8 L242 609.9 L242.5 609.8 L243.1 609.9 L243.6 609.9 L244.2 609.8 L244.8 609.9 L245.3 609.9 L245.9 609.9 L246.4 609.8 L247 609.9 L247.5 609.9 L248.1 609.9 L248.6 609.9 L249.2 609.9 L249.7 609.9 L250.3 609.8 L250.8 609.8 L251.4 609.9 L251.9 609.7 L252.5 609.8 L253 609.8 L253.6 609.8 L254.1 609.8 L254.7 609.9 L255.2 609.9 L255.8 609.8 L256.4 609.9 L256.9 609.8 L257.5 609.9 L258 609.8 L258.6 609.9 L259.1 609.7 L259.7 609.8 L260.2 609.8 L260.8 609.9 L261.3 609.8 L261.9 609.9 L262.4 609.9 L263 609.9 L263.5 609.9 L264.1 609.8 L264.6 609.8 L265.2 609.9 L265.7 609.8 L266.3 609.9 L266.9 609.7 L267.4 609.8 L268 609.9 L268.5 609.9 L269.1 609.9 L269.6 609.9 L270.2 609.8 L270.7 609.9 L271.3 609.8 L271.8 609.8 L272.4 609.8 L272.9 609.8 L273.5 609.9 L274 609.9 L274.6 609.9 L275.1 609.9 L275.7 609.9 L276.2 609.8 L276.8 609.8 L277.3 609.9 L277.9 609.8 L278.5 609.8 L279 609.8 L279.6 609.9 L280.1 609.8 L280.7 609.9 L281.2 609.9 L281.8 609.8 L282.3 609.9 L282.9 609.9 L283.4 609.8 L284 609.9 L284.5 609.9 L285.1 609.8 L285.6 609.9 L286.2 609.8 L286.7 609.9 L287.3 609.9 L287.8 609.9 L288.4 609.9 L289 609.8 L289.5 609.9 L290.1 609.8 L290.6 609.9 L291.2 609.9 L291.7 609.9 L292.3 609.8 L292.8 609.9 L293.4 609.9 L293.9 609.9 L294.5 609.9 L295 609.9 L295.6 609.8 L296.1 609.9 L296.7 609.9 L297.2 609.8 L297.8 609.8 L298.3 609.9 L298.9 609.9 L299.4 609.9 L300 609.9 L300.6 609.8 L301.1 609.9 L301.7 609.8 L302.2 609.9 L302.8 609.9 L303.3 609.9 L303.9 609.8 L304.4 609.9 L305 609.9 L305.5 609.9 L306.1 609.9 L306.6 609.8 L307.2 609.9 L307.7 609.9 L308.3 609.8 L308.8 609.9 L309.4 609.8 L309.9 609.9 L310.5 609.8 L311 609.8 L311.6 609.9 L312.1 609.8 L312.7 609.9 L313.2 609.8 L313.8 609.9 L314.3 609.9 L314.9 609.9 L315.4 609.9 L316 609.9 L316.5 609.9 L317.1 609.8 L317.6 609.8 L318.2 609.9 L318.7 609.9 L319.3 609.9 L319.8 609.8 L320.4 609.9 L320.9 609.9 L321.5 609.9 L322 609.9 L322.6 609.8 L323.1 609.9 L323.7 609.9 L324.2 609.9 L324.8 609.8 L325.3 609.9 L325.9 609.8 L326.4 609.9 L327 609.9 L327.5 609.9 L328.1 609.9 L328.6 609.9 L329.2 609.9 L329.7 609.9 L330.3 609.9 L330.8 609.8 L331.4 609.9 L331.9 609.9 L332.5 609.8 L333 609.8 L333.6 609.9 L334.1 609.9 L334.7 609.9 L335.2 609.9 L335.8 609.9 L336.3 609.9 L336.9 609.8 L337.4 609.9 L338 609.8 L338.5 609.8 L339.1 609.9 L339.6 609.8 L340.2 609.8 L340.7 609.8 L341.3 609.9 L341.8 609.8 L342.4 609.9 L342.9 609.9 L343.5 609.9 L344 609.9 L344.6 609.9 L345.1 609.9 L345.7 609.9 L346.2 609.9 L346.8 609.9 L347.3 609.8 L347.9 609.9 L348.4 609.9 L349 609.9 L349.5 609.8 L350.1 609.9 L350.6 609.8 L351.2 609.9 L351.7 609.9 L352.3 609.9 L352.8 609.8 L353.4 609.9 L353.9 609.9 L354.5 609.9 L355 609.9 L355.6 609.9 L356.1 609.9 L356.7 609.9 L357.2 609.9 L357.8 609.8 L358.3 609.8 L358.9 609.9 L359.4 609.9 L360 609.9 L360.6 609.8 L361.1 609.8 L361.7 609.9 L362.2 609.9 L362.8 609.8 L363.3 609.8 L363.9 609.8 L364.4 609.8 L365 609.8 L365.5 609.8 L366.1 609.9 L366.6 609.9 L367.2 609.8 L367.7 609.9 L368.3 609.9 L368.8 609.8 L369.4 609.9 L369.9 609.8 L370.5 609.9 L371 609.9 L371.6 609.9 L372.1 609.9 L372.7 609.8 L373.2 609.9 L373.8 609.8 L374.3 609.8 L374.9 609.9 L375.4 609.9 L376 609.9 L376.5 609.9 L377.1 609.9 L377.6 609.9 L378.2 609.9 L378.7 609.9 L379.3 609.9 L379.8 609.8 L380.4 609.8 L380.9 609.9 L381.5 609.9 L382 609.9 L382.6 609.9 L383.1 609.9 L383.7 609.9 L384.2 609.9 L384.8 609.9 L385.3 609.9 L385.9 609.9 L386.4 609.9 L387 609.9 L387.5 609.9 L388.1 609.9 L388.6 609.9 L389.2 609.9 L389.7 609.9 L390.3 609.9 L390.8 609.9 L391.4 609.9 L391.9 609.9 L392.5 609.7 L393 609.9 L393.6 609.8 L394.1 609.7 L394.7 609.9 L395.2 609.9 L395.8 609.9 L396.3 609.9 L396.9 609.9 L397.4 609.9 L398 609.9 L398.5 609.8 L399.1 609.8 L399.6 609.9 L400.2 609.9 L400.7 609.9 L401.3 609.8 L401.8 609.9 L402.4 609.9 L402.9 609.8 L403.5 609.9 L404 609.8 L404.6 609.9 L405.1 609.9 L405.7 609.9 L406.2 609.9 L406.8 609.9 L407.3 609.8 L407.9 609.9 L408.4 609.9 L409 609.8 L409.5 609.9 L410.1 609.9 L410.6 609.9 L411.2 609.9 L411.7 609.9 L412.3 609.9 L412.8 609.8 L413.4 609.9 L413.9 609.9 L414.5 609.9 L415 609.9 L415.6 609.9 L416.1 609.9 L416.7 609.9 L417.2 609.9 L417.8 609.9 L418.3 609.9 L418.9 609.9 L419.4 609.9 L420 609.9 L420.6 609.9 L421.1 609.9 L421.7 609.9 L422.2 609.9 L422.8 609.9 L423.3 609.9 L423.9 609.9 L424.4 609.9 L425 609.8 L425.5 609.9 L426.1 609.8 L426.6 609.8 L427.2 609.8 L427.7 609.8 L428.3 609.9 L428.8 609.9 L429.4 609.8 L429.9 609.9 L430.5 609.9 L431 609.9 L431.6 609.8 L432.1 609.8 L432.7 609.9 L433.2 609.9 L433.8 609.9 L434.3 609.9 L434.9 609.9 L435.4 609.9 L436 609.9 L436.5 609.9 L437.1 609.9 L437.6 609.9 L438.2 609.9 L438.7 609.9 L439.3 609.9 L439.8 609.9 L440.4 609.9 L440.9 609.9 L441.5 609.9 L442 609.9 L442.6 609.9 L443.1 609.9 L443.7 609.9 L444.2 609.9 L444.8 609.9 L445.3 609.9 L445.9 609.9 L446.4 609.9 L447 609.9 L447.5 609.9 L448.1 609.9 L448.6 609.9 L449.2 609.9 L449.7 609.9 L450.3 609.9 L450.8 609.8 L451.4 609.9 L451.9 609.8 L452.5 609.9 L453 609.8 L453.6 609.9 L454.1 609.9 L454.7 609.9 L455.2 609.8 L455.8 609.9 L456.3 609.9 L456.9 609.9 L457.4 609.9 L458 609.9 L458.5 609.9 L459.1 609.9 L459.6 609.8 L460.2 609.9 L460.7 609.9 L461.3 609.9 L461.8 609.8 L462.4 609.9 L462.9 609.8 L463.5 609.9 L464 609.9 L464.6 609.9 L465.1 609.9 L465.7 609.9 L466.2 609.9 L466.8 609.9 L467.3 609.8 L467.9 609.9 L468.4 609.8 L469 609.8 L469.5 609.9 L470.1 609.8 L470.6 609.9 L471.2 609.9 L471.7 609.9 L472.3 609.9 L472.8 609.9 L473.4 609.9 L473.9 609.9 L474.5 609.9 L475 609.9 L475.6 609.8 L476.1 609.8 L476.7 609.8 L477.2 609.9 L477.8 609.9 L478.3 609.9 L478.9 609.9 L479.4 609.9 L480 609.9 L480.6 609.9 L481.1 609.8 L481.7 609.9 L482.2 609.9 L482.8 609.9 L483.3 609.9 L483.9 609.9 L484.4 609.8 L485 609.9 L485.5 609.9 L486.1 609.9 L486.6 609.9 L487.2 609.9 L487.7 609.9 L488.3 609.8 L488.8 609.9 L489.4 609.8 L489.9 609.9 L490.5 609.9 L491 609.8 L491.6 609.9 L492.1 609.9 L492.7 609.9 L493.2 609.9 L493.8 609.8 L494.3 609.8 L494.9 609.9 L495.4 609.9 L496 609.9 L496.5 609.9 L497.1 609.9 L497.6 609.8 L498.2 609.9 L498.8 609.8 L499.3 609.8 L499.9 609.9 L500.4 609.8 L501 609.9 L501.5 609.8 L502.1 609.8 L502.6 609.8 L503.2 609.9 L503.7 609.8 L504.3 609.7 L504.8 609.8 L505.4 609.8 L505.9 609.8 L506.5 609.9 L507 609.8 L507.6 609.8 L508.1 609.8 L508.7 609.7 L509.2 609.8 L509.8 609.9 L510.3 609.8 L510.9 609.7 L511.4 609.7 L512 609.8 L512.5 609.8 L513.1 609.9 L513.6 609.7 L514.2 609.9 L514.7 609.9 L515.3 609.9 L515.8 609.7 L516.4 609.8 L516.9 609.7 L517.5 609.8 L518.1 609.8 L518.6 609.7 L519.2 609.8 L519.7 609.8 L520.3 609.8 L520.8 609.8 L521.4 609.8 L521.9 609.8 L522.5 609.9 L523 609.8 L523.6 609.9 L524.1 609.8 L524.7 609.8 L525.2 609.9 L525.8 609.8 L526.3 609.9 L526.9 609.8 L527.4 609.9 L528 609.8 L528.5 609.7 L529.1 609.8 L529.6 609.9 L530.2 609.8 L530.7 609.8 L531.3 609.7 L531.8 609.9 L532.4 609.9 L532.9 609.7 L533.5 609.8 L534 609.8 L534.6 609.7 L535.1 609.8 L535.7 609.7 L536.2 609.8 L536.8 609.8 L537.4 609.8 L537.9 609.7 L538.5 609.8 L539 609.8 L539.6 609.8 L540.1 609.7 L540.7 609.7 L541.2 609.7 L541.8 609.7 L542.3 609.6 L542.9 609.7 L543.4 609.7 L544 609.7 L544.5 609.7 L545.1 609.6 L545.6 609.8 L546.2 609.7 L546.7 609.7 L547.3 609.7 L547.8 609.8 L548.4 609.9 L548.9 609.6 L549.5 609.6 L550 609.6 L550.6 609.8 L551.1 609.8 L551.7 609.7 L552.2 609.7 L552.8 609.8 L553.3 609.7 L553.9 609.8 L554.4 609.7 L555 609.6 L555.6 609.8 L556.1 609.6 L556.7 609.6 L557.2 609.8 L557.8 609.7 L558.3 609.8 L558.9 609.8 L559.4 609.6 L560 609.8 L560.5 609.7 L561.1 609.8 L561.6 609.6 L562.2 609.6 L562.7 609.6 L563.3 609.6 L563.8 609.6 L564.4 609.6 L564.9 609.7 L565.5 609.7 L566 609.8 L566.6 609.6 L567.1 609.7 L567.7 609.7 L568.2 609.6 L568.8 609.7 L569.3 609.6 L569.9 609.6 L570.4 609.7 L571 609.7 L571.5 609.6 L572.1 609.5 L572.6 609.6 L573.2 609.6 L573.8 609.7 L574.3 609.7 L574.9 609.6 L575.4 609.6 L576 609.6 L576.5 609.5 L577.1 609.7 L577.6 609.8 L578.2 609.6 L578.7 609.6 L579.3 609.6 L579.8 609.6 L580.4 609.7 L580.9 609.5 L581.5 609.7 L582 609.6 L582.6 609.6 L583.1 609.6 L583.7 609.7 L584.2 609.6 L584.8 609.5 L585.3 609.6 L585.9 609.5 L586.4 609.7 L587 609.7 L587.5 609.5 L588.1 609.6 L588.6 609.5 L589.2 609.6 L589.7 609.7 L590.3 609.5 L590.8 609.7 L591.4 609.6 L591.9 609.7 L592.5 609.5 L593.1 609.6 L593.6 609.6 L594.2 609.6 L594.7 609.6 L595.3 609.7 L595.8 609.6 L596.4 609.6 L596.9 609.6 L597.5 609.6 L598 609.6 L598.6 609.5 L599.1 609.6 L599.7 609.5 L600.2 609.6 L600.8 609.5 L601.3 609.5 L601.9 609.6 L602.4 609.6 L603 609.5 L603.5 609.6 L604.1 609.5 L604.6 609.6 L605.2 609.5 L605.7 609.5 L606.3 609.6 L606.8 609.6 L607.4 609.5 L607.9 609.7 L608.5 609.5 L609 609.6 L609.6 609.7 L610.1 609.5 L610.7 609.5 L611.2 609.6 L611.8 609.6 L612.4 609.6 L612.9 609.5 L613.5 609.6 L614 609.5 L614.6 609.5 L615.1 609.5 L615.7 609.5 L616.2 609.4 L616.8 609.6 L617.3 609.6 L617.9 609.6 L618.4 609.5 L619 609.5 L619.5 609.5 L620.1 609.6 L620.6 609.5 L621.2 609.5 L621.7 609.5 L622.3 609.6 L622.8 609.5 L623.4 609.5 L623.9 609.5 L624.5 609.4 L625 609.4 L625.6 609.5 L626.1 609.5 L626.7 609.5 L627.2 609.5 L627.8 609.5 L628.3 609.5 L628.9 609.5 L629.4 609.5 L630 609.5 L630.6 609.4 L631.1 609.5 L631.7 609.5 L632.2 609.5 L632.8 609.4 L633.3 609.5 L633.9 609.6 L634.4 609.5 L635 609.4 L635.5 609.5 L636.1 609.4 L636.6 609.5 L637.2 609.4 L637.7 609.5 L638.3 609.4 L638.8 609.5 L639.4 609.5 L639.9 609.5 L640.5 609.5 L641 609.5 L641.6 609.5 L642.1 609.4 L642.7 609.4 L643.2 609.5 L643.8 609.6 L644.3 609.5 L644.9 609.6 L645.4 609.5 L646 609.5 L646.5 609.4 L647.1 609.5 L647.6 609.4 L648.2 609.5 L648.7 609.4 L649.3 609.4 L649.8 609.4 L650.4 609.3 L650.9 609.4 L651.5 609.6 L652 609.5 L652.6 609.6 L653.1 609.3 L653.7 609.4 L654.3 609.5 L654.8 609.6 L655.4 609.4 L655.9 609.4 L656.5 609.4 L657 609.5 L657.6 609.4 L658.1 609.4 L658.7 609.4 L659.2 609.5 L659.8 609.5 L660.3 609.5 L660.9 609.4 L661.4 609.5 L662 609.4 L662.5 609.5 L663.1 609.4 L663.6 609.5 L664.2 609.6 L664.7 609.5 L665.3 609.4 L665.8 609.4 L666.4 609.3 L666.9 609.4 L667.5 609.5 L668 609.3 L668.6 609.4 L669.1 609.4 L669.7 609.3 L670.2 609.4 L670.8 609.3 L671.3 609.4 L671.9 609.4 L672.4 609.5 L673 609.4 L673.5 609.3 L674.1 609.3 L674.6 609.3 L675.2 609.4 L675.7 609.4 L676.3 609.2 L676.9 609.3 L677.4 609.4 L678 609.3 L678.5 609.4 L679.1 609.3 L679.6 609.3 L680.2 609.4 L680.7 609.4 L681.3 609.4 L681.8 609.2 L682.4 609.4 L682.9 609.4 L683.5 609.3 L684 609.5 L684.6 609.5 L685.1 609.3 L685.7 609.3 L686.2 609.4 L686.8 609.4 L687.3 609.2 L687.9 609.2 L688.4 609.3 L689 609.3 L689.5 609.3 L690.1 609.2 L690.6 609.4 L691.2 609.3 L691.7 609.3 L692.3 609.2 L692.8 609.3 L693.4 609.3 L693.9 609.2 L694.5 609.2 L695 609.4 L695.6 609.2 L696.1 609.4 L696.7 609.4 L697.2 609.4 L697.8 609.2 L698.3 609.2 L698.9 609.3 L699.4 609.3 L700 609.3 L700.6 609.2 L701.1 609.2 L701.7 609.2 L702.2 609.3 L702.8 609.3 L703.3 609.3 L703.9 609.2 L704.4 609.2 L705 609.3 L705.5 609.3 L706.1 609.2 L706.6 609.2 L707.2 609.1 L707.7 609.1 L708.3 609.2 L708.8 609.2 L709.4 609.3 L709.9 609.3 L710.5 609.1 L711 609.2 L711.6 609.1 L712.1 609.2 L712.7 609.1 L713.2 609.2 L713.8 609.1 L714.3 609.2 L714.9 609.2 L715.4 609 L716 609 L716.5 609.1 L717.1 609 L717.6 609 L718.2 609.1 L718.7 609.1 L719.3 609.2 L719.8 609 L720.4 609.2 L720.9 609 L721.5 609.1 L722 609 L722.6 609.1 L723.1 609.1 L723.7 609 L724.2 609 L724.8 609.2 L725.3 609 L725.9 609.1 L726.4 609.2 L727 609.2 L727.5 609.1 L728.1 609 L728.6 609 L729.2 609 L729.7 609 L730.3 609.1 L730.8 609 L731.4 609.1 L731.9 609 L732.5 608.9 L733 608.9 L733.6 608.8 L734.1 609 L734.7 608.9 L735.2 608.9 L735.8 609 L736.3 609 L736.9 608.9 L737.4 609 L738 609 L738.5 608.9 L739.1 608.9 L739.6 609 L740.2 608.8 L740.7 608.8 L741.3 608.8 L741.8 608.9 L742.4 608.7 L742.9 608.8 L743.5 608.8 L744 608.7 L744.6 608.9 L745.1 608.9 L745.7 608.9 L746.2 608.8 L746.8 608.7 L747.3 608.7 L747.9 608.9 L748.4 608.9 L749 608.8 L749.5 608.7 L750.1 608.8 L750.6 608.7 L751.2 608.8 L751.7 608.9 L752.3 608.8 L752.8 608.8 L753.4 608.7 L753.9 608.7 L754.5 608.8 L755 608.8 L755.6 608.6 L756.1 608.8 L756.7 608.8 L757.2 608.8 L757.8 608.7 L758.3 608.7 L758.9 608.6 L759.4 608.6 L760 608.7 L760.6 608.8 L761.1 608.6 L761.7 608.6 L762.2 608.6 L762.8 608.8 L763.3 608.7 L763.9 608.7 L764.4 608.6 L765 608.6 L765.5 608.7 L766.1 608.6 L766.6 608.6 L767.2 608.6 L767.7 608.5 L768.3 608.5 L768.9 608.7 L769.4 608.7 L770 608.7 L770.5 608.5 L771.1 608.6 L771.6 608.6 L772.2 608.6 L772.7 608.5 L773.3 608.6 L773.8 608.4 L774.4 608.5 L774.9 608.4 L775.5 608.4 L776 608.4 L776.6 608.4 L777.1 608.3 L777.7 608.5 L778.3 608.5 L778.8 608.3 L779.4 608.3 L779.9 608.4 L780.5 608.4 L781 608.3 L781.6 608.2 L782.1 608.2 L782.7 608.4 L783.2 608.4 L783.8 608.2 L784.3 608.4 L784.9 608.4 L785.4 608.2 L786 608.3 L786.6 608.2 L787.1 608 L787.7 607.9 L788.2 607.8 L788.8 607.7 L789.3 607.5 L789.9 607.5 L790.5 607.5 L791 607.4 L791.6 607.4 L792.1 607.1 L792.7 607 L793.2 606.9 L793.8 606.7 L794.3 606.7 L794.9 606.5 L795.5 606.2 L796.1 606.1 L796.6 606.1 L797.2 605.9 L797.8 605.6 L798.4 605.4 L799 605.4 L799.6 605 L800.1 605.1 L800.7 604.8 L801.3 604.7 L801.9 604.7 L802.4 604.1 L803 604.4 L803.6 604.5 L804.1 603.8 L804.7 603.7 L805.3 604 L805.8 603.4 L806.4 603.6 L807 603.2 L807.6 602.9 L808.1 603 L808.7 603.1 L809.3 602.5 L809.8 602.8 L810.4 602.4 L811 602.1 L811.6 602.3 L812.1 602.5 L812.7 602.3 L813.3 602.3 L813.9 601.9 L814.4 602.8 L815 602.2 L815.6 602.6 L816.2 602.5 L816.8 602.6 L817.3 602.7 L817.9 603 L818.5 602.6 L819.1 603.2 L819.7 603.3 L820.3 603.2 L820.8 602.8 L821.4 603.3 L822 603 L822.6 603.5 L823.1 603.7 L823.7 603.8 L824.2 604 L824.8 604.2 L825.4 604.2 L825.9 605 L826.5 604.9 L827.2 604.5 L827.8 604.1 L828.5 603.7 L829.1 604 L829.8 603.6 L830.4 603.5 L830.9 603.4 L831.5 603.1 L832.1 603.2 L832.6 603.5 L833.2 603.5 L833.8 603.7 L834.3 603.2 L834.9 603.4 L835.5 603.5 L836.1 603.1 L836.6 602.9 L837.2 602.1 L837.8 602 L838.4 601.4 L838.9 601.3 L839.5 601.1 L840.1 601.1 L840.7 600.5 L841.2 600.9 L841.8 600.1 L842.3 600.5 L842.9 599.4 L843.4 599.8 L844 599.1 L844.6 598.9 L845.3 599.3 L846 599.8 L846.6 599.8 L847.2 599.3 L847.9 599.4 L848.5 598.8 L849.2 598.4 L849.8 598.1 L850.4 598.2 L851.1 598.5 L851.7 598.8 L852.4 599.2 L853 599.8 L853.6 599.9 L854.2 601.2 L854.7 601.4 L855.3 602.4 L855.9 602.6 L856.5 602 L857.1 601.6 L857.7 601.5 L858.3 601.7 L858.9 601.5 L859.5 601.1 L860.1 601.1 L860.6 600.8 L861.2 600.7 L861.7 601.1 L862.3 600.6 L862.8 601 L863.4 600.4 L864 600.1 L864.5 600.7 L865.1 599.6 L865.7 600.1 L866.2 600 L866.8 600 L867.4 599.8 L867.9 599.5 L868.5 599.8 L869.2 599.3 L869.8 598.7 L870.5 598.8 L871.1 598.1 L871.8 598.1 L872.4 598.6 L872.9 597.7 L873.5 598.1 L874.1 598.6 L874.6 598.4 L875.2 598.6 L875.8 598.9 L876.3 598.6 L876.9 598.5 L877.5 598.3 L878 598.3 L878.6 597.6 L879.1 597.8 L879.7 597.6 L880.3 596.9 L880.8 596.9 L881.4 596.8 L882 596.3 L882.5 596.8 L883.1 596.9 L883.7 596.2 L884.3 596.3 L884.9 595.9 L885.4 596.4 L886 595.9 L886.6 595.4 L887.1 595.6 L887.7 594.9 L888.2 594.5 L888.8 594.7 L889.4 594.2 L889.9 593.9 L890.5 593.3 L891.1 592.5 L891.6 593.1 L892.2 591.2 L892.7 591.4 L893.3 590.7 L893.8 590 L894.4 589.4 L895 587.8 L895.7 586.9 L896.4 587 L897 585.6 L897.6 583.4 L898.2 579.7 L898.9 578.1 L899.5 578 L900.1 575.7 L900.8 575.2 L901.4 572.9 L902.1 570.9 L902.8 570.4 L903.4 568.1 L904 570.1 L904.5 570.5 L905.1 571.8 L905.7 573.9 L906.3 573.3 L906.9 572.3 L907.4 570.6 L908 570.6 L908.6 570.1 L909.2 567.2 L909.9 565 L910.5 561 L911.1 559.6 L911.6 555.5 L912.2 553.9 L913 556.1 L913.7 561 L914.4 559.9 L915 559.5 L915.7 559.1 L916.4 564.7 L917 572.6 L917.6 573.2 L918.3 573.4 L918.9 574.5 L919.6 574.3 L920.2 573.9 L920.8 572.6 L921.5 572.9 L922.1 571.3 L922.8 573.6 L923.4 575.8 L924.1 579.1 L924.7 581 L925.2 584.7 L925.8 586.2 L926.4 588.4 L927 586.6 L927.5 584.9 L928 584.8 L928.6 583 L929.2 581.5 L929.7 581.2 L930.3 580.6 L930.8 580.1 L931.4 578.4 L931.9 577.5 L932.5 576.5 L933.1 578.2 L933.8 578.2 L934.4 578.9 L935.1 579.8 L935.7 580.6 L936.3 580.7 L936.8 580.2 L937.4 580.5 L938 580.2 L938.5 580.4 L939.1 580.1 L939.6 579.7 L940.2 579.7 L940.9 580.5 L941.5 583 L942.2 584.3 L942.8 585 L943.5 585.4 L944.1 586.5 L944.7 586.9 L945.4 588.1 L946 588.1 L946.6 587.5 L947.3 588.3 L948 587.4 L948.6 587.5 L949.2 587.7 L949.8 588.2 L950.3 589.2 L950.9 589.2 L951.5 590.9 L952.1 591 L952.6 591.9 L953.2 591.8 L953.8 592.7 L954.4 592.7 L955.1 592.6 L955.7 592.7 L956.4 592.3 L957 593 L957.6 592.3 L958.1 590.9 L958.7 590.5 L959.2 589.7 L959.8 589.1 L960.3 589.3 L960.9 588.1 L961.5 587 L962 586.5 L962.6 584.8 L963.1 584.3 L963.7 583.5 L964.3 583 L964.8 581.8 L965.4 581 L966.1 581.2 L966.7 581.1 L967.4 581.4 L968 581.5 L968.6 580.9 L969.1 579.3 L969.7 579.5 L970.3 579.1 L970.9 579.7 L971.5 580.9 L972.1 580.7 L972.7 581.1 L973.3 581.9 L973.9 583.1 L974.5 583 L975.1 583.2 L975.8 583.9 L976.4 584.1 L977 583.2 L977.7 584.2 L978.3 584.3 L978.9 585.5 L979.4 585.2 L980 586.5 L980.5 586.1 L981.1 587.9 L981.6 588.7 L982.2 589.4 L982.9 588.9 L983.5 588.4 L984.2 587.8 L984.8 587.9 L985.5 586.8 L986.1 587 L986.6 587.9 L987.2 588.7 L987.8 588.2 L988.3 588.8 L988.9 590.1 L989.4 590.4 L990 591 L990.6 590.7 L991.1 591.5 L991.7 591.2 L992.2 590.7 L992.8 591.1 L993.3 591.3 L993.9 591.4 L994.5 591.6 L995.1 591.9 L995.7 592.8 L996.3 592.4 L996.9 592.9 L997.5 593.3 L998.1 592.7 L998.6 592.8 L999.2 592.2 L999.7 591.9 L1000.3 591.4 L1000.9 592.2 L1001.6 592.3 L1002.2 591.8 L1002.9 591.9 L1003.5 592.7 L1004.1 591.7 L1004.8 591.2 L1005.5 591.1 L1006.1 590.1 L1006.7 590.1 L1007.2 590.3 L1007.8 589.5 L1008.4 589.6 L1008.9 589.7 L1009.5 589.1 L1010 590.1 L1010.6 589.4 L1011.2 590 L1011.8 590.6 L1012.3 590.2 L1012.9 591 L1013.5 591.4 L1014.1 591.3 L1014.6 592 L1015.2 592.7 L1015.8 592.9 L1016.5 593.8 L1017.1 594.3 L1017.7 595.7 L1018.4 595 L1019 595.9 L1019.6 596 L1020.2 595.8 L1020.8 595.5 L1021.4 595.6 L1022 595.4 L1022.5 595.5 L1023.1 596.5 L1023.7 596 L1024.3 595.5 L1024.9 595.6 L1025.5 595.5 L1026 595 L1026.6 595.6 L1027.2 595 L1027.7 594.1 L1028.3 594.7 L1028.8 593.9 L1029.4 594 L1030 594.2 L1030.7 595.9 L1031.3 596.2 L1032 595.9 L1032.6 596.9 L1033.2 596.8 L1033.7 596.9 L1034.3 596.7 L1034.8 596 L1035.4 596.1 L1035.9 596.8 L1036.5 596.5 L1037.1 596.1 L1037.8 595.5 L1038.4 595.2 L1039.1 594.8 L1039.7 594.6 L1040.3 594.5 L1040.8 594.3 L1041.4 595 L1042 594.9 L1042.5 594.9 L1043.1 594.3 L1043.6 594.5 L1044.2 594.9 L1044.8 595 L1045.4 594.9 L1045.9 594.9 L1046.5 594.9 L1047.1 594.9 L1047.7 594.7 L1048.2 595.6 L1048.8 595.9 L1049.4 595.6 L1050 596 L1050.5 595.8 L1051.1 595.8 L1051.6 595.7 L1052.2 595.1 L1052.7 595 L1053.3 595.1 L1053.9 595.2 L1054.4 595.4 L1055 596 L1055.5 595.3 L1056.1 595.7 L1056.6 595.2 L1057.2 595.6 L1057.8 595.7 L1058.4 595.4 L1058.9 595.5 L1059.5 595.1 L1060.1 595.5 L1060.7 594.8 L1061.3 595.2 L1061.8 594.5 L1062.4 594.3 L1063 594.6 L1063.7 594.5 L1064.3 595.5 L1064.9 596 L1065.6 595.9 L1066.2 596.6 L1066.9 597.9 L1067.5 598.4 L1068.1 598.9 L1068.8 599.8 L1069.4 600.2 L1070 600.5 L1070.6 600.1 L1071.1 600.9 L1071.7 600.7 L1072.3 601.6 L1072.8 601.6 L1073.4 601.6 L1074 601.4 L1074.6 601.5 L1075.1 602.1 L1075.7 602 L1076.3 602.5 L1076.8 602.4 L1077.4 603.1 L1078 603 L1078.5 602.6 L1079.1 603 L1079.9 602.9 L1080.7 603.3 L1081.3 603.2 L1082 602.6 L1082.6 602.1 L1083.2 601.7 L1083.9 601.4 L1084.5 600.5 L1085.1 600.1 L1085.6 600.8 L1086.2 600.6 L1086.7 600.9 L1087.3 600.4 L1087.8 599.9 L1088.4 600.5 L1089 600.6 L1089.5 600.3 L1090.1 600.9 L1090.6 600.5 L1091.2 600.4 L1091.7 600.6 L1092.3 600.7 L1092.9 601.2 L1093.4 601.1 L1094 601.2 L1094.5 600.9 L1095.1 601.5 L1095.6 602.1 L1096.2 602 L1096.8 602.4 L1097.3 602.1 L1097.9 602.2 L1098.5 602.2 L1099 602.2 L1099.6 602.1 L1100.1 602.7 L1100.7 602.6 L1101.3 602.1 L1101.8 602.2 L1102.4 602.5 L1103 602.8 L1103.5 602.8 L1104.1 602.7 L1104.6 603 L1105.2 602.7 L1105.8 602.7 L1106.4 602.4 L1106.9 602.6 L1107.5 602.4 L1108.1 602.7 L1108.7 602.3 L1109.2 602.1 L1109.8 602.1 L1110.4 602.2 L1111 601.6 L1111.6 601.4 L1112.1 602.1 L1112.7 601.5 L1113.3 601 L1113.9 601.5 L1114.4 601 L1115 600.9 L1115.6 601 L1116.2 600.9 L1116.7 601.2 L1117.3 601.3 L1117.8 601.4 L1118.4 601.2 L1119 600.6 L1119.5 601.2 L1120.1 600.9 L1120.7 600.8 L1121.2 600.6 L1121.8 600.7 L1122.3 600.4 L1122.9 600.6 L1123.5 601.2 L1124 600.5 L1124.6 600.7 L1125.2 600.4 L1125.7 600.6 L1126.3 600.3 L1126.8 600.3 L1127.4 600.4 L1127.9 600.7 L1128.5 600.6 L1129.1 600.6 L1129.6 599.9 L1130.2 600.3 L1130.7 600.4 L1131.3 600.1 L1131.8 600.5 L1132.4 600.1 L1133 599.6 L1133.5 599.4 L1134.1 599 L1134.7 599.3 L1135.2 599.2 L1135.8 598.1 L1136.4 597.9 L1136.9 598 L1137.5 597.5 L1138.1 597.8 L1138.7 597.2 L1139.3 598 L1139.9 597.8 L1140.5 597.7 L1141 598.2 L1141.6 597.7 L1142.2 597.8 L1142.8 598.1 L1143.4 597.8 L1144 597.8 L1144.6 598.3 L1145.1 597.8 L1145.7 597.8 L1146.3 598.4 L1146.8 598.4 L1147.4 598.5 L1148 598.8 L1148.5 599 L1149.1 598.8 L1149.7 598.7 L1150.2 598.4 L1150.8 598.8 L1151.3 598.6 L1151.9 598.4 L1152.4 597.9 L1153 597.5 L1153.7 596.9 L1154.3 595.4 L1155 595.5 L1155.6 594 L1156.3 593.6 L1156.9 593 L1157.6 594 L1158.2 593.4 L1158.9 592.9 L1159.5 593.2 L1160.1 592.9 L1160.6 592.8 L1161.2 592 L1161.7 591.8 L1162.3 592.3 L1162.8 592.1 L1163.4 591.7 L1164 591.5 L1164.7 592 L1165.3 592.4 L1165.9 592.8 L1166.6 593.2 L1167.2 593.2 L1167.8 593.2 L1168.3 593.1 L1168.9 592.4 L1169.4 591.9 L1170 592.7 L1170.5 592.3 L1171.1 592.3 L1171.7 591.9 L1172.4 591.5 L1173 591.3 L1173.7 590.3 L1174.3 589.7 L1175 588.5 L1175.6 587.5 L1176.2 587.2 L1176.9 585.9 L1177.6 586.4 L1178.2 586.5 L1178.9 587 L1179.5 588 L1180.2 588.4 L1180.8 588.1 L1181.5 588.1 L1182.1 587.1 L1182.7 587.7 L1183.4 587.9 L1184 587.2 L1184.6 588.5 L1185.1 589 L1185.7 588.7 L1186.2 589.8 L1186.8 590.5 L1187.3 590.8 L1187.9 591.7 L1188.5 591.8 L1189.1 591.6 L1189.6 591.2 L1190.2 592 L1190.8 591.7 L1191.4 591.1 L1191.9 591.8 L1192.5 592.2 L1193.1 591.7 L1193.7 591.8 L1194.2 591.5 L1194.8 590.1 L1195.3 590.4 L1195.9 589.6 L1196.5 589.9 L1197 589.9 L1197.6 589.1 L1198.2 589.5 L1198.7 589.9 L1199.3 590.9 L1199.8 589.8 L1200.4 590.7 L1201 590.3 L1201.5 591.8 L1202.1 591.7 L1202.7 591.3 L1203.2 592 L1203.8 591.7 L1204.3 592.5 L1204.9 592.3 L1205.4 591.8 L1206 592.4 L1206.6 592.4 L1207.1 591.9 L1207.7 592.5 L1208.2 592.9 L1208.8 592.3 L1209.3 592.4 L1209.9 593 L1210.5 592.8 L1211 593.1 L1211.6 592.8 L1212.2 592.6 L1212.7 592.8 L1213.3 591.9 L1213.9 592.7 L1214.4 592 L1215 592.1 L1215.6 592.5 L1216.2 592.5 L1216.7 591.5 L1217.3 592.6 L1217.9 591.4 L1218.5 592.4 L1219 592.1 L1219.6 592.3 L1220.2 592.1 L1220.8 592.7 L1221.5 592.9 L1222.1 593.9 L1222.8 595.3 L1223.4 595.6 L1224 595.8 L1224.6 595.3 L1225.2 595.4 L1225.8 595.8 L1226.4 595.4 L1227 595.4 L1227.5 595.2 L1228.1 595.5 L1228.7 594.4 L1229.3 594.7 L1229.9 594.4 L1230.5 594.9 L1231.1 594.5 L1231.7 595.6 L1232.3 594.9 L1232.9 595.1 L1233.5 595 L1234 595.8 L1234.6 595.2 L1235.2 596.1 L1235.8 595.4 L1236.4 595.8 L1237 594.9 L1237.7 594.2 L1238.3 594.5 L1238.9 593.2 L1239.5 592.7 L1240.1 592.6 L1240.7 593.3 L1241.3 593.1 L1241.8 593.2 L1242.4 593.6 L1243 593.5 L1243.6 593.6 L1244.2 592.6 L1244.8 593 L1245.4 593.6 L1245.9 593.8 L1246.5 593.8 L1247 593.7 L1247.6 593.4 L1248.2 593.6 L1248.7 593.9 L1249.3 594.3 L1249.9 594.9 L1250.4 595.6 L1251 596.3 L1251.5 595.9 L1252.1 596.1 L1252.6 596.1 L1253.2 596.8 L1253.8 597.2 L1254.4 597 L1254.9 597.2 L1255.5 596.9 L1256.1 596.8 L1256.7 596.4 L1257.3 596.3 L1257.8 596.1 L1258.4 596.4 L1259 596.2 L1259.6 596.8 L1260.1 596.9 L1260.7 597.3 L1261.3 596.4 L1261.8 597.3 L1262.4 596.7 L1263 597.8 L1263.5 597.5 L1264.1 597.8 L1264.7 597.9 L1265.2 598 L1265.8 597.3 L1266.3 597.5 L1266.9 596.9 L1267.4 597.6 L1268 597.5 L1268.6 597.5 L1269.1 596.7 L1269.7 596.4 L1270.2 596.5 L1270.8 596.8 L1271.3 597.1 L1271.9 596.8 L1272.5 596.7 L1273.1 595.7 L1273.6 595.6 L1274.2 595.5 L1274.8 595 L1275.4 595.2 L1276 594.6 L1276.6 594.5 L1277.1 594.8 L1277.7 593.8 L1278.3 593.6 L1278.9 593.2 L1279.5 593.4 L1280 594 L1280.6 593.6 L1281.2 593.3 L1281.8 593.9 L1282.3 594.1 L1282.9 594 L1283.5 593.2 L1284 593.5 L1284.6 593.2 L1285.2 592.7 L1285.7 592.5 L1286.3 591.8 L1286.8 591.4 L1287.4 591.7 L1288 591.7 L1288.6 590.9 L1289.1 590.6 L1289.7 590.2 L1290.3 590.1 L1290.9 590.1 L1291.4 589.5 L1292 590.2 L1292.6 589.4 L1293.2 588.9 L1293.9 589.1 L1294.5 590 L1295.1 589.3 L1295.8 589.7 L1296.4 590.4 L1297 590.6 L1297.5 590.3 L1298.1 591.2 L1298.6 592.1 L1299.2 591.8 L1299.7 592.7 L1300.3 593 L1300.9 593.6 L1301.4 592.8 L1302 593.4 L1302.5 592.6 L1303.1 592.7 L1303.6 592.4 L1304.2 592.7 L1304.8 593.6 L1305.5 594 L1306.2 594.8 L1306.8 595.6 L1307 600.7 L1307.6 600.5 L1308.2 599.8 L1308.8 600.1 L1309.5 599.2 L1310.1 599.6 L1310.7 599.1 L1311.3 599.1 L1311.9 598.8 L1312.6 598.7 L1313.2 598.9 L1313.9 598.9 L1314.5 599.1 L1315.2 598.8 L1315.8 598.5 L1316.3 598.2 L1316.9 598.2 L1317.5 597.6 L1318 597.1 L1318.6 596.9 L1319.1 597.2 L1319.7 596.8 L1320.3 597.2 L1320.9 596.9 L1321.4 596.9 L1322 596.3 L1322.6 596.8 L1323.2 596.9 L1323.8 596.1 L1324.4 596.2 L1324.9 596.5 L1325.5 596.7 L1326.1 596.2 L1326.7 595.6 L1327.2 595.3 L1327.8 594.3 L1328.3 594.3 L1328.9 593.6 L1329.4 593.2 L1330 593 L1330.6 593.1 L1331.1 592.2 L1331.7 592.6 L1332.2 591.4 L1332.8 592 L1333.3 591.4 L1333.9 591.7 L1334.5 591.3 L1335 591.8 L1335.6 592.3 L1336.1 592.5 L1336.7 592.1 L1337.2 592.3 L1337.8 592.3 L1338.4 592.8 L1338.9 591.6 L1339.5 592 L1340 593.2 L1340.6 592.8 L1341.1 593.3 L1341.7 593 L1342.3 592.8 L1342.8 592 L1343.4 592.2 L1344 592.5 L1344.5 591.5 L1345.1 591.7 L1345.6 590.5 L1346.2 590.6 L1346.8 590.4 L1347.4 590.5 L1348 591 L1348.6 590.9 L1349.2 590.8 L1349.8 591.4 L1350.3 590.8 L1350.9 591.3 L1351.5 590.9 L1352.1 591.8 L1352.7 591.3 L1353.3 591.4 L1353.8 591.2 L1354.4 592.1 L1355 591.4 L1355.5 591.7 L1356 592.2 L1356.6 591.2 L1357.2 591.2 L1357.7 590.8 L1358.2 591.3 L1358.8 591.5 L1359.3 591.9 L1359.9 592 L1360.5 591.5 L1361 591.9 L1361.6 591.2 L1362.1 591.3 L1362.7 592 L1363.2 591.9 L1363.8 591.6 L1364.3 591.8 L1364.9 591 L1365.5 591.2 L1366 590.5 L1366.6 591.1 L1367.2 591.6 L1367.7 590.7 L1368.3 590.8 L1368.8 590.6 L1369.4 590.8 L1370 591.8 L1370.6 590.7 L1371.1 590.9 L1371.7 589.7 L1372.3 589.9 L1372.8 589.1 L1373.4 589.5 L1374 588.5 L1374.6 588.4 L1375.1 587.8 L1375.7 587.5 L1376.3 587 L1376.9 586.4 L1377.5 586.1 L1378.1 586.8 L1378.7 586.7 L1379.2 586.1 L1379.8 585.7 L1380.4 586.3 L1381 585.2 L1381.6 585.5 L1382.2 585.1 L1382.8 585.2 L1383.4 585.6 L1383.9 585.1 L1384.5 585.1 L1385.1 585.3 L1385.6 584.1 L1386.2 584.9 L1386.8 584 L1387.3 584 L1387.9 584.2 L1388.5 584.2 L1389 584.7 L1389.6 584.4 L1390.2 583.8 L1390.7 584.4 L1391.3 584.1 L1391.9 585.4 L1392.4 585 L1393 585.8 L1393.5 586.3 L1394.1 587.5 L1394.7 588 L1395.2 588.2 L1395.8 587.4 L1396.3 587.9 L1396.9 587.4 L1397.4 586.5 L1398 586.8 L1398.5 588.1 L1399.1 587.2 L1399.7 587.3 L1400.2 587.2 L1400.8 587.6 L1401.3 587.2 L1401.9 587.2 L1402.4 587.1 L1403 587.2 L1403.5 587.5 L1404.1 587.5 L1404.7 587.8 L1405.2 587.2 L1405.8 588 L1406.4 586.8 L1406.9 587.3 L1407.5 586.2 L1408.1 587.7 L1408.6 586.6 L1409.2 586.4 L1409.8 586.6 L1410.3 586.4 L1410.9 586.1 L1411.5 586.7 L1412 585.8 L1412.6 586.1 L1413.2 585.5 L1413.7 585.1 L1414.3 585.3 L1414.9 584.9 L1415.4 585.3 L1416 584.5 L1416.6 584 L1417.1 584.1 L1417.7 584.6 L1418.3 585 L1418.8 584.7 L1419.4 583.6 L1420 583.9 L1420.5 582.9 L1421.1 583.2 L1421.7 583.5 L1422.3 582.7 L1422.9 581.5 L1423.5 581.4 L1424.1 581 L1424.7 581.2 L1425.2 581.1 L1425.8 579.8 L1426.4 580.4 L1427 579.9 L1427.6 579.7 L1428.2 579 L1428.8 579 L1429.4 577.6 L1430 577.9 L1430.6 576.1 L1431.2 575.2 L1431.8 574 L1432.4 574.5 L1433 573.4 L1433.6 573.3 L1434.2 572.7 L1434.8 571.3 L1435.4 572.4 L1436 572.2 L1436.6 571.6 L1437.2 571.9 L1437.8 571.6 L1438.4 571.8 L1439 571.8 L1439.6 571.9 L1440.2 572.9 L1440.8 572.2 L1441.4 573.8 L1442.1 573.7 L1442.7 573.7 L1443.3 573.3 L1444 571.4 L1444.6 569.9 L1445.3 567.6 L1445.9 568.1 L1446.4 566.2 L1447 565.1 L1447.5 564.5 L1448.1 565.3 L1448.7 563.6 L1449.3 561.5 L1449.9 560.8 L1450.6 559.9 L1451.2 560.1 L1451.8 557.8 L1452.4 556.2 L1453 554.4 L1453.6 553.4 L1454.1 551 L1454.7 547.7 L1455.3 543.7 L1456 542.8 L1456.6 538.6 L1457.2 539.3 L1457.8 541 L1458.3 540 L1458.9 540.9 L1459.5 542 L1460.1 544.4 L1460.6 545.8 L1461.2 545.7 L1461.7 547.9 L1462.3 549.1 L1462.9 547.5 L1463.5 549 L1464.2 547.7 L1464.8 547.7 L1465.4 546.2 L1466 546.3 L1466.6 545.8 L1467.1 541.9 L1467.7 541.7 L1468.3 537 L1468.8 536.1 L1469.4 533.5 L1470 530 L1470.5 527.1 L1471.1 524.2 L1471.7 520.8 L1472.2 516.2 L1472.8 513.6 L1473.4 512.6 L1474 512.7 L1474.5 510.5 L1475.1 504.6 L1475.7 505.1 L1476.3 503.6 L1476.8 501.6 L1477.4 497.8 L1478 492.3 L1478.7 498 L1479.4 506.5 L1480.1 510.8 L1480.7 512.6 L1481.4 515.1 L1482.1 510.9 L1482.9 509 L1483.6 506.5 L1484.2 501.9 L1484.8 499 L1485.3 498.9 L1485.9 495.2 L1486.6 490.7 L1487.2 487.7 L1487.9 486.6 L1488.5 489.3 L1489.1 487.9 L1489.8 490.1 L1490.4 491 L1491 491.6 L1491.6 490.9 L1492.2 492.2 L1492.8 497.4 L1493.5 496.6 L1494.1 500.9 L1494.7 498.3 L1495.2 492.4 L1495.8 491.5 L1496.4 485.2 L1497 485.1 L1497.6 480.5 L1498.2 479.7 L1498.9 479 L1499.5 477.2 L1500.1 478.1 L1500.8 473.2 L1501.4 472.3 L1502.1 471 L1502.7 466.7 L1503.2 465.7 L1503.8 462.5 L1504.4 456.8 L1505 459.3 L1505.7 463.7 L1506.3 466.8 L1506.9 473.9 L1507.5 479.1 L1508.1 478.2 L1508.6 480.5 L1509.2 483.8 L1509.8 479.7 L1510.3 477.2 L1510.9 469.4 L1511.5 468.2 L1512.2 465.7 L1512.8 459.6 L1513.5 454 L1514.1 451.4 L1514.8 447.4 L1515.4 446.4 L1516 442 L1516.6 449.9 L1517.1 449.5 L1517.7 455.4 L1518.4 465 L1519 471.3 L1519.7 476.7 L1520.6 499.4 L1521.2 505.2 L1521.7 507.5 L1522.3 512.2 L1522.9 503.9 L1523.4 501.6 L1524 493.8 L1524.6 495.8 L1525.1 500.7 L1525.7 505.1 L1526.4 501.3 L1527 494.3 L1527.7 489.5 L1528.4 495.3 L1529 497.8 L1529.7 502.3 L1530.3 501.7 L1530.8 500.1 L1531.4 499.2 L1531.9 500.4 L1532.5 498 L1533.1 499.6 L1533.7 504 L1534.2 505.6 L1534.8 508 L1535.3 509.6 L1535.9 514.7 L1536.5 516.5 L1537 522.2 L1537.6 519.3 L1538.2 520.1 L1538.7 520.1 L1539.3 516.5 L1539.9 516.6 L1540.4 514.2 L1541 510.1 L1541.6 510.2 L1542.2 512.3 L1542.8 509.5 L1543.5 513.2 L1544.1 514.1 L1544.7 512.2 L1545.3 511.1 L1545.9 511.4 L1546.4 515.7 L1547 514.9 L1547.6 517.9 L1548.2 519.5 L1548.7 522.6 L1549.3 523.8 L1549.9 523.3 L1550.4 524.3 L1551 527 L1551.5 526.4 L1552.1 520.9 L1552.7 516.8 L1553.2 515.1 L1553.8 512.7 L1554.4 507.8 L1554.9 503.5 L1555.5 503.6 L1556.1 499.4 L1556.8 498.9 L1557.4 499.8 L1558.1 498 L1558.6 493.7 L1559.2 493.4 L1559.8 488.8 L1560.3 483.8 L1560.8 479 L1561.4 479.4 L1562 478.5 L1562.6 476 L1563.1 474.2 L1563.7 473.2 L1564.3 470.9 L1564.9 470.5 L1565.4 469.9 L1566 469.7 L1566.5 469.4 L1567.1 465.2 L1567.7 464.7 L1568.2 464.4 L1568.8 468.7 L1569.3 469 L1569.9 466.6 L1570.5 466.5 L1571.1 464.4 L1571.6 460.8 L1572.2 459.9 L1572.8 456.7 L1573.5 452.5 L1574.1 449.8 L1574.8 448.2 L1575.4 456.6 L1575.9 460.7 L1576.5 465.2 L1577.1 467 L1577.6 464.1 L1578.2 462.8 L1578.7 461.8 L1579.3 462.4 L1580 463.5 L1580.6 470.3 L1581.3 473.8 L1582 477.4 L1582.6 483.9 L1583.3 486.5 L1583.9 484.1 L1584.4 481.7 L1585 480.7 L1585.5 481.7 L1586.1 478 L1586.7 476.8 L1587.2 469.7 L1587.8 466.5 L1588.4 459.5 L1589 459.3 L1589.6 457.4 L1590.1 450.7 L1590.7 451 L1591.3 448.5 L1591.8 447.7 L1592.4 450.9 L1592.9 446.7 L1593.5 446.8 L1594.2 443.1 L1594.8 441.6 L1595.5 436.8 L1596.2 432.4 L1596.8 431.2 L1597.5 428.3 L1598.1 427.5 L1598.6 431.6 L1599.2 435.2 L1599.7 436.9 L1600.3 435.4 L1600.9 429 L1601.4 426.9 L1602 425.2 L1602.6 422.6 L1603.3 417.8 L1603.9 419.7 L1604.6 416.9 L1605.2 413.3 L1605.7 411.3 L1606.3 408.4 L1607 412.2 L1607.6 416.8 L1608.2 415.6 L1608.9 415.5 L1609.6 423.4 L1610.4 431.8 L1611.1 436.8 L1611.7 436.3 L1612.2 431.7 L1612.8 432.1 L1613.4 426.9 L1614.1 434.9 L1614.7 435.4 L1615.4 438.2 L1616 435.6 L1616.6 430.5 L1617.1 431.2 L1617.7 429.7 L1618.4 433.3 L1619 441.5 L1619.7 445.3 L1620.3 444.9 L1620.8 448.8 L1621.4 454.7 L1621.9 451.6 L1622.5 452.4 L1623.2 455.4 L1623.8 457 L1624.5 459.5 L1625.1 455.5 L1625.7 453.4 L1626.4 454.8 L1627 455.5 L1627.6 452.4 L1628.3 451.8 L1628.9 447.1 L1629.6 443.9 L1630.3 449.8 L1630.9 452.3 L1631.6 455.3 L1632.2 457.2 L1632.8 456.1 L1633.3 449.9 L1633.9 453.9 L1634.6 456.1 L1635.4 459.4 L1636.1 465.2 L1636.8 469.3 L1637.4 473.2 L1638.1 472.3 L1638.7 472.5 L1639.2 467.6 L1639.8 466.3 L1640.4 465.2 L1641.1 469.7 L1641.7 472.1 L1642.4 478 L1643 485.9 L1643.5 491.9 L1644.1 496.5 L1644.7 493.3 L1645.3 494.3 L1646 493.8 L1646.6 492.2 L1647.2 491 L1647.8 485.9 L1648.3 485.1 L1648.9 480.6 L1649.5 479.4 L1650.1 480.5 L1650.6 476.5 L1651.2 471.2 L1651.7 472.4 L1652.3 470.3 L1652.9 474.1 L1653.5 473.9 L1654 471.4 L1654.6 473.2 L1655.2 472.3 L1655.9 477.8 L1656.5 477.3 L1657.2 483.7 L1657.8 484.4 L1658.3 491.1 L1658.9 493.1 L1659.5 489.6 L1660 487 L1660.6 483.8 L1661.1 477.9 L1661.7 478 L1662.4 480.3 L1663 484.9 L1663.7 489.4 L1664.4 487.5 L1665 485.9 L1665.7 485.1 L1666.3 485.5 L1666.8 487.2 L1667.4 491.4 L1668 490.8 L1668.5 488.6 L1669.1 488.1 L1669.7 482.2 L1670.2 482.3 L1670.8 479.2 L1671.5 478.3 L1672.2 476.1 L1672.8 476.6 L1673.4 476.7 L1673.9 469.8 L1674.5 468.6 L1675.1 468.1 L1675.7 468.4 L1676.4 462.9 L1677 462.4 L1677.6 459 L1678.2 462.8 L1678.7 461.4 L1679.3 461 L1679.9 462.6 L1680.4 462.5 L1681 469.5 L1681.6 470.9 L1682.3 472.6 L1682.9 477.7 L1683.6 480.9 L1684.2 478.6 L1684.7 478.6 L1685.3 478.7 L1685.8 476.1 L1686.4 478 L1687 481.9 L1687.6 479 L1688.1 480.4 L1688.7 483.4 L1689.3 483.7 L1689.9 483.8 L1690.6 486.6 L1691.2 489.4 L1691.8 491.5 L1692.4 488 L1692.9 486 L1693.5 487.3 L1694.1 486.5 L1694.7 490 L1695.2 496.8 L1695.8 497.9 L1696.5 503.5 L1697.1 510.6 L1697.8 519.2 L1698.5 522.4 L1699.2 523.5 L1699.8 524.7 L1700.3 522.3 L1700.9 520.5 L1701.4 519.4 L1702 520.6 L1702.6 522.3 L1703.2 522.8 L1703.7 523.6 L1704.3 525.3 L1704.9 524.9 L1705.5 522.1 L1706 522.8 L1706.6 522.5 L1707.1 521.8 L1707.7 519.8 L1708.3 519.3 L1708.8 521.7 L1709.4 519.1 L1710 522.8 L1710.5 522.5 L1711.1 523.5 L1711.7 527.5 L1712.2 529.9 L1712.8 532.5 L1713.4 533.4 L1714.1 539.3 L1714.8 543.4 L1715.5 545.4 L1716.1 547.4 L1716.8 550.5 L1717.4 549.3 L1718 547.5 L1718.5 546.8 L1719.1 545.6 L1719.7 544.8 L1720.3 544.9 L1720.8 546.1 L1721.4 548.4 L1721.9 548.6 L1722.5 549 L1723.1 549.1 L1723.6 546.8 L1724.2 545.8 L1724.7 546.5 L1725.3 544.8 L1725.9 546 L1726.5 545.4 L1727 545.5 L1727.6 547.4 L1728.2 547.6 L1728.8 545.3 L1729.3 544.8 L1729.9 543.1 L1730.4 541.5 L1731 539.1 L1731.6 537.9 L1732.2 537.9 L1732.7 540.5 L1733.3 541.9 L1733.9 540.5 L1734.5 538.9 L1735 537.1 L1735.6 538.3 L1736.1 535.7 L1736.7 534.8 L1737.3 534.7 L1737.8 536.5 L1738.4 537.1 L1738.9 535.5 L1739.5 535.7 L1740.1 536.2 L1740.7 532.4 L1741.2 534 L1741.8 532.3 L1742.4 532 L1743 533.2 L1743.5 530.5 L1744.1 531 L1744.6 531.5 L1745.2 530 L1745.8 531.1 L1746.3 532.4 L1746.9 533.8 L1747.5 536.2 L1748.1 535.5 L1748.6 538.4 L1749.2 538.9 L1749.7 538.7 L1750.3 540.5 L1751 541.6 L1751.6 541.9 L1752.2 544.4 L1752.9 545 L1753.5 543.9 L1754.1 544.1 L1754.6 541.4 L1755.2 542.1 L1755.8 541.1 L1756.5 540.2 L1757.1 537.8 L1757.8 537.3 L1758.4 538 L1759.1 536.2 L1759.9 540.4 L1760.7 543 L1761.3 544.6 L1762 544.3 L1762.6 543.6 L1763.2 547.2 L1763.9 547.7 L1764.5 547.9 L1765.1 548.7 L1765.7 545.9 L1766.2 545.9 L1766.8 546.7 L1767.4 545.3 L1768 544.8 L1768.6 544.2 L1769.1 545.2 L1769.7 545.5 L1770.3 544 L1770.9 543.9 L1771.4 542.6 L1772 542.8 L1772.5 544.3 L1773.1 544.7 L1773.6 546 L1774.2 546.3 L1774.8 545.8 L1775.4 546.8 L1776 547.6 L1776.7 547.2 L1777.3 545.8 L1777.9 546.9 L1778.5 545.6 L1779.1 546.9 L1779.7 545.8 L1780.3 544.8 L1780.8 542.9 L1781.4 543.1 L1782 541.1 L1782.6 540.2 L1783.2 540 L1783.8 538.6 L1784.4 539.7 L1785 538.1 L1785.6 538.5 L1786.2 537.2 L1786.9 539.4 L1787.5 540.3 L1788.2 541.1 L1788.8 554.7 L1789.4 553 L1790 554.2 L1790.5 553.3 L1791.1 551.7 L1791.7 551.7 L1792.3 552.6 L1792.9 552.7 L1793.4 553.3 L1794 554.2 L1794.6 555.6 L1795.2 554.6 L1795.8 553.6 L1796.4 554.1 L1797 552.2 L1797.6 552.7 L1798.2 552.8 L1798.8 550.8 L1799.4 550.8 L1800 551.7 L1800.5 551.7 L1801.1 550.9 L1801.6 552.7 L1802.2 550.9 L1802.7 550.6 L1803.3 551.7 L1803.9 553 L1804.5 551.2 L1805.2 550.5 L1805.8 550.4 L1806.4 552.3 L1807 553.9 L1807.6 554.7 L1808.2 555.6 L1808.8 555.1 L1809.3 554.7 L1809.9 555.5 L1810.5 554.6 L1811.1 553.5 L1811.7 554.2 L1812.3 554.4 L1812.8 556.1 L1813.4 556.4 L1814 555.6 L1814.6 555.3 L1815.2 554.9 L1815.8 556.1 L1816.4 554.2 L1817 554.6 L1817.6 553.4 L1818.2 552.7 L1818.8 549.7 L1819.5 548.4 L1820.1 545.9 L1820.7 543 L1821.3 543.5 L1821.8 542.1 L1822.4 540.7 L1822.9 540.9 L1823.5 539.2 L1824 539.5 L1824.6 539.1 L1825.2 538.7 L1825.7 538.4 L1826.3 538.9 L1826.8 536.3 L1827.4 537.4 L1827.9 536.3 L1828.5 536.2 L1829.1 535.1 L1829.7 536.4 L1830.3 537.2 L1830.9 536.2 L1831.5 536.2 L1832.1 534.2 L1832.7 535.2 L1833.3 535.3 L1833.9 536.6 L1834.5 536.9 L1835.1 538.9 L1835.7 540.1 L1836.3 539.3 L1836.9 537.2 L1837.6 534.4 L1838.2 533.6 L1838.8 532.4 L1839.5 534.3 L1840.1 535.2 L1840.8 535 L1841.4 534.3 L1842.1 535.3 L1842.7 534.6 L1843.3 533.8 L1843.8 535.7 L1844.4 533.9 L1845 535.3 L1845.6 536.6 L1846.2 537.1 L1846.7 538.8 L1847.3 541.6 L1847.9 542.1 L1848.6 544 L1849.2 545 L1850 538.3 L1850.8 535.3 L1851.4 534.6 L1852 532.4 L1852.5 531.9 L1853.1 530.3 L1853.7 529.5 L1854.3 530.2 L1854.8 529.6 L1855.4 529.5 L1855.9 528.7 L1856.5 530.9 L1857 531 L1857.6 530.4 L1858.2 529 L1858.8 528.5 L1859.4 527.9 L1860 528.3 L1860.6 528.6 L1861.2 529.5 L1861.8 527.5 L1862.4 528.5 L1863 525.5 L1863.6 524.6 L1864.1 526.5 L1864.7 524.6 L1865.3 523.7 L1866 523.9 L1866.6 524 L1867.2 522.1 L1867.8 523.4 L1868.4 526.8 L1869 527.8 L1869.6 530.4 L1870.1 530.9 L1870.7 530 L1871.2 528.8 L1871.8 529.2 L1872.3 529.4 L1872.9 528.7 L1873.5 527.9 L1874 527.5 L1874.6 526.4 L1875.2 528.8 L1875.7 526.6 L1876.3 528.1 L1876.9 527.1 L1877.6 528.4 L1878.2 528.3 L1878.9 531.2 L1879.5 531.6 L1880.2 532.4 L1880.8 533 L1881.3 531.8 L1881.9 532.1 L1882.4 530.5 L1883 531.6 L1883.5 532.2 L1884 533.7 L1884.6 532.9 L1885.2 533.5 L1885.7 532.4 L1886.3 531.9 L1886.8 529.3 L1887.4 530 L1888 529.8 L1888.5 528.8 L1889.1 529.8 L1889.7 531.2 L1890.2 530.6 L1890.8 531.8 L1891.3 533.4 L1891.9 533 L1892.4 532.4 L1893 532.1 L1893.6 533.6 L1894.2 534.8 L1894.9 537.5 L1895.5 536.5 L1896.1 538.7 L1896.7 540.1 L1897.3 540.1 L1898 536.9 L1898.6 533.5 L1899.2 533.3 L1899.9 533.1 L1900.5 530.4 L1901.2 529.1 L1901.8 527.6 L1902.5 528.2 L1903.1 529.3 L1903.7 527 L1904.4 527.1 L1905 527.5 L1905.6 526.2 L1906.2 525.9 L1906.7 526.4 L1907.3 527.4 L1907.9 529.5 L1908.5 528.6 L1909.1 526.6 L1909.7 525.6 L1910.3 524.7 L1910.9 524.6 L1911.5 525.4 L1912.1 527.8 L1912.6 524.8 L1913.2 527.6 L1913.8 527.9 L1914.4 527.4 L1915 527.2 L1915.6 527.4 L1916.2 527.7 L1916.8 528.5 L1917.4 528.7 L1918 527.3 L1918.6 528.5 L1919.2 528.4 L1919.7 529.3 L1920.3 528.3 L1920.8 528.9 L1921.4 531.6 L1921.9 531.7 L1922.5 529.8 L1923.1 530.5 L1923.7 528.6 L1924.3 530.8 L1924.9 530.7 L1925.5 530.4 L1926.1 528.1 L1926.7 529.1 L1927.5 532.4 L1928.3 537.2 L1928.9 537.8 L1929.4 537.1 L1930 536.1 L1930.5 537.4 L1931.1 535.5 L1931.6 536.9 L1932.2 537.2 L1932.8 536 L1933.3 536.7 L1933.9 535 L1934.5 534.3 L1935.1 535.4 L1935.8 537.2 L1936.4 538.4 L1937 538.2 L1937.6 538.8 L1938.1 539 L1938.7 540.9 L1939.2 541.9 L1939.8 540.4 L1940.3 540.8 L1940.9 540.7 L1941.5 539.2 L1942.1 540.2 L1942.6 539.2 L1943.2 536 L1943.8 536.2 L1944.4 535.6 L1944.9 535.2 L1945.5 536.8 L1946 537.2 L1946.6 537.6 L1947.1 536.3 L1947.7 537.6 L1948.3 535.4 L1948.9 535.7 L1949.5 535.8 L1950 532.8 L1950.6 533.7 L1951.2 533.7 L1951.8 532.5 L1952.3 534.6 L1952.9 535.3 L1953.5 536.2 L1954.1 535.7 L1954.7 536.9 L1955.2 539.5 L1955.8 538.6 L1956.4 538.1 L1957 538.2 L1957.7 538.3 L1958.3 538 L1959 535.6 L1959.6 534.4 L1960.3 534.3 L1960.9 531.3 L1961.6 528.6 L1962.2 524.6 L1962.8 524.6 L1963.3 525.6 L1963.9 523.5 L1964.4 523.7 L1965 521.9 L1965.5 523.8 L1966.1 521.7 L1966.7 521.7 L1967.3 522.1 L1967.8 519.7 L1968.4 518.4 L1969 517.8 L1969.6 515.9 L1970.3 513.8 L1970.9 513 L1971.5 515.1 L1972.1 511.8 L1972.6 513.2 L1973.2 516.8 L1973.8 514.9 L1974.4 516.1 L1975 514.3 L1975.5 515.3 L1976.1 515.4 L1976.7 515.9 L1977.3 514.5 L1977.9 515.3 L1978.5 514.3 L1979.1 513.2 L1979.7 512 L1980.3 510.1 L1981 510 L1981.6 510.1 L1982.2 505.1 L1982.9 499.4 L1983.6 498.5 L1984.2 497 L1984.9 496.5 L1985.5 495.3 L1986.2 495.8 L1986.8 501 L1987.4 501.4 L1988 503.4 L1988.6 502.4 L1989.1 499.5 L1989.7 499.7 L1990.3 500.4 L1990.9 496.8 L1991.6 496.2 L1992.2 494.6 L1992.8 494 L1993.3 494.6 L1993.9 494.8 L1994.4 493.6 L1995 496.4 L1995.5 492.1 L1996.1 493.6 L1996.7 495.1 L1997.3 495.9 L1997.8 496.7 L1998.4 494.7 L1999 494.6 L1999.7 491.8 L2000.3 492.2 L2000.9 489.6 L2001.6 487.8 L2002.2 492.6 L2002.9 494.6 L2003.5 495.5 L2004.1 494.3 L2004.6 495.8 L2005.2 497.4 L2005.8 494.6 L2006.5 497.3 L2007.1 500.3 L2007.8 502.3 L2008.4 503.5 L2009 498.8 L2009.5 497.9 L2010.1 497 L2010.7 497.5 L2011.3 498.8 L2012 496.3 L2012.6 497 L2013.2 496.9 L2013.9 496.7 L2014.5 496.5 L2015.2 495.5 L2015.8 490.5 L2016.5 486.8 L2017.1 482.4 L2017.8 480.2 L2018.4 475.2 L2019.1 474.4 L2019.7 476.5 L2020.4 471.1 L2021 474.8 L2021.7 472.4 L2022.3 473.7 L2022.8 472.6 L2023.4 473.5 L2024 464.5 L2024.6 456.2 L2025.2 450.1 L2025.8 445.1 L2026.3 444.7 L2026.9 442.2 L2027.5 438.4 L2028.1 433.4 L2028.7 436 L2029.3 430.2 L2030 428 L2030.7 422 L2031.6 430.2 L2032.2 432.1 L2032.8 437.8 L2033.3 437.6 L2033.9 445.5 L2034.5 448.5 L2035.1 449 L2035.7 447.1 L2036.3 449.6 L2036.9 444.4 L2037.5 440.8 L2038.1 440.1 L2038.6 432.8 L2039.2 430.2 L2039.8 427.8 L2040.4 426.7 L2041 431.8 L2041.6 433.4 L2042.2 438.4 L2042.8 438.3 L2043.4 436 L2043.9 432.6 L2044.5 429.7 L2045.1 430.2 L2045.7 437.1 L2046.2 442.1 L2046.8 449 L2047.4 448.5 L2048 449.8 L2048.6 452.9 L2049.2 453.4 L2049.8 454.8 L2050.4 448.7 L2050.9 449.5 L2051.5 443.2 L2052.1 440.2 L2052.7 440 L2053.2 443.9 L2053.8 447.4 L2054.4 447.8 L2055 451.5 L2055.6 450.9 L2056.2 453 L2056.8 457.7 L2057.4 453 L2057.9 448.9 L2058.5 446.6 L2059.1 451.2 L2059.7 451.9 L2060.3 454.8 L2060.9 457.9 L2061.5 455.3 L2062 454.2 L2062.6 451.6 L2063.2 453.6 L2063.8 451.3 L2064.4 444.4 L2065 441.9 L2065.6 440.1 L2066.2 438.9 L2066.7 433.6 L2067.3 430.2 L2067.9 428.6 L2068.5 429.8 L2069.1 424.6 L2069.7 422.5 L2070.3 422 L2070.9 422.8 L2071.4 428.6 L2072 427.1 L2072.6 426.7 L2073.2 426.7 L2073.8 432.6 L2074.3 431.7 L2074.9 431.4 L2075.5 431.2 L2076.1 439 L2076.7 439 L2077.3 437.8 L2077.9 440.1 L2078.5 439 L2079.1 441.7 L2079.6 439.9 L2080.2 442.8 L2080.8 444.9 L2081.4 446.1 L2082 451.2 L2082.5 453 L2083.1 450.8 L2083.7 454.8 L2084.3 453.1 L2084.9 452.1 L2085.5 452.7 L2086.1 450.7 L2086.7 450.1 L2087.3 455.3 L2087.8 457.1 L2088.4 460.7 L2089 461.7 L2089.6 465.1 L2090.2 468.3 L2090.8 469.1 L2091.3 463.6 L2091.9 460.6 L2092.5 461.8 L2093.1 457.9 L2093.7 451 L2094.3 446.6 L2094.9 445 L2095.5 444 L2096 437.5 L2096.6 440.7 L2097.2 437.8 L2097.8 442 L2098.3 441.2 L2098.9 443.1 L2099.5 445.4 L2100.1 443.4 L2100.7 442.7 L2101.3 443.1 L2101.9 446.7 L2102.4 448.3 L2103 453.6 L2103.6 460.2 L2104.2 467.4 L2104.8 478.2 L2105.4 473.3 L2106 467.5 L2106.6 461.8 L2107.2 464.2 L2107.8 464.8 L2108.3 464.8 L2108.9 469 L2109.5 468.3 L2110.1 467.5 L2110.7 463 L2111.2 464.2 L2111.8 461.8 L2112.4 457.4 L2113 458.2 L2113.6 453.6 L2114.2 455 L2114.7 458.3 L2115.3 459.5 L2115.9 462.5 L2116.5 464.9 L2117.1 466.5 L2117.7 469.2 L2118.3 468.8 L2118.9 468.9 L2119.5 470.9 L2120 474.8 L2120.6 478.8 L2121.2 475.6 L2121.8 473.3 L2122.3 471.9 L2122.9 469.4 L2123.5 465.4 L2124.1 463.9 L2124.7 466.7 L2125.3 466 L2125.9 469.4 L2126.5 467 L2127.1 465 L2127.6 462.4 L2128.2 458.3 L2128.8 455.3 L2129.4 456 L2129.9 452.6 L2130.5 450.8 L2131.1 450.1 L2131.7 451.8 L2132.3 457.6 L2132.9 461.2 L2133.5 464.2 L2134.1 463.9 L2134.7 458.4 L2135.2 460.3 L2135.8 460.7 L2136.4 463.2 L2137 462.2 L2137.6 463.6 L2138.2 462.2 L2138.8 456.7 L2139.3 458.3 L2139.9 451.3 L2140.5 447.7 L2141.1 445 L2141.7 448.4 L2142.3 445.4 L2142.9 448.2 L2143.5 444.5 L2144 449.7 L2144.6 449.8 L2145.2 454.2 L2145.8 447.5 L2146.4 443.3 L2147 441.9 L2147.6 444.1 L2148.2 446.3 L2148.7 450.8 L2149.3 453.6 L2149.9 453.6 L2150.5 447.4 L2151.1 438.4 L2152.2 430.2 L2152.8 422.2 L2153.4 418 L2154 406.8 L2154.6 403.3 L2155.2 401.7 L2155.8 392.2 L2156.3 384.8 L2156.9 379.9 L2157.5 377.1 L2158.1 377.4 L2158.7 373 L2159.2 373.9 L2159.8 368.9 L2160.4 365.8 L2161 364.1 L2161.6 362.7 L2162.2 365.3 L2162.7 368.1 L2163.3 376.1 L2163.9 374 L2164.5 367.8 L2165.1 368.1 L2165.7 366.1 L2166.2 367.1 L2166.8 363.5 L2167.4 356.5 L2168 353.6 L2168.6 359.4 L2169.2 355 L2169.8 354.7 L2170.4 347.4 L2171 349.4 L2171.6 348.5 L2172.2 357.1 L2172.8 356.6 L2173.3 358 L2173.9 360 L2174.5 358.8 L2175.1 363.2 L2175.7 365 L2176.2 363.8 L2176.8 363.8 L2177.4 369.7 L2178 370.5 L2178.6 371.4 L2179.2 378.6 L2179.8 374 L2180.3 380.4 L2180.9 374.6 L2181.5 379.5 L2182.1 382.3 L2182.7 379.9 L2183.3 375.2 L2183.9 378.1 L2184.5 374.3 L2185.1 381.7 L2185.6 374.3 L2186.2 379.8 L2186.8 374.3 L2187.4 376.4 L2188 381.1 L2188.6 376.2 L2189.1 380.7 L2189.7 380.8 L2190.3 383.4 L2190.8 383.1 L2191.4 383.9 L2192 385.7 L2192.6 386.2 L2193.2 385.1 L2193.8 389.9 L2194.3 387.8 L2194.9 391.9 L2195.5 395.1 L2196.1 393 L2196.7 393.9 L2197.3 393.7 L2197.9 394.3 L2198.5 393.3 L2199.1 393.9 L2199.6 400.7 L2200.2 404.1 L2200.8 405 L2201.4 403.3 L2202 405.7 L2202.6 404.5 L2203.2 407.8 L2203.8 404.5 L2204.3 410.9 L2204.9 408.2 L2205.5 407.7 L2206.1 411.5 L2206.7 413.8 L2207.3 414.8 L2207.9 413.2 L2208.4 415.4 L2209 414.5 L2209.6 414.9 L2210.2 412.7 L2210.8 414 L2211.5 420 L2212.1 424.8 L2212.6 431.2 L2213.2 436.8 L2213.8 430 L2214.4 424.2 L2215 420 L2215.8 415.3 L2216.6 412.7 L2217.2 412.9 L2217.8 410.1 L2218.3 409.9 L2218.9 406.4 L2219.5 414.2 L2220.1 410.3 L2220.7 410.2 L2221.3 407.3 L2221.9 415.6 L2222.5 411 L2223.1 413.8 L2223.8 422.2 L2224.5 425 L2225.1 428.4 L2225.6 434.3 L2226.2 440.5 L2226.7 441.8 L2227.3 446 L2227.9 444.6 L2228.5 436.7 L2229.1 434.9 L2229.7 430.2 L2230.3 427.5 L2230.9 422.9 L2231.5 420 L2232.2 422.3 L2232.8 414.9 L2233.5 414.8 L2234.2 412.7 L2234.8 414.1 L2235.4 407.9 L2235.9 407.1 L2236.5 406.5 L2237.1 408.9 L2237.7 405.6 L2238.3 404.2 L2238.9 403 L2239.4 398.3 L2240 394.2 L2240.6 395 L2241.2 391.6 L2241.8 388.1 L2242.4 382 L2242.9 380.5 L2243.5 381.3 L2244.1 379.6 L2244.7 376.4 L2245.3 375.2 L2245.9 374.6 L2246.5 367.4 L2247.1 372.1 L2247.6 363.8 L2248.2 362.6 L2248.8 364 L2249.4 364.6 L2250 362.9 L2250.6 361.5 L2251.2 365.9 L2251.8 363.8 L2252.3 361.6 L2252.9 358.1 L2253.5 353 L2254.1 354.1 L2254.7 357.5 L2255.3 355.9 L2255.8 355.4 L2256.4 352.3 L2257 358.6 L2257.6 358.8 L2258.2 352.8 L2258.8 356.1 L2259.3 350.4 L2259.9 353.4 L2260.5 348.8 L2261.1 349.4 L2261.7 345.8 L2262.3 344.2 L2262.9 349 L2263.4 349.7 L2264 341.4 L2264.6 338.2 L2265.2 340.7 L2265.8 340.1 L2266.4 342.6 L2267 339.7 L2267.6 347.8 L2268.1 339.7 L2268.7 343.2 L2269.3 344.7 L2269.9 340.6 L2270.5 342.4 L2271.1 342.3 L2271.7 337 L2272.2 344.9 L2272.8 340.7 L2273.4 334.3 L2274 335.4 L2274.6 338.2 L2275.2 331.6 L2275.8 326.8 L2276.3 334.6 L2276.9 326.8 L2277.5 330.7 L2278.1 334.8 L2278.7 332.1 L2279.3 334.7 L2279.9 338.9 L2280.5 338.4 L2281.1 343 L2281.7 348.1 L2282.3 350 L2282.9 352.9 L2283.5 348.6 L2284.1 353.4 L2284.7 354.4 L2285.3 363.1 L2285.9 359.7 L2286.5 365.6 L2287.1 363.2 L2287.8 350.9 L2288.4 348.1 L2289 343.3 L2289.7 335.9 L2290.3 336.5 L2291 335 L2291.6 341.4 L2292.3 344.3 L2293.3 354 L2293.9 349.4 L2294.4 344.1 L2295 346.5 L2295.6 338.4 L2296.2 347.4 L2296.9 347.4 L2297.5 348.1 L2298.2 353 L2298.8 350.8 L2299.5 356.9 L2300.1 357.6 L2300.8 351.4 L2301.4 348.8 L2302 352 L2302.6 352.5 L2303.3 351.1 L2303.9 342.3 L2304.6 335.5 L2305.2 339.8 L2305.9 334.6 L2306.5 332.4 L2307.1 335.2 L2307.6 335.5 L2308.2 330.9 L2308.8 333.6 L2309.4 340.2 L2310.1 342.4 L2310.7 346.2 L2311.3 350 L2312 358.4 L2312.6 357.8 L2313.3 350.3 L2313.9 347.6 L2314.6 338.4 L2315.2 333.1 L2315.9 324.5 L2316.5 323.9 L2317.3 321.4 L2318.1 322.9 L2318.7 326.7 L2319.2 328.4 L2319.8 328.8 L2320.8 348.1 L2321.4 354.1 L2322.1 361.5 L2322.7 365.6 L2323.4 357.4 L2324 360.1 L2324.7 355.9 L2325.4 362.1 L2326.2 361.7 L2327 353 L2327.8 348.1 L2328.4 348 L2329.1 354 L2329.7 361.7 L2330.3 362.3 L2331 357.8 L2331.7 368 L2332.4 381.1 L2333 381.1 L2333.7 374.8 L2334.3 374.4 L2334.9 367.5 L2335.6 376.7 L2336.2 382.2 L2336.9 386.9 L2337.5 393.1 L2338.2 397.1 L2338.8 398.5 L2339.4 403.7 L2340.1 411.1 L2340.7 413.1 L2341.3 412.9 L2342 406.8 L2342.7 401.9 L2343.3 398.5 L2343.9 403.2 L2344.6 410.2 L2345.3 406.3 L2345.9 400.3 L2346.6 395.6 L2347.2 398.1 L2347.8 391.5 L2348.5 393.9 L2349.1 394.7 L2349.7 394.2 L2350.2 394.6 L2350.8 404 L2351.4 402.4 L2352 405.1 L2352.6 408.3 L2353.1 413.8 L2353.7 414 L2354.4 414.7 L2355 407.9 L2355.7 406.3 L2356.3 404.8 L2356.9 404.7 L2357.6 411.3 L2358.2 409.2 L2358.8 407.8 L2359.5 403.7 L2360.1 406.3 L2360.7 399.9 L2361.3 399.9 L2361.9 399.5" fill="none" stroke="#0aa840" stroke-width="4.300" stroke-linejoin="round" stroke-linecap="round"/>
<circle cx="2318" cy="324.500" r="5.500" fill="#0aa840"/>
<!-- watermark logo -->
<clipPath id="cg"><circle cx="2163.500" cy="554.500" r="21.700"/></clipPath>
<g opacity=".75">
<circle cx="2163.500" cy="554.500" r="21.700" fill="#f9e988"/>
<path clip-path="url(#cg)" d="M2147.900 556.500C2148 553 2148.200 550.500 2149.100 548.400C2150 546 2151.500 545 2153.700 544.300C2156 543.300 2158.500 542.800 2160.700 542.800C2163.500 542.700 2166.500 542.700 2168.800 543.100C2171 543.700 2173 545 2174.700 546C2176.500 547 2179 548 2180.500 549.500C2181.300 550.800 2181.300 552.300 2180.700 553.600C2180 554.800 2179 555.700 2178.100 556.500L2173.500 561.200C2172 562.700 2171 564 2170 565.800C2169.200 567.300 2168.700 569 2168.300 570.500C2167.800 572.300 2167.600 574 2167.400 575.700L2167 582L2145.500 582L2146.500 566Z" fill="#8bd867"/>
<circle cx="2160.500" cy="549" r="3.900" fill="#fff"/>
<circle cx="2161.800" cy="549.400" r="2.500" fill="#6b7280"/>
<circle cx="2160.600" cy="548.900" r=".900" fill="#fff"/>
</g>
</svg>
<div class="ylab" style="top:190px">US$6万亿</div>
<div class="ylab" style="top:322px">US$4万亿</div>
<div class="ylab" style="top:455.5px">US$2万亿</div>
<div class="ylab" style="top:587px">US$0</div>
<div class="xlab" style="left:186.95px;letter-spacing:0.3px">2014</div><div class="xlab" style="left:366.95px;letter-spacing:0.3px">2015</div><div class="xlab" style="left:548.95px;letter-spacing:0.3px">2016</div><div class="xlab" style="left:730.95px;letter-spacing:0.3px">2017</div><div class="xlab" style="left:910.95px;letter-spacing:0.3px">2018</div><div class="xlab" style="left:1090.95px;letter-spacing:0.3px">2019</div><div class="xlab" style="left:1271.55px;letter-spacing:1.5px">2020</div><div class="xlab" style="left:1452.95px;letter-spacing:0.3px">2021</div><div class="xlab" style="left:1633.55px;letter-spacing:1.5px">2022</div><div class="xlab" style="left:1815.55px;letter-spacing:1.5px">2023</div><div class="xlab" style="left:1997.55px;letter-spacing:1.5px">2024</div><div class="xlab" style="left:2179.55px;letter-spacing:1.5px">2025</div><div class="xlab" style="left:2361.55px;letter-spacing:1.5px">2026</div>
<div class="tip">
<div class="t1">2025年10月9日 GMT+8 8:00:00</div>
<div class="t2">总市值: <b>US$4,322,028,086,772</b></div>
<div class="t3">交易量: <b>US$188,815,577,580</b></div>
</div>
</div>
</body>
</html>
